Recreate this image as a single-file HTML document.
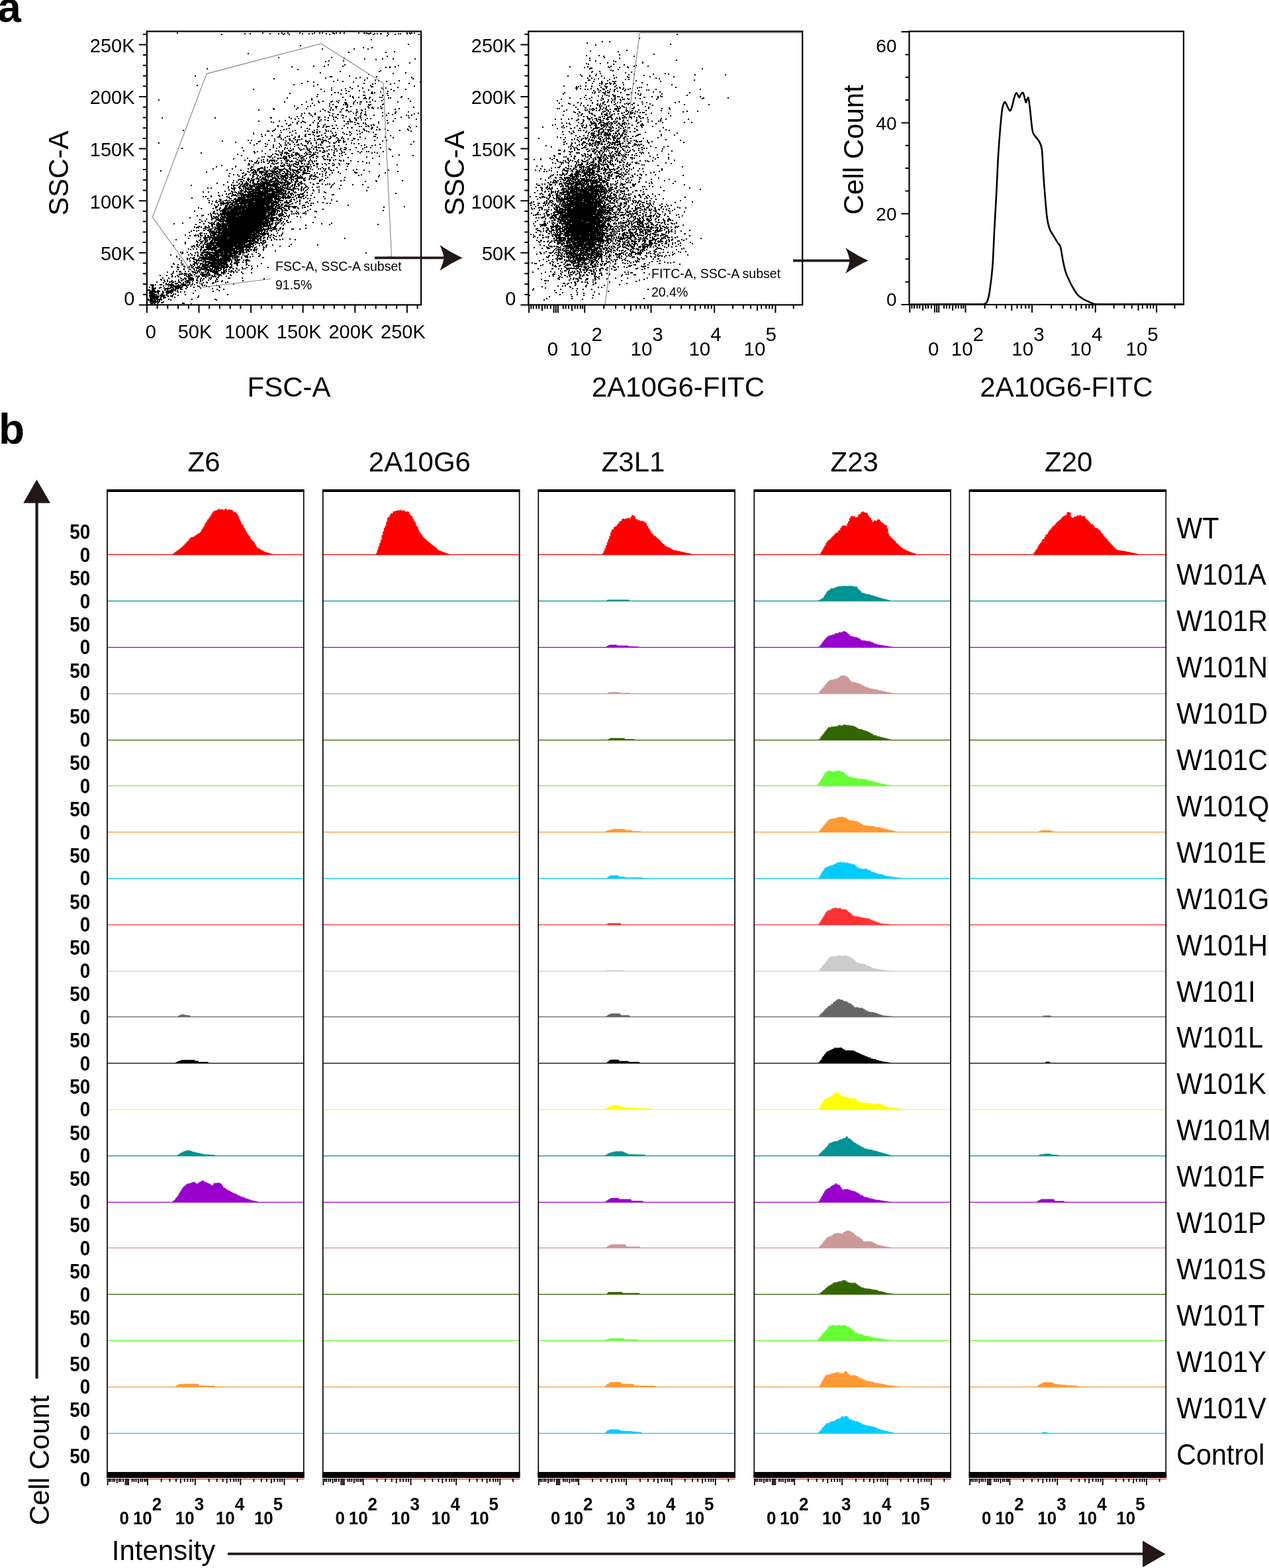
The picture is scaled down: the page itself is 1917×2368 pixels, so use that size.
<!DOCTYPE html><html><head><meta charset="utf-8"><title>Flow cytometry figure</title><style>html,body{margin:0;padding:0;background:#fff;}svg{display:block;}text{font-family:"Liberation Sans",Arial,sans-serif;}</style></head><body><svg width="1917" height="2368" viewBox="0 0 1917 2368" font-family="Liberation Sans, Arial, sans-serif" fill="#000"><text x="-3.8" y="33" font-size="64" font-weight="bold">a</text><text x="-2" y="670" font-size="64" font-weight="bold">b</text><path d="M267 50h2M396 50h2M425 50h2M434 50h2M452 50h2M474 50h2M482 50h2M486 50h2M502 50h3M507 50h2M513 50h2M519 50h2M541 50h2M549 50h3M553 50h2M559 50h2M585 50h2M614 50h2M618 50h2M621 50h2M625 50h2M369 51h2M377 51h2M407 51h2M420 51h2M429 51h2M456 51h2M466 51h2M471 51h2M492 51h2M504 51h2M555 51h4M565 51h2M569 51h2M574 51h3M601 51h2M604 51h2M614 51h2M619 51h2M334 52h2M427 52h2M436 52h2M497 52h2M563 52h2M586 52h2M596 52h2M632 52h2M584 54h2M560 60h2M616 67h2M453 69h2M548 72h2M561 72h2M486 74h2M534 74h2M555 74h2M595 78h2M526 79h2M582 79h2M374 81h2M584 85h2M420 87h2M500 87h2M519 88h2M550 89h2M577 89h2M593 89h2M626 89h2M567 90h2M496 92h2M518 92h2M491 93h2M618 95h2M495 98h2M520 98h2M601 99h2M473 100h2M489 100h2M517 100h2M440 101h2M588 101h2M596 101h2M582 102h2M588 102h2M312 104h2M449 105h2M574 107h2M513 108h2M572 108h2M483 110h2M612 110h2M593 111h2M556 112h2M294 115h2M527 115h2M498 116h4M568 116h2M543 117h2M621 117h2M491 118h2M537 118h2M554 118h2M413 119h2M623 119h2M509 121h2M550 121h2M566 121h2M571 122h2M602 122h2M464 123h2M503 123h2M517 123h2M583 123h2M473 124h2M533 124h2M634 124h2M455 126h2M549 126h2M566 126h2M595 126h2M617 126h2M562 127h2M589 127h2M443 128h2M479 128h2M297 129h2M559 129h2M473 130h2M540 130h2M625 130h2M560 131h4M528 132h2M600 132h2M500 133h2M547 133h2M576 133h2M582 133h2M521 134h2M531 134h2M382 135h2M484 135h2M578 135h2M590 135h2M612 135h2M500 136h2M515 136h2M556 136h2M522 137h2M542 137h2M594 137h2M489 138h2M526 138h2M585 138h2M549 139h2M561 139h2M574 139h2M505 140h2M510 140h2M565 140h2M437 141h2M522 141h2M560 141h4M584 141h2M514 142h2M479 143h2M500 143h2M548 144h4M577 144h2M585 144h2M528 145h2M478 146h2M532 146h2M606 146h2M517 147h2M532 147h2M541 147h2M551 147h2M558 147h2M573 147h2M576 147h2M605 147h2M433 148h2M533 148h2M550 148h2M586 148h2M589 148h2M470 149h2M549 149h2M552 149h2M557 149h2M616 149h2M579 150h2M239 151h2M470 151h2M521 151h2M562 151h2M511 152h2M536 152h2M576 152h2M480 153h2M487 153h2M501 153h2M508 153h2M566 153h2M619 153h2M429 154h2M462 154h2M499 154h2M534 154h2M543 154h4M553 154h2M558 154h2M600 154h2M481 155h2M510 155h2M520 155h4M539 155h2M471 156h2M533 156h2M497 157h2M521 157h4M533 157h2M543 157h2M579 157h2M455 158h2M502 158h2M518 158h2M521 158h3M556 158h2M559 158h2M577 158h2M474 159h2M524 159h2M557 159h2M444 160h2M468 160h2M497 160h2M464 161h2M506 161h4M524 161h2M529 161h2M555 161h2M574 161h2M523 162h2M562 162h2M624 162h2M449 163h2M499 163h2M507 163h2M556 163h2M561 163h2M570 163h2M576 163h2M412 164h2M462 164h2M517 164h2M563 164h2M575 164h2M602 164h2M413 165h2M447 165h2M487 165h2M551 165h2M596 165h2M390 166h2M498 166h2M502 166h2M515 166h2M523 166h2M538 166h2M545 166h2M490 167h2M522 167h4M546 167h2M483 168h2M529 168h2M495 169h2M513 169h3M526 169h2M538 169h3M551 169h2M597 169h2M616 169h2M497 170h2M545 170h2M577 170h2M459 171h2M466 171h2M475 171h2M533 171h2M537 171h2M586 171h2M596 171h2M631 171h2M455 172h2M467 172h2M502 172h2M544 172h2M551 172h2M625 172h2M475 173h2M509 173h3M550 173h2M592 173h2M469 174h2M497 174h2M516 174h2M537 174h2M552 174h2M564 174h2M583 174h2M613 174h2M621 174h2M454 175h2M501 175h2M518 175h2M544 175h2M577 175h2M616 175h2M448 176h2M471 176h2M522 176h2M543 176h2M436 177h2M480 177h4M490 177h2M503 177h2M506 177h3M605 177h2M244 178h2M324 178h2M408 178h3M457 178h2M481 178h2M495 178h2M517 178h2M535 178h2M540 178h2M544 178h2M617 178h2M439 179h2M450 179h2M509 179h2M535 179h2M554 179h2M559 179h2M596 179h2M445 180h2M480 180h2M503 180h2M527 180h2M537 180h2M628 180h2M484 181h2M490 181h2M545 181h2M551 181h2M430 182h2M474 182h2M494 182h3M528 182h2M537 182h2M584 182h2M390 183h2M421 183h2M450 183h2M456 183h2M482 183h2M505 183h2M519 183h2M593 183h2M409 184h2M458 184h2M524 184h4M529 184h4M571 184h2M412 185h2M441 185h2M448 185h2M454 185h2M460 185h2M472 185h2M535 185h2M479 186h3M539 186h2M548 186h2M551 186h2M571 186h2M585 186h2M432 187h2M448 187h2M522 187h2M525 187h2M541 187h2M438 188h2M490 188h2M536 188h2M552 188h2M563 188h2M437 189h2M467 189h3M479 189h2M507 189h2M560 189h2M564 189h2M419 190h2M435 190h2M488 190h2M501 190h2M519 190h2M555 190h2M419 191h2M425 191h2M481 191h2M492 191h6M542 191h2M545 191h2M552 191h2M556 191h2M617 191h2M628 191h2M454 192h2M479 192h2M487 192h2M492 192h2M561 192h2M569 192h2M524 193h2M530 193h3M562 193h2M619 193h2M436 194h2M463 194h2M502 194h4M509 194h2M516 194h2M561 194h2M415 195h2M432 195h2M466 195h2M548 195h3M560 195h2M572 195h2M581 195h2M615 195h2M428 196h2M478 196h2M491 196h2M568 196h2M572 196h3M276 197h2M413 197h2M423 197h2M445 197h2M474 197h2M538 197h2M550 197h2M585 197h2M603 197h2M616 197h2M403 198h4M411 198h2M441 198h2M460 198h2M464 198h2M492 198h2M495 198h2M499 198h2M542 198h2M553 198h2M620 198h2M471 199h2M478 199h2M482 199h2M527 199h2M556 199h2M424 200h2M437 200h2M472 200h4M506 200h2M517 200h2M528 200h2M546 200h2M563 200h2M382 201h2M446 201h2M478 201h2M490 201h2M501 201h2M382 202h2M519 202h2M530 202h2M543 202h2M394 203h2M461 203h2M465 203h5M472 203h2M507 203h2M523 203h2M539 203h2M566 203h3M400 204h2M422 204h2M440 204h2M460 204h2M485 204h2M503 204h2M528 204h2M410 205h2M451 205h2M474 205h2M481 205h2M491 205h2M502 205h2M506 205h2M589 205h2M395 206h2M421 206h2M433 206h2M436 206h2M460 206h3M478 206h4M498 206h2M504 206h2M564 206h4M419 207h2M422 207h2M445 207h2M450 207h3M493 207h2M499 207h2M516 207h2M543 207h2M581 207h2M430 208h2M487 208h2M508 208h2M569 208h2M593 208h2M424 209h2M443 209h2M468 209h2M474 209h2M498 209h2M515 209h2M518 209h2M533 209h4M551 209h2M414 210h2M424 210h2M436 210h3M455 210h2M480 210h4M496 210h2M510 210h2M525 210h2M534 210h2M427 211h2M445 211h2M449 211h2M452 211h2M479 211h2M483 211h2M486 211h2M540 211h2M374 212h2M379 212h2M405 212h2M437 212h2M448 212h2M461 212h2M474 212h3M488 212h4M509 212h2M512 212h3M518 212h2M531 212h2M565 212h2M583 212h2M335 213h2M392 213h2M414 213h2M431 213h2M440 213h2M466 213h3M492 213h2M511 213h2M577 213h2M390 214h2M448 214h2M461 214h4M485 214h4M495 214h2M507 214h2M518 214h4M624 214h2M355 215h2M442 215h2M447 215h2M465 215h2M477 215h2M511 215h2M518 215h2M239 216h2M377 216h2M430 216h2M434 216h3M469 216h2M485 216h3M497 216h2M503 216h4M530 216h2M387 217h2M400 217h2M421 217h2M454 217h2M464 217h2M469 217h2M477 217h2M534 217h2M541 217h2M403 218h2M437 218h2M444 218h2M450 218h2M483 218h2M522 218h2M573 218h2M620 218h2M383 219h2M412 219h2M423 219h2M430 219h4M448 219h4M456 219h2M480 219h2M484 219h2M550 219h2M566 219h2M459 220h4M471 220h2M504 220h2M511 220h2M545 220h2M561 220h2M400 221h3M412 221h2M424 221h2M444 221h2M477 221h2M496 221h3M421 222h2M462 222h2M475 222h2M493 222h2M504 222h2M553 222h2M365 223h2M412 223h2M430 223h2M450 223h2M470 223h2M477 223h2M480 223h4M485 223h2M520 223h2M537 223h2M550 223h2M559 223h2M574 223h2M274 224h2M417 224h2M433 224h2M438 224h2M463 224h2M487 224h2M514 224h2M522 224h2M429 225h2M442 225h2M452 225h2M458 225h2M463 225h3M467 225h2M473 225h2M505 225h4M547 225h2M587 225h2M407 226h2M442 226h2M455 226h2M477 226h2M496 226h2M500 226h2M513 226h2M519 226h4M528 226h2M589 226h2M435 227h2M439 227h2M453 227h2M464 227h4M478 227h2M488 227h2M367 228h2M395 228h2M416 228h2M420 228h2M426 228h2M436 228h4M482 228h3M489 228h2M493 228h2M504 228h2M508 228h2M515 228h2M383 229h2M388 229h2M467 229h2M490 229h2M540 229h2M545 229h2M553 229h2M556 229h2M578 229h2M422 230h2M425 230h2M431 230h3M442 230h3M461 230h2M466 230h2M469 230h2M476 230h2M486 230h4M516 230h2M519 230h2M565 230h2M303 231h2M384 231h2M425 231h2M429 231h3M433 231h2M446 231h4M473 231h2M479 231h2M503 231h3M543 231h2M561 231h2M569 231h2M400 232h2M415 232h2M425 232h2M432 232h2M435 232h2M450 232h2M459 232h2M462 232h3M495 232h2M512 232h2M515 232h2M531 232h2M358 233h2M411 233h2M417 233h2M423 233h3M432 233h2M440 233h2M446 233h2M449 233h3M463 233h2M466 233h4M473 233h4M496 233h2M521 233h2M419 234h2M445 234h4M451 234h2M471 234h2M503 234h2M602 234h2M364 235h2M409 235h2M424 235h2M435 235h3M439 235h2M442 235h2M454 235h3M461 235h2M470 235h4M489 235h2M494 235h2M505 235h2M516 235h2M623 235h2M404 236h2M428 236h3M440 236h2M452 236h2M459 236h2M469 236h2M477 236h3M487 236h2M512 236h2M572 236h2M592 236h2M395 237h2M398 237h2M406 237h4M414 237h2M431 237h3M436 237h2M457 237h2M467 237h2M479 237h2M486 237h2M494 237h2M553 237h2M427 238h2M430 238h2M437 238h2M450 238h2M454 238h4M467 238h2M472 238h2M500 238h2M525 238h2M373 239h2M390 239h2M411 239h2M419 239h2M422 239h4M427 239h3M432 239h2M443 239h2M446 239h2M462 239h2M477 239h2M488 239h2M562 239h2M352 240h2M419 240h2M430 240h4M454 240h3M458 240h2M397 241h2M403 241h2M429 241h2M448 241h2M468 241h2M489 241h4M494 241h2M497 241h2M506 241h2M369 242h2M388 242h2M394 242h2M408 242h8M433 242h4M451 242h2M457 242h2M460 242h2M498 242h2M503 242h2M512 242h2M518 242h2M376 243h2M379 243h2M403 243h2M406 243h2M409 243h4M417 243h2M424 243h2M431 243h2M440 243h2M451 243h6M460 243h2M467 243h2M470 243h2M474 243h2M477 243h2M497 243h2M514 243h2M518 243h2M529 243h2M380 244h2M387 244h2M397 244h2M414 244h2M433 244h2M437 244h6M446 244h2M455 244h2M465 244h2M474 244h2M540 244h2M547 244h2M390 245h2M394 245h2M398 245h2M406 245h2M447 245h2M450 245h2M454 245h2M471 245h2M384 246h4M411 246h2M419 246h2M425 246h2M431 246h2M449 246h3M466 246h2M553 246h2M557 246h2M375 247h2M389 247h2M404 247h2M410 247h3M416 247h3M424 247h2M433 247h2M444 247h3M455 247h3M472 247h2M477 247h4M490 247h2M496 247h2M502 247h2M511 247h2M523 247h2M526 247h2M413 248h2M428 248h2M436 248h2M442 248h2M446 248h3M450 248h2M459 248h2M463 248h4M479 248h2M486 248h2M525 248h2M572 248h2M374 249h4M382 249h2M429 249h2M439 249h2M442 249h2M448 249h2M468 249h2M478 249h2M492 249h2M504 249h2M512 249h2M599 249h2M334 250h2M408 250h2M423 250h2M426 250h2M433 250h2M436 250h2M473 250h3M502 250h2M355 251h2M424 251h6M435 251h2M438 251h2M443 251h3M452 251h2M455 251h4M460 251h5M524 251h2M326 252h2M355 252h2M379 252h4M399 252h2M408 252h2M414 252h3M419 252h2M446 252h2M453 252h4M464 252h4M469 252h2M478 252h2M395 253h2M399 253h2M403 253h2M417 253h2M437 253h2M448 253h2M463 253h2M486 253h2M496 253h2M508 253h2M378 254h2M392 254h6M412 254h2M416 254h4M429 254h2M452 254h3M458 254h3M465 254h2M321 255h2M350 255h2M374 255h2M389 255h4M399 255h2M413 255h5M419 255h2M428 255h3M436 255h4M464 255h2M468 255h2M480 255h2M483 255h2M488 255h2M491 255h2M496 255h2M379 256h2M382 256h2M388 256h2M398 256h2M406 256h2M413 256h4M421 256h7M431 256h2M441 256h2M449 256h5M459 256h2M464 256h2M471 256h2M522 256h2M538 256h2M342 257h2M363 257h2M380 257h2M384 257h2M390 257h2M398 257h3M410 257h2M413 257h2M422 257h2M433 257h2M438 257h2M441 257h6M453 257h4M460 257h2M464 257h2M490 257h2M498 257h2M503 257h2M533 257h2M549 257h2M586 257h2M242 258h2M378 258h2M385 258h2M388 258h2M401 258h5M407 258h2M418 258h2M423 258h4M432 258h4M445 258h6M458 258h4M489 258h2M500 258h2M373 259h2M382 259h2M385 259h2M391 259h7M409 259h11M422 259h2M428 259h2M433 259h4M442 259h2M449 259h2M464 259h2M467 259h2M486 259h2M557 259h2M600 259h2M311 260h2M375 260h2M384 260h4M394 260h6M401 260h4M415 260h3M420 260h4M429 260h2M433 260h2M437 260h2M442 260h2M447 260h2M450 260h4M457 260h3M492 260h2M510 260h2M535 260h2M367 261h2M380 261h4M391 261h6M400 261h2M411 261h4M416 261h2M421 261h2M438 261h2M444 261h2M458 261h5M474 261h2M478 261h2M501 261h2M536 261h4M581 261h2M346 262h2M365 262h2M386 262h2M401 262h2M405 262h7M413 262h2M418 262h2M426 262h3M430 262h6M438 262h2M449 262h2M457 262h11M491 262h2M513 262h2M370 263h3M382 263h4M394 263h2M398 263h4M403 263h2M406 263h3M416 263h2M419 263h2M422 263h3M431 263h2M437 263h3M441 263h3M446 263h2M457 263h2M482 263h2M486 263h2M352 264h2M358 264h2M377 264h2M387 264h2M402 264h3M410 264h3M414 264h2M422 264h2M433 264h3M437 264h2M456 264h2M469 264h3M475 264h2M497 264h2M545 264h2M369 265h2M381 265h2M389 265h2M396 265h2M399 265h2M403 265h2M406 265h2M411 265h2M417 265h2M424 265h4M429 265h6M439 265h4M446 265h4M453 265h2M491 265h2M541 265h2M572 265h2M345 266h2M360 266h2M366 266h2M382 266h2M402 266h9M417 266h5M424 266h2M427 266h3M441 266h2M445 266h2M448 266h3M467 266h4M472 266h4M486 266h2M381 267h2M388 267h2M392 267h3M400 267h2M403 267h2M407 267h2M414 267h2M423 267h2M426 267h6M434 267h2M438 267h4M443 267h2M452 267h2M455 267h2M468 267h2M476 267h3M571 267h2M365 268h2M381 268h2M392 268h2M396 268h2M404 268h2M410 268h3M419 268h3M424 268h2M430 268h3M437 268h2M442 268h2M448 268h7M456 268h2M479 268h2M494 268h2M520 268h2M368 269h2M374 269h2M387 269h2M397 269h5M404 269h2M411 269h7M419 269h3M427 269h2M433 269h2M438 269h3M448 269h10M460 269h2M467 269h2M491 269h2M374 270h2M379 270h2M386 270h6M395 270h2M398 270h4M421 270h3M425 270h4M431 270h2M445 270h5M458 270h2M470 270h2M475 270h2M361 271h6M373 271h5M382 271h3M394 271h2M397 271h6M408 271h5M416 271h4M436 271h2M439 271h5M448 271h2M466 271h2M473 271h2M486 271h2M359 272h2M380 272h4M390 272h2M393 272h2M398 272h4M403 272h3M408 272h3M415 272h2M418 272h2M424 272h3M428 272h5M442 272h2M458 272h4M482 272h4M519 272h2M352 273h2M367 273h2M374 273h2M378 273h2M382 273h2M401 273h2M406 273h5M417 273h4M432 273h2M439 273h2M447 273h3M459 273h2M482 273h2M489 273h2M514 273h2M567 273h2M607 273h2M363 274h2M371 274h2M381 274h2M388 274h4M394 274h3M402 274h2M406 274h2M411 274h6M418 274h4M430 274h6M445 274h6M454 274h2M482 274h2M551 274h2M568 274h2M343 275h2M357 275h2M365 275h2M377 275h2M382 275h2M388 275h2M396 275h16M413 275h2M420 275h8M440 275h2M351 276h2M365 276h2M372 276h2M377 276h2M381 276h2M388 276h2M393 276h2M397 276h4M403 276h5M413 276h3M417 276h2M420 276h2M428 276h4M433 276h6M445 276h3M452 276h4M468 276h2M327 277h2M361 277h2M365 277h2M370 277h5M381 277h4M389 277h3M393 277h11M406 277h2M412 277h8M423 277h4M429 277h2M438 277h2M445 277h2M450 277h2M456 277h2M478 277h4M504 277h2M360 278h2M365 278h2M368 278h2M372 278h4M383 278h8M392 278h2M395 278h4M403 278h6M411 278h4M417 278h5M425 278h2M428 278h2M433 278h5M449 278h3M454 278h2M459 278h2M472 278h2M486 278h2M494 278h2M497 278h2M337 279h2M349 279h2M363 279h2M369 279h2M377 279h2M386 279h2M389 279h3M394 279h7M402 279h4M407 279h12M421 279h2M429 279h5M441 279h2M444 279h3M450 279h3M473 279h2M491 279h2M502 279h2M532 279h2M547 279h2M288 280h2M349 280h2M352 280h4M357 280h2M367 280h3M371 280h4M376 280h2M380 280h6M389 280h12M406 280h14M427 280h4M434 280h2M441 280h2M451 280h2M461 280h2M514 280h2M362 281h2M365 281h3M373 281h2M378 281h5M384 281h2M387 281h13M402 281h4M407 281h8M417 281h3M423 281h4M430 281h2M439 281h3M444 281h2M450 281h2M500 281h2M344 282h2M352 282h2M361 282h2M365 282h2M368 282h4M377 282h4M383 282h3M389 282h2M392 282h5M398 282h3M403 282h2M412 282h5M419 282h2M426 282h2M433 282h3M447 282h2M455 282h2M462 282h3M481 282h2M360 283h3M375 283h2M378 283h4M385 283h9M396 283h2M399 283h4M407 283h3M417 283h7M427 283h2M434 283h2M437 283h2M444 283h2M460 283h2M471 283h2M478 283h2M499 283h2M555 283h2M313 284h2M318 284h2M344 284h2M349 284h2M353 284h3M362 284h2M367 284h2M370 284h6M379 284h2M386 284h3M390 284h2M393 284h2M397 284h8M408 284h4M415 284h2M422 284h5M429 284h7M437 284h2M442 284h4M455 284h2M465 284h2M350 285h5M361 285h2M367 285h2M372 285h2M377 285h4M385 285h28M415 285h4M420 285h2M423 285h3M429 285h2M432 285h4M446 285h2M449 285h2M454 285h2M458 285h2M512 285h2M364 286h2M370 286h2M373 286h15M391 286h2M398 286h5M406 286h10M418 286h4M426 286h3M434 286h5M440 286h2M443 286h2M463 286h2M345 287h2M353 287h2M364 287h2M375 287h2M381 287h12M397 287h8M408 287h2M411 287h3M416 287h4M421 287h7M439 287h5M450 287h2M454 287h2M457 287h2M472 287h2M481 287h2M362 288h2M366 288h2M370 288h2M380 288h3M385 288h6M392 288h2M396 288h2M402 288h12M417 288h8M428 288h5M442 288h2M454 288h2M461 288h2M473 288h2M553 288h2M339 289h2M349 289h2M363 289h3M371 289h2M376 289h8M385 289h3M389 289h7M399 289h3M403 289h6M410 289h6M417 289h2M420 289h2M423 289h3M427 289h2M430 289h3M436 289h2M442 289h2M306 290h2M314 290h2M351 290h2M354 290h2M360 290h2M364 290h2M368 290h4M373 290h6M381 290h2M384 290h4M389 290h2M392 290h2M395 290h4M402 290h3M410 290h11M422 290h2M430 290h2M435 290h2M445 290h2M459 290h2M481 290h2M489 290h2M329 291h2M350 291h2M356 291h2M363 291h2M374 291h2M378 291h2M383 291h3M387 291h2M390 291h15M410 291h2M413 291h10M424 291h4M436 291h2M444 291h4M463 291h2M491 291h2M347 292h2M360 292h4M366 292h2M376 292h7M384 292h11M396 292h13M410 292h3M418 292h2M421 292h2M424 292h9M434 292h2M439 292h4M457 292h2M471 292h2M597 292h2M341 293h2M345 293h2M350 293h2M358 293h2M362 293h6M370 293h2M374 293h6M381 293h3M385 293h2M388 293h3M392 293h24M417 293h3M421 293h3M426 293h6M438 293h2M453 293h5M344 294h2M351 294h3M355 294h2M363 294h2M367 294h14M388 294h4M393 294h3M398 294h4M404 294h5M412 294h7M420 294h2M424 294h2M427 294h3M432 294h2M439 294h2M442 294h2M449 294h4M456 294h2M501 294h4M329 295h2M335 295h2M351 295h5M360 295h2M363 295h36M400 295h2M403 295h16M420 295h2M428 295h2M435 295h2M439 295h2M446 295h2M458 295h2M463 295h2M469 295h2M318 296h2M331 296h2M349 296h2M356 296h3M367 296h2M373 296h2M376 296h2M380 296h23M404 296h16M426 296h3M430 296h2M434 296h2M445 296h2M451 296h2M306 297h2M310 297h2M318 297h2M342 297h2M364 297h2M368 297h2M371 297h2M375 297h16M393 297h4M399 297h12M414 297h5M420 297h4M426 297h2M434 297h5M450 297h2M456 297h3M488 297h2M344 298h3M359 298h12M372 298h7M380 298h2M384 298h13M399 298h20M424 298h2M428 298h4M433 298h2M438 298h2M441 298h3M450 298h6M461 298h2M474 298h2M289 299h2M365 299h6M377 299h2M381 299h14M396 299h14M414 299h5M420 299h2M426 299h2M432 299h6M447 299h2M454 299h2M313 300h2M346 300h4M354 300h3M359 300h8M368 300h3M374 300h2M377 300h29M407 300h5M415 300h2M418 300h7M427 300h2M430 300h2M447 300h2M458 300h2M464 300h2M468 300h2M490 300h2M331 301h2M353 301h2M358 301h2M361 301h18M380 301h25M406 301h6M414 301h9M439 301h2M443 301h2M333 302h2M341 302h2M355 302h3M359 302h2M363 302h14M378 302h6M385 302h2M388 302h6M396 302h6M403 302h4M409 302h2M415 302h2M419 302h4M444 302h2M452 302h2M500 302h2M315 303h2M326 303h2M332 303h2M339 303h5M345 303h2M349 303h4M358 303h5M365 303h6M372 303h20M393 303h6M400 303h9M411 303h2M422 303h6M432 303h2M437 303h3M452 303h2M467 303h2M320 304h2M330 304h2M336 304h2M352 304h2M355 304h7M364 304h2M368 304h5M375 304h8M385 304h19M407 304h4M412 304h6M420 304h2M438 304h3M448 304h2M508 304h2M325 305h2M333 305h2M343 305h2M347 305h2M354 305h5M361 305h4M366 305h2M370 305h6M377 305h5M385 305h2M388 305h23M412 305h4M417 305h5M430 305h4M437 305h2M452 305h2M463 305h2M479 305h2M315 306h2M327 306h2M336 306h2M342 306h7M350 306h4M355 306h4M362 306h2M365 306h13M379 306h15M395 306h24M423 306h2M429 306h8M446 306h2M461 306h2M487 306h2M332 307h4M338 307h7M349 307h2M356 307h2M361 307h2M364 307h4M369 307h13M384 307h23M409 307h5M418 307h2M441 307h2M465 307h2M469 307h2M472 307h2M493 307h2M498 307h2M319 308h2M336 308h3M344 308h2M349 308h3M354 308h7M363 308h9M375 308h19M395 308h13M409 308h5M416 308h2M420 308h2M426 308h2M434 308h2M440 308h2M452 308h2M329 309h2M333 309h2M336 309h2M343 309h2M347 309h6M357 309h4M364 309h2M368 309h4M374 309h29M404 309h2M409 309h9M421 309h2M424 309h2M431 309h2M437 309h2M323 310h2M329 310h2M333 310h2M340 310h4M346 310h2M351 310h5M358 310h3M363 310h3M368 310h32M402 310h4M409 310h6M417 310h4M425 310h2M458 310h3M468 310h3M525 310h2M350 311h6M357 311h15M373 311h27M401 311h13M420 311h2M424 311h2M429 311h8M456 311h2M325 312h4M340 312h4M345 312h6M353 312h20M375 312h25M401 312h2M404 312h5M410 312h4M415 312h4M420 312h4M429 312h2M432 312h2M437 312h2M440 312h9M464 312h2M610 312h2M326 313h2M339 313h4M347 313h4M354 313h8M363 313h10M374 313h9M384 313h13M398 313h9M409 313h4M415 313h2M421 313h2M426 313h2M435 313h3M442 313h2M459 313h3M579 313h2M299 314h2M325 314h2M332 314h2M344 314h3M348 314h2M351 314h3M355 314h4M361 314h19M382 314h30M415 314h2M418 314h4M424 314h2M427 314h2M443 314h4M449 314h2M456 314h2M303 315h2M321 315h2M331 315h2M338 315h11M353 315h2M356 315h11M368 315h2M372 315h22M395 315h12M410 315h6M418 315h6M429 315h2M435 315h2M450 315h2M331 316h2M337 316h2M340 316h2M345 316h2M348 316h5M354 316h16M371 316h31M403 316h14M424 316h2M430 316h3M436 316h2M468 316h2M487 316h2M327 317h2M330 317h2M335 317h2M339 317h5M348 317h16M365 317h14M380 317h2M383 317h26M410 317h3M416 317h3M426 317h2M430 317h2M327 318h2M334 318h6M344 318h2M347 318h13M361 318h2M365 318h12M378 318h31M410 318h7M419 318h3M425 318h2M429 318h6M464 318h2M578 318h2M293 319h2M323 319h2M332 319h2M336 319h6M343 319h10M355 319h5M361 319h33M395 319h12M409 319h8M418 319h2M421 319h2M426 319h2M439 319h2M447 319h2M475 319h2M322 320h3M335 320h4M341 320h3M346 320h3M351 320h25M377 320h24M402 320h5M409 320h8M425 320h2M440 320h2M461 320h2M477 320h2M338 321h5M344 321h11M356 321h43M400 321h3M404 321h12M418 321h2M425 321h2M429 321h2M449 321h2M317 322h2M321 322h3M327 322h2M332 322h2M335 322h5M341 322h3M346 322h4M353 322h49M405 322h2M409 322h2M412 322h2M431 322h2M446 322h2M457 322h4M324 323h2M328 323h2M333 323h3M337 323h6M344 323h2M347 323h13M361 323h35M397 323h6M404 323h6M414 323h2M417 323h2M422 323h5M440 323h2M443 323h2M447 323h2M450 323h2M461 323h2M314 324h2M318 324h2M332 324h3M336 324h9M346 324h5M352 324h17M370 324h27M398 324h4M404 324h12M417 324h2M421 324h2M425 324h4M306 325h2M329 325h3M333 325h3M342 325h7M350 325h12M363 325h9M373 325h16M390 325h11M406 325h2M409 325h7M420 325h4M426 325h2M432 325h2M436 325h2M297 326h2M304 326h2M318 326h2M329 326h2M338 326h2M341 326h16M358 326h4M363 326h36M401 326h7M410 326h2M423 326h4M436 326h2M322 327h2M326 327h2M334 327h8M343 327h2M346 327h11M359 327h43M403 327h4M409 327h3M421 327h2M428 327h4M434 327h2M448 327h2M319 328h2M324 328h6M332 328h2M340 328h2M344 328h33M378 328h21M400 328h6M408 328h3M417 328h2M453 328h2M475 328h2M286 329h2M323 329h3M332 329h2M335 329h9M345 329h42M391 329h13M405 329h2M408 329h10M424 329h2M435 329h2M319 330h4M325 330h2M328 330h3M334 330h5M341 330h58M405 330h8M417 330h4M425 330h2M311 331h2M326 331h2M329 331h2M333 331h6M341 331h48M390 331h15M408 331h6M423 331h2M429 331h2M301 332h2M319 332h2M326 332h4M331 332h2M336 332h4M341 332h58M402 332h4M408 332h2M411 332h3M418 332h2M421 332h3M329 333h3M333 333h2M337 333h5M343 333h55M400 333h7M408 333h3M412 333h3M416 333h2M419 333h2M423 333h3M433 333h2M304 334h2M309 334h2M324 334h3M331 334h2M334 334h4M341 334h2M345 334h51M399 334h8M411 334h2M432 334h2M332 335h7M340 335h5M346 335h45M392 335h9M402 335h2M406 335h3M410 335h2M422 335h2M427 335h2M438 335h2M301 336h2M314 336h2M319 336h2M323 336h2M329 336h2M336 336h2M343 336h53M398 336h5M404 336h2M416 336h2M419 336h3M434 336h3M472 336h2M275 337h2M316 337h2M321 337h2M327 337h2M342 337h2M347 337h33M381 337h7M389 337h15M406 337h2M411 337h2M419 337h3M425 337h2M500 337h2M262 338h2M307 338h2M318 338h2M321 338h3M327 338h6M334 338h17M353 338h29M383 338h10M394 338h4M400 338h5M406 338h2M409 338h2M415 338h2M418 338h2M424 338h2M429 338h2M485 338h2M295 339h2M320 339h2M323 339h2M327 339h7M335 339h2M339 339h8M348 339h12M361 339h34M396 339h5M403 339h2M406 339h3M410 339h2M416 339h3M497 339h2M570 339h2M319 340h2M326 340h8M335 340h63M402 340h2M406 340h2M427 340h2M461 340h2M314 341h2M319 341h3M327 341h11M339 341h56M398 341h12M416 341h2M300 342h2M309 342h2M320 342h2M330 342h13M344 342h52M397 342h6M404 342h3M408 342h2M414 342h4M293 343h2M298 343h2M303 343h2M311 343h2M315 343h2M324 343h2M327 343h5M335 343h4M341 343h2M345 343h4M351 343h36M388 343h6M395 343h3M405 343h2M296 344h2M299 344h2M309 344h2M313 344h2M321 344h2M324 344h2M328 344h5M334 344h8M344 344h42M387 344h9M404 344h3M408 344h2M411 344h6M423 344h2M307 345h2M324 345h5M331 345h17M349 345h31M381 345h10M393 345h3M397 345h2M404 345h7M422 345h2M427 345h2M461 345h2M310 346h2M315 346h6M324 346h2M328 346h21M350 346h14M365 346h20M388 346h7M398 346h6M413 346h6M422 346h2M426 346h2M440 346h4M452 346h2M323 347h3M327 347h7M336 347h12M349 347h31M381 347h7M390 347h13M404 347h2M411 347h2M292 348h2M299 348h2M307 348h3M313 348h3M317 348h2M329 348h6M336 348h56M393 348h3M399 348h2M407 348h4M420 348h2M288 349h2M296 349h2M315 349h2M318 349h5M326 349h2M329 349h4M335 349h52M390 349h7M399 349h2M403 349h2M409 349h2M417 349h2M317 350h4M323 350h2M329 350h3M336 350h2M339 350h46M386 350h5M394 350h2M399 350h2M402 350h2M285 351h2M316 351h2M321 351h2M324 351h18M343 351h42M387 351h5M394 351h2M397 351h4M302 352h4M319 352h2M322 352h5M331 352h8M341 352h7M349 352h32M382 352h11M404 352h2M418 352h2M426 352h2M301 353h2M308 353h2M311 353h2M317 353h2M321 353h4M329 353h16M347 353h33M383 353h4M390 353h15M302 354h2M322 354h2M325 354h3M329 354h3M334 354h23M358 354h30M393 354h3M398 354h4M404 354h2M409 354h2M425 354h2M279 355h2M295 355h2M298 355h2M317 355h8M327 355h5M333 355h19M353 355h29M384 355h2M387 355h4M396 355h4M412 355h2M286 356h2M293 356h4M302 356h4M309 356h2M313 356h3M318 356h7M327 356h2M330 356h3M334 356h9M344 356h30M376 356h3M381 356h4M389 356h4M396 356h2M405 356h2M408 356h2M413 356h2M421 356h2M424 356h2M299 357h2M309 357h2M322 357h3M328 357h10M339 357h37M377 357h3M381 357h10M392 357h4M405 357h2M416 357h2M314 358h6M323 358h9M333 358h12M346 358h24M371 358h16M388 358h3M398 358h2M404 358h2M302 359h2M307 359h8M318 359h5M325 359h13M339 359h6M346 359h31M378 359h2M382 359h7M392 359h3M399 359h2M403 359h2M407 359h2M412 359h2M284 360h2M316 360h2M321 360h6M328 360h15M344 360h25M371 360h12M384 360h4M391 360h2M397 360h2M403 360h2M520 360h2M308 361h4M320 361h8M329 361h8M340 361h3M345 361h30M377 361h2M383 361h3M387 361h5M393 361h2M403 361h2M414 361h2M426 361h2M437 361h2M265 362h2M302 362h2M309 362h2M312 362h2M315 362h3M320 362h4M328 362h4M333 362h42M377 362h2M380 362h4M388 362h3M409 362h2M417 362h2M422 362h2M445 362h2M300 363h2M319 363h3M323 363h8M332 363h5M338 363h21M360 363h8M369 363h17M393 363h2M398 363h2M409 363h2M296 364h2M306 364h2M309 364h5M323 364h3M327 364h2M330 364h2M333 364h42M376 364h10M388 364h3M396 364h2M400 364h2M297 365h2M302 365h4M311 365h2M317 365h5M323 365h2M327 365h45M374 365h2M377 365h3M381 365h3M386 365h2M397 365h2M279 366h2M298 366h2M310 366h2M318 366h5M324 366h2M327 366h9M337 366h11M349 366h25M376 366h2M385 366h4M393 366h2M400 366h2M304 367h2M308 367h2M313 367h2M316 367h2M320 367h2M323 367h7M332 367h2M336 367h9M346 367h11M358 367h3M362 367h11M376 367h5M382 367h3M387 367h4M394 367h3M398 367h2M279 368h2M302 368h2M308 368h2M312 368h2M315 368h9M329 368h12M345 368h6M352 368h17M375 368h2M380 368h4M391 368h2M396 368h2M297 369h2M309 369h2M312 369h2M317 369h7M326 369h14M341 369h16M360 369h2M363 369h7M373 369h3M377 369h4M385 369h2M439 369h2M296 370h3M300 370h2M306 370h2M311 370h12M325 370h2M328 370h11M340 370h10M351 370h7M359 370h8M369 370h5M375 370h4M381 370h2M396 370h2M402 370h2M411 370h2M479 370h2M261 371h2M292 371h2M312 371h4M317 371h2M321 371h4M327 371h40M368 371h2M371 371h7M382 371h2M391 371h2M289 372h3M297 372h2M303 372h2M306 372h2M314 372h3M318 372h2M323 372h4M328 372h11M340 372h17M359 372h7M367 372h7M377 372h3M401 372h2M422 372h2M436 372h2M289 373h2M293 373h2M299 373h2M310 373h4M316 373h3M322 373h2M325 373h2M329 373h7M337 373h7M345 373h7M355 373h12M368 373h4M374 373h5M380 373h3M386 373h2M397 373h2M401 373h2M303 374h5M311 374h5M320 374h2M323 374h6M332 374h20M357 374h2M362 374h7M371 374h8M384 374h2M398 374h2M313 375h12M326 375h2M333 375h25M359 375h5M384 375h2M284 376h2M291 376h2M296 376h2M303 376h2M312 376h11M325 376h2M330 376h13M344 376h11M358 376h2M363 376h5M371 376h2M376 376h2M383 376h2M387 376h2M397 376h2M287 377h2M302 377h3M308 377h5M314 377h5M320 377h6M329 377h13M343 377h4M348 377h6M356 377h13M370 377h2M373 377h3M378 377h3M384 377h2M306 378h2M309 378h2M314 378h2M319 378h3M323 378h6M331 378h15M347 378h5M353 378h2M356 378h2M361 378h2M365 378h3M374 378h2M378 378h2M382 378h3M386 378h2M397 378h2M302 379h2M308 379h2M324 379h13M338 379h16M355 379h3M362 379h3M367 379h2M371 379h3M375 379h2M383 379h2M415 379h2M307 380h2M312 380h2M326 380h11M338 380h10M352 380h15M375 380h2M272 381h2M275 381h2M282 381h2M297 381h2M305 381h18M324 381h2M327 381h6M334 381h8M344 381h6M354 381h3M363 381h2M367 381h2M371 381h3M386 381h2M275 382h2M294 382h2M298 382h2M303 382h2M307 382h2M311 382h5M321 382h3M326 382h3M331 382h29M361 382h4M366 382h4M552 382h2M274 383h2M287 383h2M305 383h2M313 383h2M316 383h2M321 383h2M324 383h2M327 383h4M334 383h3M339 383h5M346 383h13M390 383h2M304 384h2M310 384h2M313 384h8M322 384h9M333 384h4M338 384h6M346 384h5M353 384h4M360 384h4M374 384h2M380 384h2M257 385h2M284 385h2M289 385h2M298 385h2M302 385h2M308 385h2M311 385h3M316 385h4M322 385h2M326 385h4M331 385h9M342 385h9M355 385h2M360 385h2M366 385h2M392 385h2M293 386h2M304 386h3M310 386h2M316 386h10M328 386h10M340 386h16M357 386h2M369 386h2M372 386h2M266 387h2M298 387h2M306 387h2M310 387h4M316 387h9M326 387h6M333 387h19M369 387h2M373 387h2M381 387h2M390 387h3M266 388h2M301 388h2M307 388h2M314 388h2M320 388h4M326 388h5M335 388h2M342 388h7M350 388h3M354 388h8M364 388h2M370 388h3M377 388h2M287 389h2M292 389h2M303 389h10M314 389h6M321 389h9M336 389h10M350 389h2M353 389h3M357 389h2M373 389h2M396 389h3M282 390h2M290 390h4M301 390h2M304 390h2M307 390h2M312 390h15M328 390h3M332 390h10M343 390h5M364 390h2M270 391h2M285 391h2M299 391h2M304 391h4M309 391h5M317 391h3M321 391h2M328 391h3M332 391h17M351 391h2M354 391h2M357 391h2M282 392h2M292 392h5M299 392h2M307 392h4M312 392h9M322 392h12M335 392h3M340 392h6M347 392h3M355 392h2M358 392h2M361 392h2M372 392h2M296 393h4M302 393h4M316 393h8M325 393h17M343 393h5M354 393h2M360 393h2M367 393h2M370 393h2M374 393h2M273 394h2M286 394h2M297 394h2M300 394h2M303 394h3M307 394h4M316 394h2M320 394h15M337 394h7M345 394h2M349 394h2M355 394h5M372 394h2M375 394h3M292 395h2M296 395h2M309 395h9M320 395h5M327 395h9M337 395h3M345 395h2M349 395h2M356 395h2M371 395h2M293 396h2M306 396h2M311 396h15M327 396h7M335 396h2M338 396h6M349 396h2M359 396h3M366 396h2M273 397h2M293 397h5M299 397h2M309 397h2M314 397h2M317 397h10M331 397h7M340 397h2M353 397h6M371 397h2M261 398h2M296 398h2M302 398h4M310 398h2M314 398h5M320 398h5M327 398h16M348 398h2M353 398h7M394 398h2M262 399h2M275 399h2M291 399h4M297 399h2M306 399h3M313 399h3M318 399h17M338 399h6M347 399h3M372 399h2M268 400h2M274 400h2M287 400h2M293 400h2M297 400h2M302 400h2M305 400h2M308 400h8M319 400h7M327 400h9M337 400h8M349 400h2M357 400h2M371 400h2M289 401h2M293 401h2M305 401h4M312 401h3M317 401h2M320 401h4M328 401h2M331 401h6M358 401h2M375 401h2M277 402h2M288 402h2M300 402h2M306 402h6M313 402h2M316 402h4M322 402h6M329 402h2M333 402h6M341 402h5M349 402h2M379 402h2M388 402h2M258 403h3M267 403h2M278 403h2M285 403h2M291 403h2M298 403h2M304 403h2M308 403h4M313 403h5M320 403h9M330 403h2M334 403h3M338 403h3M347 403h2M267 404h4M283 404h2M289 404h2M295 404h4M301 404h2M307 404h7M315 404h2M320 404h6M327 404h5M333 404h11M346 404h2M349 404h2M365 404h2M372 404h2M404 404h2M296 405h5M303 405h3M308 405h5M316 405h2M320 405h2M325 405h8M337 405h3M347 405h2M356 405h2M380 405h2M277 406h2M285 406h2M291 406h3M304 406h4M309 406h5M317 406h2M320 406h2M324 406h2M327 406h2M333 406h2M337 406h2M351 406h2M357 406h2M366 406h2M369 406h2M268 407h2M277 407h2M285 407h4M300 407h4M305 407h4M310 407h6M317 407h5M323 407h8M333 407h2M337 407h2M341 407h2M345 407h2M379 407h2M293 408h2M296 408h2M302 408h2M310 408h10M326 408h2M332 408h2M337 408h2M340 408h2M360 408h2M299 409h2M309 409h2M314 409h2M321 409h4M326 409h2M329 409h3M339 409h2M348 409h3M355 409h2M261 410h2M266 410h2M270 410h4M279 410h2M284 410h2M289 410h3M297 410h2M300 410h2M310 410h2M314 410h2M317 410h5M323 410h3M328 410h2M337 410h3M341 410h2M345 410h2M351 410h2M252 411h2M261 411h2M271 411h3M291 411h5M300 411h2M303 411h2M309 411h2M313 411h2M320 411h9M334 411h2M337 411h2M348 411h2M352 411h2M357 411h2M364 411h2M297 412h2M304 412h4M312 412h4M323 412h4M328 412h2M336 412h5M352 412h2M379 412h2M260 413h2M274 413h2M278 413h4M286 413h2M295 413h2M305 413h2M312 413h2M315 413h2M324 413h4M334 413h2M337 413h2M344 413h2M366 413h2M258 414h2M270 414h6M277 414h2M283 414h2M302 414h2M306 414h2M309 414h5M315 414h2M323 414h3M328 414h2M337 414h2M270 415h2M280 415h2M284 415h2M287 415h3M293 415h2M304 415h8M314 415h4M323 415h2M327 415h7M347 415h2M241 416h2M251 416h2M259 416h2M267 416h2M278 416h2M284 416h4M289 416h2M304 416h4M311 416h2M316 416h2M319 416h2M333 416h2M348 416h2M268 417h2M281 417h2M284 417h4M296 417h2M299 417h3M305 417h5M313 417h2M320 417h2M323 417h3M330 417h2M341 417h2M259 418h2M264 418h2M269 418h2M283 418h2M298 418h2M310 418h2M321 418h2M324 418h3M286 419h2M289 419h2M298 419h2M310 419h2M318 419h2M328 419h3M245 420h2M254 420h2M272 420h2M278 420h3M284 420h2M287 420h2M303 420h2M315 420h2M318 420h2M344 420h4M365 420h2M511 420h2M273 421h2M280 421h2M284 421h4M289 421h4M297 421h2M307 421h2M326 421h2M398 421h2M242 422h2M276 422h2M279 422h2M285 422h8M302 422h2M317 422h2M327 422h2M243 423h2M247 423h2M252 423h2M269 423h2M275 423h2M286 423h4M291 423h2M296 423h2M302 423h2M305 423h2M314 423h2M259 424h2M273 424h2M281 424h5M297 424h2M325 424h2M335 424h2M366 424h2M248 425h2M252 425h2M258 425h2M264 425h2M269 425h2M279 425h2M283 425h3M290 425h2M302 425h2M325 425h2M328 425h2M334 425h2M236 426h2M255 426h3M261 426h2M269 426h3M279 426h2M282 426h6M311 426h2M325 426h2M343 426h2M246 427h2M259 427h2M272 427h2M276 427h2M281 427h3M285 427h2M296 427h3M306 427h2M312 427h2M321 427h3M340 427h2M250 428h2M264 428h5M276 428h2M285 428h2M290 428h2M301 428h2M320 428h2M254 429h2M258 429h2M265 429h2M274 429h2M279 429h2M286 429h2M304 429h2M352 429h2M227 430h2M230 430h2M234 430h2M241 430h4M250 430h4M255 430h7M269 430h2M273 430h6M280 430h2M283 430h2M289 430h2M293 430h2M228 431h5M257 431h2M260 431h3M268 431h3M272 431h2M277 431h5M283 431h2M305 431h2M308 431h2M326 431h2M246 432h2M254 432h2M258 432h2M263 432h6M270 432h3M275 432h2M281 432h2M287 432h2M298 432h2M311 432h2M330 432h2M229 433h3M257 433h3M261 433h10M274 433h2M281 433h2M300 433h2M315 433h2M225 434h2M229 434h3M242 434h2M258 434h4M266 434h10M282 434h2M292 434h2M331 434h2M231 435h2M234 435h2M240 435h2M247 435h2M253 435h2M256 435h2M260 435h2M264 435h3M302 435h2M229 436h3M233 436h2M249 436h8M261 436h2M266 436h5M272 436h2M280 436h2M320 436h2M231 437h3M258 437h2M261 437h2M264 437h2M272 437h4M327 437h2M337 437h2M223 438h4M229 438h2M248 438h3M252 438h2M260 438h4M226 439h2M230 439h5M237 439h3M252 439h3M256 439h6M264 439h2M267 439h2M294 439h2M330 439h2M227 440h6M238 440h4M245 440h2M251 440h2M254 440h8M267 440h2M321 440h2M225 441h7M233 441h6M250 441h12M268 441h2M272 441h2M278 441h2M227 442h5M233 442h2M238 442h2M245 442h3M254 442h6M225 443h6M232 443h2M245 443h2M251 443h4M258 443h2M291 443h2M227 444h2M231 444h3M238 444h2M243 444h4M251 444h2M261 444h2M264 444h2M228 445h9M243 445h4M251 445h2M279 445h2M343 445h2M225 446h5M232 446h3M241 446h2M246 446h4M251 446h2M260 446h2M268 446h2M225 447h2M230 447h2M236 447h4M242 447h5M253 447h2M257 447h3M299 447h2M226 448h15M243 448h2M247 448h2M253 448h2M259 448h2M226 449h2M229 449h11M242 449h2M246 449h5M263 449h2M298 449h2M226 450h13M242 450h2M246 450h4M228 451h6M223 452h2M227 452h4M232 452h2M235 452h10M254 452h2M289 452h2M324 452h2M223 453h7M234 453h2M237 453h5M243 453h2M257 453h2M326 453h2M226 454h10M237 454h2M226 455h2M229 455h2M232 455h3M240 455h2M226 456h15M246 456h2M227 457h2M230 457h4M238 457h2M243 457h3M227 458h4M232 458h3M275 458h4M228 459h3M232 459h3M237 459h2M288 459h2" stroke="#000" stroke-width="2" fill="none"/><path d="M230.4 328L312.1 111.3L485 66L579.1 125.5L591.5 387L407 421.5L306.6 433.9Z" fill="none" stroke="#8c8c8c" stroke-width="1.2"/><rect x="409" y="391.4" width="200" height="48.6" fill="#fff"/><text x="416" y="408.8" font-size="19.5">FSC-A, SSC-A subset</text><text x="416" y="436.8" font-size="19.5">91.5%</text><rect x="221.9" y="47.4" width="414.2" height="413" fill="none" stroke="#000" stroke-width="2.2"/><path d="M209.9 460.4h12M215.9 444.7h6M215.9 429h6M215.9 413.2h6M215.9 397.5h6M209.9 381.8h12M215.9 366.1h6M215.9 350.4h6M215.9 334.6h6M215.9 318.9h6M209.9 303.2h12M215.9 287.5h6M215.9 271.8h6M215.9 256h6M215.9 240.3h6M209.9 224.6h12M215.9 208.9h6M215.9 193.2h6M215.9 177.4h6M215.9 161.7h6M209.9 146h12M215.9 130.3h6M215.9 114.6h6M215.9 98.8h6M215.9 83.1h6M209.9 67.4h12M215.9 51.7h6" stroke="#000" stroke-width="2" fill="none"/><path d="M221.9 460.4v12M237.6 460.4v6M253.3 460.4v6M269.1 460.4v6M284.8 460.4v6M300.5 460.4v12M316.2 460.4v6M331.9 460.4v6M347.7 460.4v6M363.4 460.4v6M379.1 460.4v12M394.8 460.4v6M410.5 460.4v6M426.3 460.4v6M442 460.4v6M457.7 460.4v12M473.4 460.4v6M489.1 460.4v6M504.9 460.4v6M520.6 460.4v6M536.3 460.4v12M552 460.4v6M567.7 460.4v6M583.5 460.4v6M599.2 460.4v6M614.9 460.4v12M630.6 460.4v6" stroke="#000" stroke-width="2" fill="none"/><text x="203.5" y="461.4" font-size="29" text-anchor="end">0</text><text x="203.5" y="393.1" font-size="29" text-anchor="end">50K</text><text x="203.5" y="314.5" font-size="29" text-anchor="end">100K</text><text x="203.5" y="235.9" font-size="29" text-anchor="end">150K</text><text x="203.5" y="157.3" font-size="29" text-anchor="end">200K</text><text x="203.5" y="78.7" font-size="29" text-anchor="end">250K</text><text x="227.9" y="511" font-size="29" text-anchor="middle">0</text><text x="294.5" y="511" font-size="29" text-anchor="middle">50K</text><text x="373.1" y="511" font-size="29" text-anchor="middle">100K</text><text x="451.7" y="511" font-size="29" text-anchor="middle">150K</text><text x="530.3" y="511" font-size="29" text-anchor="middle">200K</text><text x="608.9" y="511" font-size="29" text-anchor="middle">250K</text><text x="436.5" y="599" font-size="42" text-anchor="middle">FSC-A</text><text transform="translate(102.8 261.6) rotate(-90)" font-size="42" text-anchor="middle">SSC-A</text><path d="M1022 52h2M965 58h2M909 63h2M920 63h2M886 65h2M1012 67h2M899 68h2M946 76h2M891 77h2M933 78h2M987 82h2M935 83h2M885 84h2M904 84h2M911 85h2M957 85h2M912 87h2M890 88h2M935 88h2M890 91h2M1021 91h2M899 92h2M926 92h2M929 93h2M970 94h2M917 95h2M970 95h2M885 96h2M906 96h2M888 97h2M926 97h2M942 98h2M960 99h2M922 100h2M957 100h2M978 100h2M860 101h2M887 101h2M918 101h2M947 101h2M882 102h2M920 102h2M935 102h2M948 102h2M891 103h4M890 104h2M1060 104h2M933 105h2M922 106h2M925 107h2M894 108h2M905 108h2M893 109h2M953 109h2M944 110h2M906 111h2M1004 111h2M900 112h2M957 112h2M986 112h2M1009 112h2M876 113h2M949 113h2M1049 113h2M1095 113h2M890 114h2M899 114h2M926 114h2M972 114h2M857 115h2M878 115h2M890 115h2M908 115h2M947 116h2M981 116h2M1017 116h2M930 117h2M949 117h2M887 118h2M893 118h2M912 118h2M927 118h2M990 118h2M903 119h2M995 119h2M897 120h2M920 120h2M944 120h2M949 120h2M888 121h4M1048 121h2M917 122h2M960 122h2M896 123h2M908 123h2M925 123h2M929 123h2M997 123h2M927 124h2M884 125h2M908 125h3M920 125h2M940 125h2M969 125h2M894 126h2M905 126h2M916 126h2M922 126h2M928 126h2M956 126h2M908 127h2M914 127h2M921 127h2M926 127h2M941 128h2M977 128h2M1014 128h2M905 129h2M930 129h2M851 130h2M876 130h2M884 130h2M893 130h2M913 130h2M870 131h2M873 131h2M893 131h2M914 131h4M928 131h2M907 132h2M935 132h2M965 132h2M968 132h2M1020 132h2M869 133h4M915 133h2M931 133h2M936 133h2M941 133h2M962 133h2M876 134h2M892 134h2M902 134h2M910 134h2M951 134h2M870 135h2M883 135h2M887 135h2M910 135h4M921 135h2M928 135h2M940 135h2M944 135h2M948 135h2M990 135h2M1057 135h2M903 136h2M927 136h2M976 136h2M979 136h2M896 137h2M906 137h2M917 137h2M943 137h2M964 137h2M914 138h2M920 138h2M927 138h2M932 138h2M898 139h2M904 139h2M986 139h2M996 139h2M852 140h2M894 140h2M910 140h2M913 140h2M917 140h4M937 140h2M953 140h2M959 140h2M1041 140h2M897 141h2M912 141h2M850 142h2M913 142h2M963 142h2M967 142h2M999 142h2M913 143h2M925 143h2M946 143h5M884 144h2M916 144h2M928 144h2M966 144h2M1037 144h2M903 145h2M909 145h2M919 145h2M926 145h2M997 145h2M928 146h2M932 146h4M984 146h2M993 146h2M999 146h2M1057 146h2M882 147h2M893 147h2M939 147h2M972 147h3M860 148h2M908 148h2M928 148h2M959 148h2M993 148h2M1062 148h2M1099 148h2M876 149h2M890 149h2M910 149h2M923 149h2M947 149h2M966 149h2M1060 149h2M847 150h2M885 150h2M910 150h2M928 150h2M936 150h2M940 150h4M949 150h2M991 150h2M907 151h2M918 151h2M925 151h2M928 151h2M841 152h2M892 152h2M902 152h2M918 152h2M937 152h2M923 153h2M912 154h2M917 154h2M927 154h2M969 154h2M1025 154h2M872 155h2M894 155h2M910 155h2M923 155h2M932 155h2M936 155h2M976 155h2M1019 155h2M844 156h2M858 156h2M877 156h2M894 156h2M946 156h2M949 156h3M956 156h3M860 157h2M902 157h2M906 157h2M910 157h2M929 157h2M943 157h2M970 157h2M981 157h2M901 158h2M913 158h2M927 158h2M948 158h2M954 158h2M1033 158h2M1070 158h2M866 159h2M876 159h2M887 159h2M902 159h2M905 159h2M963 159h2M985 159h2M848 160h2M881 160h2M891 160h2M905 160h2M908 160h2M918 160h3M930 160h2M939 160h2M905 161h2M915 161h2M932 161h2M935 161h2M940 161h2M974 161h2M869 162h2M906 162h2M942 162h2M957 162h2M979 162h2M883 163h3M900 163h2M911 163h2M915 163h2M932 163h2M936 163h2M945 163h2M1010 163h2M841 164h2M844 164h2M895 164h2M900 164h2M906 164h2M914 164h2M928 164h4M934 164h2M954 164h4M979 164h2M999 164h2M872 165h2M890 165h2M893 165h2M897 165h2M909 165h2M921 165h2M928 165h2M933 165h2M1011 165h2M855 166h2M883 166h2M886 166h2M896 166h2M905 166h2M915 166h3M930 166h2M945 166h2M964 166h2M884 167h2M894 167h2M900 167h2M904 167h2M918 167h2M933 167h2M945 167h4M954 167h2M975 167h2M998 167h2M851 168h2M889 168h2M913 168h2M918 168h2M926 168h2M932 168h4M945 168h2M959 168h2M1037 168h2M1053 168h2M866 169h2M874 169h2M889 169h2M910 169h3M921 169h2M948 169h2M952 169h2M962 169h2M1031 169h2M868 170h2M875 170h2M942 170h2M949 170h2M952 170h2M955 170h2M966 170h2M970 170h4M890 171h2M893 171h2M908 171h2M916 171h2M920 171h2M938 171h3M954 171h2M958 171h2M983 171h2M1009 171h2M872 172h2M878 172h3M893 172h2M915 172h2M920 172h2M927 172h2M933 172h2M947 172h2M952 172h2M958 172h2M894 173h2M908 173h2M912 173h3M924 173h2M945 173h2M975 173h2M850 174h2M877 174h2M897 174h2M914 174h5M923 174h2M940 174h2M950 174h2M873 175h2M898 175h2M921 175h2M941 175h2M964 175h2M1012 175h2M881 176h2M886 176h2M909 176h2M912 176h2M922 176h2M943 176h2M950 176h2M957 176h2M966 176h2M904 177h4M917 177h6M935 177h2M950 177h5M965 177h2M887 178h2M893 178h2M923 178h2M931 178h2M939 178h5M945 178h2M961 178h2M970 178h3M977 178h2M863 179h2M887 179h2M890 179h2M898 179h4M911 179h3M916 179h2M932 179h2M935 179h2M953 179h2M967 179h2M998 179h2M838 180h2M847 180h2M858 180h2M873 180h2M889 180h2M903 180h2M906 180h2M915 180h2M918 180h2M923 180h3M929 180h2M935 180h3M1005 180h2M1039 180h2M872 181h2M880 181h2M889 181h3M894 181h2M900 181h2M905 181h2M917 181h2M941 181h2M961 181h2M978 181h2M997 181h2M870 182h2M881 182h2M900 182h2M906 182h3M910 182h2M941 182h2M947 182h2M902 183h2M907 183h2M928 183h2M931 183h2M940 183h2M960 183h2M967 183h2M984 183h2M994 183h2M997 183h2M880 184h2M891 184h3M896 184h2M906 184h2M919 184h2M926 184h2M978 184h2M873 185h2M905 185h4M910 185h2M917 185h3M922 185h2M930 185h2M943 185h2M964 185h2M1000 185h2M1033 185h2M1044 185h2M848 186h2M855 186h2M859 186h2M879 186h2M892 186h4M897 186h4M905 186h2M912 186h2M916 186h2M924 186h2M928 186h2M933 186h3M940 186h4M962 186h2M877 187h2M896 187h2M899 187h2M903 187h2M913 187h3M917 187h2M920 187h2M923 187h3M934 187h3M939 187h2M945 187h2M949 187h2M969 187h2M990 187h2M838 188h2M860 188h2M893 188h2M899 188h2M907 188h2M911 188h2M915 188h2M939 188h2M942 188h2M834 189h2M880 189h2M885 189h2M890 189h2M898 189h4M909 189h4M915 189h4M922 189h2M931 189h2M936 189h2M954 189h2M967 189h6M850 190h2M871 190h2M878 190h2M891 190h2M899 190h2M907 190h2M913 190h2M917 190h2M938 190h2M855 191h2M885 191h2M908 191h2M911 191h3M924 191h2M939 191h2M961 191h2M968 191h2M985 191h2M819 192h2M848 192h2M879 192h2M899 192h4M911 192h2M915 192h2M919 192h4M934 192h2M944 192h2M969 192h2M851 193h2M867 193h2M882 193h4M892 193h2M901 193h5M920 193h4M925 193h2M934 193h2M941 193h2M948 193h4M1001 193h2M841 194h2M861 194h3M875 194h2M896 194h7M907 194h4M930 194h2M937 194h2M941 194h2M958 194h2M907 195h2M914 195h2M922 195h2M895 196h2M905 196h2M910 196h3M917 196h5M934 196h2M943 196h2M961 196h2M1005 196h2M873 197h2M876 197h2M881 197h2M893 197h2M903 197h2M925 197h2M933 197h2M941 197h2M946 197h2M962 197h2M1010 197h2M865 198h2M885 198h2M900 198h2M904 198h2M911 198h2M918 198h2M921 198h4M931 198h4M941 198h4M996 198h2M849 199h2M859 199h2M897 199h2M903 199h2M909 199h2M918 199h2M942 199h2M951 199h2M957 199h3M866 200h2M884 200h2M889 200h2M904 200h2M907 200h5M913 200h2M929 200h2M945 200h2M974 200h2M862 201h2M893 201h4M903 201h3M908 201h2M915 201h3M920 201h2M930 201h2M934 201h2M940 201h3M1022 201h2M862 202h3M888 202h2M892 202h2M895 202h4M907 202h2M913 202h2M917 202h2M921 202h2M926 202h2M929 202h2M934 202h2M850 203h2M904 203h2M907 203h2M912 203h4M917 203h5M935 203h2M939 203h2M943 203h4M964 203h4M998 203h2M893 204h4M901 204h4M913 204h5M919 204h4M932 204h2M938 204h2M962 204h3M1018 204h2M869 205h2M881 205h2M887 205h2M894 205h2M897 205h3M902 205h2M912 205h3M918 205h2M924 205h2M928 205h2M931 205h2M937 205h4M961 205h2M998 205h2M875 206h2M896 206h2M907 206h2M927 206h2M931 206h2M937 206h2M944 206h2M948 206h2M955 206h2M959 206h2M841 207h2M891 207h2M896 207h2M899 207h2M904 207h2M915 207h2M919 207h2M925 207h2M943 207h2M846 208h2M853 208h2M872 208h2M883 208h2M886 208h2M894 208h2M909 208h2M925 208h6M936 208h2M942 208h2M993 208h2M813 209h2M880 209h2M885 209h2M897 209h2M903 209h2M906 209h2M913 209h2M916 209h5M928 209h2M932 209h4M941 209h2M952 209h2M971 209h2M867 210h2M878 210h2M884 210h2M889 210h2M905 210h2M918 210h2M921 210h2M926 210h2M934 210h2M942 210h2M947 210h2M851 211h2M863 211h2M871 211h2M889 211h2M893 211h2M906 211h2M910 211h3M915 211h2M931 211h2M1005 211h2M873 212h2M877 212h2M892 212h6M911 212h2M926 212h3M957 212h2M960 212h2M977 212h2M1027 212h2M888 213h2M895 213h2M900 213h2M907 213h2M915 213h2M931 213h3M935 213h2M942 213h2M947 213h2M952 213h2M968 213h2M853 214h2M874 214h2M881 214h2M899 214h2M902 214h5M910 214h4M918 214h2M930 214h2M933 214h2M960 214h4M965 214h4M977 214h2M984 214h2M851 215h2M883 215h2M898 215h3M918 215h4M924 215h3M928 215h6M935 215h2M949 215h2M979 215h2M1032 215h2M863 216h2M868 216h2M879 216h4M890 216h2M895 216h2M898 216h2M901 216h6M908 216h2M921 216h2M926 216h3M940 216h2M950 216h3M979 216h2M855 217h2M863 217h2M885 217h3M891 217h2M894 217h3M904 217h2M917 217h2M924 217h2M928 217h2M935 217h3M939 217h2M948 217h2M958 217h2M851 218h2M874 218h2M878 218h2M889 218h2M898 218h2M907 218h4M913 218h2M920 218h2M923 218h3M932 218h4M959 218h4M964 218h2M967 218h3M862 219h2M874 219h2M879 219h2M892 219h3M901 219h4M920 219h2M927 219h3M931 219h2M936 219h2M957 219h4M824 220h2M871 220h2M884 220h2M890 220h2M898 220h2M919 220h2M932 220h2M946 220h2M962 220h2M965 220h2M971 220h2M861 221h2M864 221h2M894 221h2M912 221h2M916 221h3M936 221h2M940 221h4M955 221h2M982 221h2M1008 221h2M832 222h2M858 222h2M882 222h2M900 222h2M910 222h2M923 222h2M926 222h2M937 222h2M945 222h2M948 222h2M1002 222h2M866 223h2M869 223h2M881 223h2M884 223h2M902 223h2M912 223h3M916 223h8M927 223h2M930 223h2M938 223h2M950 223h2M968 223h3M990 223h2M862 224h2M871 224h2M878 224h3M901 224h2M908 224h2M915 224h2M919 224h2M924 224h3M928 224h3M933 224h2M964 224h2M972 224h2M976 224h2M861 225h2M867 225h2M887 225h2M893 225h2M896 225h2M911 225h6M940 225h2M1000 225h2M872 226h4M885 226h2M897 226h4M917 226h2M928 226h2M932 226h2M940 226h2M955 226h2M969 226h2M843 227h4M852 227h2M867 227h2M890 227h2M906 227h4M912 227h2M941 227h2M947 227h2M951 227h2M964 227h2M889 228h2M894 228h5M901 228h2M907 228h3M912 228h2M915 228h2M919 228h2M932 228h2M936 228h2M943 228h2M957 228h2M999 228h2M1014 228h2M851 229h2M859 229h2M863 229h2M887 229h2M895 229h2M904 229h2M924 229h2M929 229h3M950 229h2M861 230h2M899 230h2M903 230h4M910 230h3M931 230h2M934 230h3M945 230h2M948 230h2M966 230h2M969 230h2M870 231h6M897 231h3M920 231h2M923 231h2M971 231h2M979 231h2M843 232h4M882 232h2M897 232h3M905 232h2M909 232h2M928 232h3M933 232h5M960 232h2M968 232h2M845 233h2M860 233h3M883 233h2M887 233h2M892 233h2M912 233h2M921 233h2M944 233h3M1009 233h2M878 234h2M901 234h2M907 234h3M912 234h4M925 234h3M930 234h2M933 234h2M938 234h2M941 234h2M948 234h2M954 234h2M992 234h2M836 235h2M880 235h2M883 235h2M889 235h5M912 235h2M918 235h2M921 235h3M930 235h2M933 235h4M943 235h2M958 235h2M961 235h2M837 236h2M862 236h2M867 236h3M879 236h2M907 236h2M910 236h2M915 236h2M919 236h2M922 236h2M925 236h2M940 236h4M965 236h2M981 236h2M851 237h2M854 237h2M867 237h2M884 237h2M887 237h2M891 237h2M901 237h4M907 237h2M911 237h2M923 237h3M927 237h2M944 237h2M892 238h2M898 238h2M902 238h7M916 238h2M922 238h2M927 238h2M945 238h2M952 238h4M986 238h2M993 238h2M1009 238h2M830 239h2M836 239h2M857 239h2M866 239h2M905 239h3M910 239h2M913 239h2M917 239h2M922 239h2M931 239h2M940 239h2M957 239h2M816 240h2M867 240h2M882 240h2M889 240h2M895 240h2M898 240h3M904 240h2M924 240h2M930 240h2M954 240h2M989 240h2M1009 240h2M806 241h2M816 241h2M833 241h2M840 241h2M857 241h2M873 241h2M899 241h2M905 241h4M913 241h4M938 241h2M943 241h2M841 242h2M858 242h2M861 242h2M878 242h2M887 242h2M896 242h2M907 242h2M911 242h4M922 242h2M929 242h2M932 242h2M938 242h2M1018 242h2M850 243h2M853 243h2M864 243h2M872 243h2M879 243h2M885 243h2M895 243h2M903 243h6M917 243h2M921 243h2M924 243h2M940 243h2M966 243h2M974 243h2M977 243h2M985 243h2M842 244h2M859 244h2M868 244h2M880 244h5M896 244h2M907 244h2M911 244h2M921 244h2M932 244h2M935 244h2M979 244h2M845 245h3M854 245h2M870 245h2M873 245h2M887 245h2M892 245h6M903 245h3M914 245h2M918 245h5M935 245h4M942 245h2M954 245h2M961 245h2M834 246h2M848 246h4M857 246h3M870 246h2M878 246h2M886 246h2M895 246h2M910 246h2M935 246h2M947 246h2M959 246h4M1005 246h2M838 247h2M858 247h2M870 247h2M890 247h2M899 247h2M904 247h3M921 247h2M924 247h2M961 247h2M964 247h2M1013 247h2M847 248h2M873 248h2M877 248h4M887 248h2M893 248h2M898 248h2M907 248h2M912 248h6M921 248h2M929 248h2M946 248h2M951 248h2M869 249h2M874 249h5M885 249h2M892 249h5M900 249h2M903 249h2M908 249h4M923 249h5M940 249h3M949 249h3M969 249h2M972 249h2M858 250h2M872 250h2M890 250h2M893 250h2M897 250h3M904 250h2M911 250h2M917 250h2M936 250h2M950 250h2M993 250h2M810 251h2M818 251h2M845 251h2M858 251h2M862 251h2M868 251h2M875 251h2M878 251h2M881 251h2M889 251h2M896 251h2M902 251h2M916 251h4M926 251h2M945 251h2M870 252h2M878 252h4M886 252h3M895 252h2M899 252h7M933 252h2M941 252h2M947 252h2M1030 252h2M838 253h2M842 253h4M854 253h2M869 253h2M875 253h3M881 253h2M884 253h2M888 253h3M894 253h4M905 253h2M912 253h2M917 253h3M934 253h2M956 253h2M832 254h2M858 254h2M866 254h3M877 254h2M889 254h2M894 254h6M904 254h2M909 254h2M932 254h2M956 254h2M816 255h2M851 255h2M856 255h4M861 255h2M866 255h2M877 255h2M880 255h2M886 255h9M902 255h2M908 255h2M912 255h4M919 255h2M926 255h2M931 255h2M938 255h2M942 255h2M950 255h2M965 255h2M970 255h2M999 255h2M822 256h2M850 256h3M865 256h2M869 256h3M876 256h2M883 256h2M889 256h2M893 256h3M903 256h4M908 256h2M912 256h6M922 256h4M928 256h2M937 256h2M946 256h2M953 256h2M808 257h2M829 257h2M852 257h2M863 257h2M874 257h2M880 257h2M887 257h2M890 257h3M895 257h2M903 257h2M911 257h3M920 257h2M927 257h2M999 257h2M814 258h2M832 258h2M849 258h2M853 258h6M862 258h2M871 258h2M878 258h2M881 258h3M885 258h3M889 258h2M894 258h2M897 258h2M902 258h2M914 258h2M921 258h2M934 258h2M944 258h2M949 258h2M963 258h2M821 259h2M825 259h2M864 259h2M870 259h2M873 259h4M880 259h2M890 259h2M894 259h4M900 259h7M923 259h2M931 259h3M971 259h2M995 259h2M841 260h2M856 260h2M869 260h2M872 260h5M879 260h2M882 260h2M886 260h7M896 260h2M902 260h2M913 260h2M919 260h2M922 260h2M932 260h2M946 260h3M987 260h2M849 261h2M856 261h2M871 261h2M878 261h2M882 261h6M891 261h8M911 261h2M917 261h2M921 261h2M927 261h5M938 261h2M941 261h2M982 261h2M863 262h2M869 262h5M881 262h3M890 262h7M907 262h2M911 262h2M915 262h3M931 262h4M849 263h4M854 263h3M863 263h2M867 263h5M873 263h3M882 263h6M889 263h2M896 263h2M899 263h4M912 263h2M919 263h2M924 263h2M935 263h4M943 263h4M949 263h2M958 263h2M966 263h2M835 264h2M841 264h2M845 264h2M848 264h2M861 264h5M872 264h2M876 264h2M887 264h4M892 264h6M901 264h4M923 264h2M939 264h2M943 264h2M968 264h2M975 264h2M989 264h2M833 265h2M847 265h2M852 265h2M859 265h7M868 265h4M881 265h4M887 265h6M896 265h3M904 265h2M918 265h4M923 265h2M933 265h2M938 265h2M954 265h2M962 265h2M968 265h2M1031 265h2M831 266h2M862 266h3M868 266h2M872 266h3M876 266h2M879 266h3M884 266h2M889 266h3M903 266h6M913 266h3M922 266h3M930 266h6M941 266h2M830 267h2M861 267h2M865 267h4M870 267h2M873 267h2M890 267h2M894 267h2M900 267h2M919 267h2M931 267h2M936 267h2M941 267h2M955 267h2M838 268h2M845 268h4M852 268h2M855 268h6M864 268h2M884 268h4M890 268h2M893 268h2M896 268h4M904 268h2M908 268h2M917 268h2M930 268h2M935 268h2M952 268h2M965 268h2M828 269h2M839 269h2M852 269h4M858 269h3M863 269h5M869 269h4M876 269h2M893 269h3M912 269h3M917 269h5M930 269h2M938 269h2M947 269h3M967 269h2M994 269h2M816 270h2M848 270h2M853 270h2M856 270h4M861 270h2M865 270h2M871 270h3M878 270h6M885 270h2M889 270h2M897 270h2M903 270h7M925 270h2M845 271h2M848 271h4M858 271h2M861 271h2M864 271h7M874 271h2M877 271h2M885 271h6M892 271h2M900 271h2M914 271h2M940 271h2M945 271h2M965 271h2M983 271h2M1010 271h2M823 272h2M836 272h2M853 272h2M858 272h5M868 272h2M872 272h3M877 272h10M889 272h4M895 272h3M899 272h4M905 272h5M916 272h5M949 272h2M953 272h2M836 273h4M842 273h2M851 273h2M856 273h4M863 273h2M868 273h2M874 273h2M879 273h3M883 273h3M887 273h16M904 273h3M910 273h4M932 273h2M1003 273h2M835 274h2M840 274h2M846 274h2M855 274h3M859 274h2M863 274h4M869 274h2M872 274h2M876 274h4M882 274h5M888 274h2M895 274h4M904 274h2M909 274h3M915 274h2M929 274h2M944 274h2M965 274h2M1019 274h2M831 275h2M839 275h2M860 275h2M865 275h3M870 275h2M874 275h4M886 275h3M891 275h2M894 275h12M912 275h4M948 275h2M951 275h2M964 275h2M975 275h2M983 275h2M827 276h2M834 276h8M850 276h2M853 276h3M859 276h2M865 276h5M871 276h2M875 276h2M879 276h5M885 276h2M892 276h6M906 276h3M910 276h3M917 276h2M932 276h2M946 276h2M951 276h2M845 277h4M852 277h2M855 277h12M869 277h2M873 277h6M882 277h2M888 277h2M892 277h2M896 277h7M907 277h2M915 277h3M930 277h2M938 277h2M980 277h2M984 277h2M1016 277h2M810 278h2M818 278h2M822 278h2M829 278h3M844 278h3M858 278h4M864 278h3M871 278h2M877 278h2M880 278h2M884 278h6M893 278h3M917 278h2M922 278h2M925 278h2M930 278h2M937 278h2M940 278h2M943 278h2M955 278h2M959 278h2M832 279h2M838 279h2M844 279h2M848 279h2M853 279h2M857 279h2M862 279h3M868 279h13M883 279h2M888 279h2M892 279h2M901 279h2M905 279h4M915 279h2M922 279h2M928 279h2M936 279h2M939 279h4M957 279h2M1033 279h2M812 280h4M830 280h2M854 280h2M857 280h2M862 280h2M868 280h2M871 280h2M878 280h5M887 280h3M894 280h3M898 280h7M906 280h2M909 280h2M912 280h2M917 280h2M922 280h2M936 280h2M939 280h2M955 280h4M826 281h2M848 281h4M854 281h5M865 281h7M881 281h2M886 281h10M902 281h5M909 281h2M930 281h2M956 281h3M980 281h2M846 282h2M854 282h6M861 282h6M868 282h4M874 282h2M877 282h6M885 282h2M888 282h18M907 282h2M910 282h3M917 282h3M931 282h2M941 282h2M970 282h2M973 282h2M985 282h2M809 283h2M816 283h2M825 283h3M829 283h2M833 283h2M863 283h2M868 283h5M882 283h2M890 283h2M898 283h2M901 283h2M904 283h8M921 283h5M942 283h2M952 283h2M997 283h2M818 284h2M824 284h2M849 284h3M858 284h8M867 284h5M873 284h3M877 284h4M883 284h16M900 284h2M909 284h2M912 284h3M928 284h4M937 284h2M940 284h2M945 284h4M1041 284h2M818 285h2M828 285h4M833 285h2M841 285h2M849 285h2M852 285h4M857 285h5M866 285h8M877 285h4M882 285h2M885 285h4M890 285h9M900 285h2M903 285h2M906 285h4M914 285h2M919 285h2M922 285h2M929 285h2M945 285h3M817 286h2M826 286h2M831 286h2M850 286h3M858 286h4M863 286h3M867 286h4M872 286h4M877 286h5M883 286h6M890 286h4M895 286h2M898 286h6M906 286h3M910 286h2M913 286h2M920 286h2M923 286h4M971 286h2M975 286h3M1057 286h2M847 287h4M855 287h2M861 287h4M866 287h3M870 287h2M873 287h13M888 287h3M892 287h4M897 287h9M908 287h2M911 287h2M915 287h2M919 287h3M934 287h2M948 287h2M811 288h2M818 288h2M832 288h2M843 288h2M851 288h2M854 288h2M857 288h2M861 288h2M864 288h2M870 288h2M873 288h14M889 288h8M899 288h4M907 288h2M912 288h2M915 288h2M918 288h2M922 288h2M931 288h2M937 288h2M942 288h2M948 288h2M959 288h4M967 288h2M1002 288h2M823 289h2M828 289h2M838 289h2M841 289h2M856 289h3M861 289h13M875 289h15M892 289h8M901 289h14M916 289h2M920 289h2M927 289h2M932 289h2M939 289h5M822 290h2M832 290h5M842 290h2M849 290h15M865 290h9M875 290h11M888 290h2M892 290h6M899 290h2M908 290h4M913 290h2M932 290h2M937 290h2M955 290h2M971 290h2M807 291h2M838 291h2M845 291h4M851 291h3M862 291h5M869 291h5M875 291h4M880 291h11M892 291h6M900 291h4M905 291h4M912 291h2M915 291h2M918 291h2M923 291h2M930 291h3M817 292h2M832 292h2M841 292h2M847 292h2M850 292h2M856 292h6M864 292h4M870 292h5M877 292h2M880 292h13M895 292h8M906 292h2M912 292h4M923 292h2M939 292h2M942 292h2M815 293h2M829 293h2M840 293h3M845 293h2M849 293h3M855 293h7M863 293h34M900 293h2M903 293h2M906 293h2M910 293h2M913 293h2M921 293h2M926 293h3M942 293h2M949 293h2M952 293h2M972 293h2M985 293h2M819 294h2M830 294h2M839 294h2M848 294h2M852 294h6M859 294h2M865 294h4M870 294h4M875 294h3M880 294h3M884 294h13M898 294h7M906 294h4M921 294h2M926 294h5M936 294h2M943 294h2M946 294h2M965 294h2M970 294h2M995 294h2M828 295h4M834 295h2M840 295h5M852 295h2M857 295h4M864 295h2M867 295h3M872 295h18M891 295h10M903 295h2M906 295h2M913 295h2M917 295h2M927 295h2M949 295h2M964 295h2M978 295h2M841 296h2M845 296h2M858 296h10M869 296h13M884 296h7M893 296h9M903 296h3M907 296h2M912 296h3M920 296h4M930 296h2M934 296h2M941 296h2M958 296h2M966 296h2M989 296h2M800 297h2M809 297h2M818 297h4M830 297h2M840 297h4M845 297h2M852 297h7M861 297h6M869 297h10M880 297h19M903 297h4M909 297h3M917 297h3M929 297h2M944 297h2M958 297h2M967 297h2M975 297h2M980 297h2M814 298h2M819 298h2M822 298h2M829 298h2M835 298h2M840 298h2M857 298h2M860 298h24M885 298h11M897 298h5M904 298h3M912 298h3M917 298h2M920 298h2M927 298h2M940 298h2M959 298h2M967 298h2M1034 298h2M816 299h2M825 299h2M842 299h4M847 299h3M852 299h2M855 299h8M867 299h5M876 299h4M881 299h12M894 299h4M903 299h2M908 299h4M915 299h2M922 299h5M930 299h2M935 299h3M939 299h2M949 299h4M976 299h3M828 300h2M836 300h3M840 300h2M843 300h3M848 300h2M851 300h2M854 300h8M863 300h5M870 300h7M878 300h7M886 300h8M897 300h3M902 300h4M908 300h2M912 300h2M916 300h2M920 300h2M924 300h3M931 300h2M938 300h2M943 300h2M946 300h2M956 300h2M973 300h2M983 300h2M1001 300h2M811 301h2M827 301h2M840 301h2M843 301h2M846 301h11M858 301h2M861 301h3M867 301h9M877 301h4M882 301h21M905 301h4M915 301h2M923 301h2M928 301h2M934 301h2M939 301h4M946 301h2M990 301h2M843 302h5M856 302h2M866 302h7M874 302h7M883 302h10M894 302h7M904 302h3M910 302h2M914 302h5M928 302h2M943 302h2M951 302h2M825 303h2M830 303h5M840 303h2M845 303h2M848 303h5M857 303h11M869 303h11M881 303h12M894 303h2M900 303h3M904 303h5M911 303h2M918 303h2M921 303h2M926 303h2M931 303h2M948 303h2M955 303h2M958 303h2M965 303h2M981 303h2M1027 303h2M841 304h3M845 304h4M850 304h4M857 304h8M866 304h2M869 304h4M875 304h5M881 304h16M899 304h12M919 304h2M927 304h2M955 304h2M960 304h2M964 304h2M967 304h2M976 304h2M802 305h2M805 305h2M822 305h2M825 305h2M829 305h3M834 305h2M842 305h2M846 305h2M851 305h3M855 305h2M861 305h8M870 305h10M884 305h17M903 305h3M908 305h2M912 305h3M921 305h2M930 305h2M945 305h2M948 305h2M956 305h2M987 305h2M1045 305h2M832 306h2M845 306h2M849 306h5M855 306h3M860 306h7M868 306h11M880 306h5M886 306h18M905 306h5M913 306h2M924 306h2M932 306h2M942 306h2M956 306h2M959 306h2M962 306h3M969 306h5M981 306h2M1019 306h2M800 307h4M812 307h4M820 307h4M825 307h2M828 307h2M851 307h4M859 307h6M866 307h3M870 307h10M882 307h3M886 307h12M899 307h6M906 307h2M909 307h2M912 307h3M919 307h2M922 307h2M925 307h4M936 307h4M944 307h3M962 307h2M976 307h2M828 308h2M834 308h3M838 308h2M845 308h2M848 308h2M856 308h4M862 308h6M869 308h23M895 308h5M901 308h5M917 308h2M936 308h4M942 308h2M954 308h2M966 308h2M978 308h2M981 308h3M986 308h2M999 308h2M806 309h2M823 309h2M837 309h2M844 309h2M849 309h3M853 309h3M859 309h4M865 309h18M886 309h10M897 309h5M905 309h3M911 309h3M916 309h2M936 309h2M945 309h2M970 309h2M1006 309h2M801 310h2M812 310h2M823 310h2M826 310h2M832 310h2M837 310h2M840 310h2M847 310h2M852 310h8M861 310h13M875 310h4M881 310h6M888 310h2M891 310h5M897 310h5M903 310h3M911 310h2M914 310h2M919 310h2M928 310h2M937 310h2M961 310h2M965 310h2M980 310h2M983 310h2M996 310h2M1013 310h2M820 311h2M833 311h2M842 311h3M847 311h2M850 311h6M857 311h10M868 311h13M882 311h21M905 311h5M912 311h4M921 311h2M933 311h4M943 311h2M949 311h2M971 311h2M980 311h2M1008 311h2M808 312h2M839 312h2M849 312h2M853 312h3M857 312h9M868 312h5M874 312h18M893 312h23M917 312h3M926 312h5M943 312h2M959 312h2M967 312h2M970 312h4M978 312h2M985 312h2M999 312h2M1004 312h2M815 313h3M828 313h2M839 313h7M851 313h8M860 313h3M865 313h30M896 313h6M903 313h2M906 313h2M912 313h4M917 313h2M925 313h2M931 313h2M936 313h2M941 313h2M949 313h2M959 313h2M1023 313h2M802 314h2M813 314h2M818 314h2M836 314h2M839 314h4M845 314h2M856 314h2M859 314h4M869 314h9M879 314h5M885 314h8M894 314h6M908 314h4M913 314h2M918 314h8M948 314h2M962 314h5M976 314h4M988 314h3M998 314h2M1026 314h2M1035 314h2M806 315h2M817 315h2M841 315h2M847 315h4M853 315h2M856 315h7M864 315h38M905 315h2M908 315h2M916 315h2M920 315h5M932 315h4M937 315h2M954 315h2M959 315h4M967 315h2M973 315h2M1010 315h2M803 316h2M818 316h2M828 316h2M837 316h2M840 316h2M844 316h6M852 316h10M863 316h3M867 316h19M888 316h12M904 316h2M907 316h5M913 316h2M923 316h3M932 316h3M944 316h2M947 316h2M980 316h2M983 316h2M989 316h2M994 316h2M1001 316h2M1006 316h2M1018 316h2M814 317h2M822 317h2M825 317h2M832 317h2M838 317h5M848 317h5M854 317h16M872 317h18M891 317h18M910 317h3M914 317h2M919 317h3M923 317h4M932 317h6M944 317h2M959 317h4M969 317h2M972 317h5M995 317h2M1006 317h2M814 318h2M826 318h2M840 318h2M844 318h3M849 318h2M852 318h3M856 318h47M904 318h3M908 318h4M914 318h6M921 318h2M956 318h4M966 318h2M980 318h4M987 318h2M990 318h2M1009 318h2M1015 318h2M827 319h2M842 319h2M845 319h5M852 319h3M856 319h2M860 319h29M891 319h9M903 319h12M919 319h2M924 319h2M935 319h2M945 319h4M950 319h4M956 319h3M989 319h2M1011 319h2M825 320h3M837 320h5M844 320h3M849 320h6M856 320h4M861 320h3M866 320h29M898 320h3M902 320h4M908 320h3M913 320h2M917 320h3M930 320h3M946 320h2M961 320h3M972 320h2M990 320h2M1000 320h2M1033 320h2M812 321h2M824 321h2M835 321h4M841 321h3M845 321h4M850 321h4M857 321h13M871 321h21M893 321h7M901 321h2M904 321h4M909 321h8M919 321h4M926 321h4M934 321h2M937 321h5M947 321h4M960 321h2M966 321h2M975 321h2M982 321h2M802 322h2M811 322h2M844 322h3M849 322h2M853 322h47M901 322h12M917 322h2M921 322h3M944 322h2M951 322h2M955 322h2M958 322h4M982 322h2M992 322h2M1011 322h2M821 323h2M825 323h2M832 323h2M836 323h2M842 323h2M845 323h4M853 323h3M858 323h47M906 323h2M911 323h2M914 323h2M920 323h2M928 323h2M931 323h2M944 323h2M954 323h2M962 323h2M970 323h3M989 323h2M994 323h2M1004 323h2M809 324h5M815 324h2M826 324h5M839 324h5M848 324h10M859 324h23M883 324h19M903 324h7M912 324h2M916 324h2M922 324h2M925 324h2M930 324h2M933 324h2M939 324h2M942 324h2M949 324h2M952 324h2M956 324h2M961 324h3M975 324h2M996 324h2M1024 324h2M805 325h2M808 325h2M828 325h2M835 325h6M846 325h20M867 325h2M870 325h6M878 325h18M898 325h6M906 325h5M929 325h2M937 325h6M946 325h4M966 325h2M974 325h2M981 325h3M987 325h2M1003 325h2M1021 325h2M822 326h2M826 326h3M833 326h3M837 326h4M845 326h2M853 326h8M862 326h18M881 326h15M898 326h12M919 326h2M936 326h2M953 326h3M964 326h2M971 326h2M983 326h2M986 326h2M991 326h2M995 326h2M1030 326h2M832 327h3M837 327h4M845 327h2M848 327h5M854 327h51M906 327h2M911 327h2M916 327h2M919 327h3M926 327h5M948 327h2M958 327h3M971 327h2M975 327h2M978 327h5M986 327h2M991 327h2M995 327h2M1008 327h2M819 328h4M834 328h2M838 328h2M844 328h4M852 328h44M897 328h5M907 328h9M922 328h2M925 328h2M930 328h3M941 328h2M952 328h3M956 328h2M969 328h3M982 328h2M993 328h2M1025 328h2M809 329h2M813 329h2M817 329h4M830 329h7M838 329h3M848 329h10M859 329h3M863 329h10M874 329h40M918 329h8M928 329h4M941 329h3M956 329h2M959 329h2M965 329h2M823 330h2M831 330h2M841 330h5M847 330h2M855 330h3M861 330h26M888 330h19M909 330h3M913 330h6M933 330h2M938 330h2M950 330h2M959 330h2M962 330h2M966 330h2M970 330h2M977 330h2M982 330h2M990 330h2M1009 330h3M823 331h2M836 331h2M842 331h3M847 331h6M854 331h6M862 331h11M874 331h32M910 331h2M917 331h6M947 331h2M958 331h2M962 331h3M971 331h2M976 331h2M979 331h2M1001 331h2M1010 331h2M838 332h2M843 332h6M851 332h4M856 332h8M865 332h42M911 332h2M914 332h2M917 332h4M923 332h2M928 332h2M932 332h2M957 332h2M965 332h2M977 332h2M983 332h2M989 332h2M994 332h2M1001 332h2M1008 332h6M811 333h2M833 333h2M836 333h2M846 333h2M849 333h6M858 333h10M869 333h5M875 333h4M880 333h17M898 333h3M902 333h9M915 333h4M920 333h2M924 333h3M930 333h3M941 333h2M949 333h2M956 333h2M964 333h4M971 333h3M977 333h6M994 333h2M1002 333h3M1012 333h2M1015 333h2M822 334h2M833 334h2M842 334h2M845 334h9M857 334h2M860 334h2M863 334h3M868 334h11M880 334h11M892 334h8M902 334h4M909 334h2M912 334h5M918 334h2M946 334h4M952 334h2M955 334h2M962 334h2M965 334h2M970 334h2M979 334h2M1008 334h2M808 335h2M821 335h2M829 335h2M842 335h2M846 335h2M850 335h2M854 335h18M873 335h4M878 335h2M882 335h6M889 335h13M906 335h4M912 335h4M921 335h2M937 335h2M949 335h2M960 335h4M965 335h7M980 335h2M990 335h2M1003 335h2M822 336h2M835 336h2M845 336h3M851 336h4M857 336h28M886 336h2M889 336h17M907 336h2M911 336h5M928 336h2M934 336h2M940 336h7M953 336h2M958 336h2M963 336h5M982 336h2M993 336h4M1000 336h2M1021 336h2M826 337h2M833 337h2M837 337h2M844 337h5M853 337h5M859 337h3M864 337h13M879 337h5M887 337h9M898 337h9M909 337h3M913 337h2M918 337h2M937 337h2M942 337h2M950 337h2M953 337h2M956 337h2M962 337h2M966 337h6M977 337h3M983 337h3M998 337h2M1003 337h2M1013 337h2M1021 337h2M805 338h2M821 338h4M841 338h2M849 338h10M865 338h40M909 338h4M917 338h4M926 338h3M930 338h2M934 338h2M937 338h2M940 338h2M949 338h2M962 338h2M966 338h2M970 338h2M974 338h2M1015 338h2M1018 338h2M815 339h2M818 339h4M823 339h2M834 339h3M841 339h2M848 339h3M853 339h2M858 339h18M877 339h2M881 339h17M899 339h3M903 339h4M908 339h2M912 339h2M917 339h5M944 339h2M949 339h2M954 339h2M962 339h5M969 339h2M976 339h2M983 339h4M992 339h2M1004 339h2M1008 339h2M817 340h2M821 340h2M824 340h2M835 340h2M839 340h3M849 340h2M855 340h4M860 340h32M893 340h6M900 340h8M909 340h3M913 340h2M918 340h4M944 340h2M947 340h2M953 340h2M971 340h2M979 340h2M986 340h2M991 340h2M996 340h2M1031 340h2M807 341h2M819 341h2M822 341h3M835 341h2M839 341h2M842 341h3M849 341h2M853 341h5M859 341h2M862 341h14M877 341h19M897 341h2M900 341h2M906 341h4M911 341h2M922 341h2M931 341h2M937 341h5M946 341h3M958 341h2M965 341h4M970 341h2M979 341h2M989 341h2M816 342h2M831 342h13M845 342h2M852 342h6M860 342h39M901 342h6M908 342h4M913 342h4M918 342h2M921 342h2M924 342h2M929 342h4M935 342h2M940 342h2M955 342h3M960 342h2M963 342h2M966 342h5M976 342h4M983 342h2M996 342h2M1000 342h3M1006 342h2M1020 342h2M1024 342h2M832 343h2M835 343h2M839 343h4M845 343h2M850 343h2M855 343h7M863 343h27M892 343h3M896 343h7M904 343h5M911 343h2M916 343h2M922 343h2M927 343h2M933 343h2M942 343h4M948 343h2M953 343h2M956 343h4M962 343h2M970 343h3M979 343h2M983 343h3M991 343h2M1003 343h2M1013 343h2M1022 343h2M825 344h2M833 344h2M841 344h2M845 344h2M849 344h2M852 344h2M858 344h2M862 344h6M869 344h3M873 344h28M902 344h2M905 344h8M915 344h2M921 344h2M932 344h2M937 344h4M964 344h2M971 344h4M976 344h4M981 344h7M989 344h2M992 344h3M997 344h2M1003 344h4M1008 344h2M1019 344h2M811 345h2M820 345h2M827 345h2M832 345h2M839 345h2M843 345h7M852 345h17M870 345h5M876 345h8M885 345h3M890 345h2M893 345h10M909 345h2M913 345h5M925 345h2M928 345h2M939 345h2M959 345h2M967 345h2M982 345h3M999 345h2M1007 345h2M809 346h2M820 346h2M843 346h2M852 346h4M860 346h21M882 346h13M896 346h12M909 346h2M916 346h2M919 346h5M930 346h2M934 346h3M939 346h2M944 346h2M951 346h2M954 346h2M957 346h3M961 346h2M964 346h2M967 346h3M982 346h3M992 346h2M997 346h2M826 347h3M833 347h4M839 347h8M849 347h8M858 347h19M878 347h5M884 347h3M888 347h8M898 347h12M914 347h2M920 347h2M924 347h4M939 347h3M943 347h2M949 347h4M955 347h2M961 347h2M965 347h2M972 347h9M991 347h2M996 347h2M1003 347h2M1009 347h2M1014 347h2M811 348h4M825 348h2M833 348h5M839 348h4M851 348h2M855 348h3M859 348h15M875 348h15M891 348h5M897 348h5M907 348h7M917 348h2M924 348h2M927 348h2M939 348h4M949 348h2M966 348h2M969 348h3M974 348h2M978 348h2M981 348h2M986 348h2M990 348h4M999 348h2M1041 348h2M815 349h2M820 349h2M824 349h2M829 349h2M832 349h2M840 349h3M845 349h3M849 349h3M855 349h5M861 349h2M865 349h40M906 349h2M909 349h2M915 349h4M928 349h2M931 349h6M939 349h2M949 349h3M960 349h2M970 349h2M980 349h2M989 349h2M993 349h6M1009 349h2M1013 349h2M1019 349h2M1028 349h2M816 350h2M830 350h3M845 350h5M851 350h3M857 350h42M900 350h8M909 350h2M924 350h6M951 350h2M960 350h2M966 350h4M975 350h2M978 350h6M992 350h3M1006 350h2M1010 350h2M1014 350h2M809 351h2M825 351h2M836 351h2M840 351h2M843 351h2M846 351h2M853 351h31M886 351h4M892 351h2M896 351h4M904 351h2M907 351h5M921 351h3M943 351h2M946 351h2M952 351h3M958 351h3M966 351h2M969 351h3M974 351h4M989 351h3M1009 351h2M832 352h2M841 352h2M846 352h2M852 352h2M856 352h5M862 352h15M878 352h5M884 352h3M891 352h6M898 352h11M910 352h7M921 352h3M927 352h2M930 352h3M941 352h2M946 352h3M950 352h3M955 352h2M966 352h2M987 352h2M1005 352h2M1009 352h2M1019 352h2M828 353h3M838 353h2M841 353h2M845 353h6M853 353h8M862 353h38M902 353h5M908 353h3M915 353h4M923 353h2M926 353h2M935 353h2M940 353h4M953 353h2M960 353h4M971 353h2M974 353h4M982 353h2M985 353h4M999 353h2M1033 353h3M801 354h2M835 354h2M841 354h2M844 354h3M852 354h2M855 354h14M870 354h15M887 354h13M901 354h2M904 354h2M907 354h7M928 354h2M935 354h2M942 354h4M952 354h2M955 354h2M959 354h2M962 354h2M974 354h2M978 354h3M987 354h5M993 354h2M1000 354h4M805 355h2M814 355h3M819 355h2M833 355h2M837 355h8M846 355h2M851 355h21M873 355h15M889 355h12M903 355h4M909 355h5M920 355h4M925 355h6M939 355h4M944 355h3M951 355h2M956 355h2M962 355h2M965 355h4M981 355h2M999 355h4M1004 355h2M819 356h2M840 356h2M845 356h2M854 356h7M863 356h6M870 356h6M877 356h16M894 356h6M901 356h6M908 356h3M912 356h2M916 356h4M924 356h2M940 356h2M944 356h3M948 356h2M952 356h7M962 356h3M969 356h4M977 356h2M981 356h2M990 356h2M993 356h2M997 356h2M1005 356h4M1041 356h2M807 357h2M827 357h3M834 357h2M838 357h2M843 357h4M853 357h6M862 357h3M867 357h5M873 357h3M878 357h3M882 357h19M902 357h2M905 357h3M909 357h2M914 357h2M919 357h2M922 357h3M934 357h2M941 357h2M947 357h2M953 357h2M957 357h2M976 357h2M988 357h2M1005 357h2M805 358h2M824 358h2M839 358h3M843 358h4M857 358h2M862 358h5M868 358h18M888 358h2M891 358h6M899 358h2M902 358h2M908 358h4M914 358h2M917 358h2M926 358h2M930 358h2M933 358h2M937 358h2M941 358h2M951 358h4M957 358h2M974 358h3M985 358h2M1002 358h3M1008 358h2M1014 358h2M1022 358h2M811 359h2M819 359h3M827 359h2M842 359h12M858 359h2M861 359h9M871 359h4M877 359h7M885 359h5M891 359h12M904 359h4M909 359h2M914 359h4M923 359h2M927 359h2M938 359h2M945 359h6M959 359h2M964 359h2M967 359h2M971 359h2M981 359h3M999 359h2M1002 359h2M1008 359h4M1019 359h2M836 360h2M840 360h5M847 360h2M851 360h4M856 360h2M859 360h6M866 360h26M893 360h5M899 360h12M919 360h2M931 360h2M934 360h4M940 360h5M949 360h4M972 360h5M985 360h4M992 360h4M1001 360h2M1004 360h2M1058 360h2M836 361h2M840 361h2M844 361h5M850 361h5M858 361h12M872 361h3M876 361h7M884 361h17M902 361h4M907 361h4M916 361h8M925 361h3M938 361h2M942 361h2M951 361h3M958 361h4M966 361h2M969 361h2M972 361h2M977 361h2M987 361h2M998 361h3M1015 361h2M1036 361h2M846 362h3M850 362h2M853 362h2M857 362h5M866 362h15M882 362h17M900 362h2M906 362h2M909 362h3M929 362h2M936 362h2M939 362h2M947 362h2M963 362h5M985 362h8M997 362h2M1009 362h2M1014 362h2M1029 362h2M810 363h2M816 363h3M838 363h4M843 363h10M857 363h2M860 363h5M866 363h16M883 363h6M890 363h2M894 363h6M901 363h6M908 363h3M912 363h2M915 363h5M921 363h3M932 363h2M935 363h2M945 363h3M953 363h4M965 363h2M971 363h5M980 363h6M989 363h2M997 363h2M1006 363h2M1010 363h2M1014 363h2M1032 363h2M816 364h2M827 364h2M832 364h3M836 364h2M841 364h2M847 364h3M852 364h2M855 364h2M858 364h3M862 364h2M865 364h3M871 364h6M878 364h2M881 364h7M889 364h2M892 364h5M898 364h2M901 364h7M909 364h4M914 364h2M923 364h3M929 364h2M934 364h2M949 364h2M958 364h2M965 364h2M970 364h2M989 364h2M994 364h2M999 364h2M1023 364h4M813 365h2M821 365h2M826 365h2M842 365h2M845 365h2M848 365h2M856 365h2M859 365h2M862 365h7M871 365h15M887 365h2M890 365h7M899 365h3M905 365h2M908 365h2M917 365h2M933 365h5M940 365h2M943 365h2M953 365h5M960 365h2M964 365h2M973 365h3M980 365h4M989 365h2M993 365h9M1005 365h2M1010 365h2M814 366h2M831 366h2M837 366h2M842 366h3M850 366h2M855 366h8M867 366h5M876 366h7M887 366h8M897 366h4M903 366h2M906 366h3M910 366h3M916 366h4M921 366h2M925 366h2M943 366h2M946 366h5M958 366h2M980 366h2M983 366h2M994 366h2M1005 366h2M1042 366h2M829 367h2M841 367h2M844 367h4M851 367h2M855 367h6M864 367h18M884 367h10M895 367h4M910 367h2M918 367h2M931 367h2M941 367h3M949 367h2M958 367h2M973 367h2M982 367h4M988 367h2M1006 367h2M1015 367h2M1019 367h2M1027 367h2M843 368h2M848 368h6M860 368h2M865 368h5M872 368h11M884 368h4M890 368h11M905 368h3M909 368h2M915 368h2M919 368h2M926 368h3M935 368h2M942 368h2M954 368h2M959 368h4M971 368h2M980 368h7M990 368h3M999 368h2M1004 368h4M1045 368h2M842 369h2M849 369h2M856 369h2M860 369h4M865 369h2M868 369h3M872 369h4M877 369h5M883 369h17M903 369h2M929 369h2M934 369h3M940 369h2M943 369h2M947 369h2M950 369h2M956 369h4M969 369h2M974 369h4M1009 369h2M1015 369h2M1024 369h2M815 370h2M828 370h2M847 370h3M856 370h6M863 370h2M866 370h12M880 370h12M893 370h5M900 370h3M904 370h3M913 370h2M917 370h2M934 370h2M946 370h2M950 370h4M962 370h2M972 370h2M977 370h8M994 370h3M821 371h2M852 371h4M857 371h8M866 371h3M870 371h11M882 371h2M888 371h11M903 371h2M906 371h5M913 371h2M916 371h2M932 371h2M940 371h2M945 371h4M957 371h2M970 371h4M979 371h2M989 371h2M994 371h3M1000 371h2M1009 371h2M1027 371h2M830 372h4M836 372h3M840 372h2M850 372h4M855 372h4M861 372h2M867 372h6M874 372h7M883 372h3M890 372h8M905 372h5M920 372h2M923 372h2M926 372h3M936 372h2M949 372h2M952 372h4M957 372h2M966 372h3M970 372h2M975 372h4M982 372h2M990 372h2M1009 372h2M1020 372h2M825 373h2M832 373h3M841 373h3M846 373h2M854 373h2M857 373h18M877 373h11M889 373h11M901 373h2M904 373h3M909 373h2M935 373h2M940 373h2M943 373h2M953 373h4M964 373h2M971 373h5M981 373h3M986 373h2M1003 373h2M1014 373h2M806 374h2M827 374h2M844 374h2M854 374h2M858 374h4M864 374h6M871 374h4M879 374h3M883 374h4M888 374h2M891 374h4M898 374h2M903 374h4M913 374h4M918 374h2M923 374h2M928 374h2M933 374h2M941 374h2M944 374h2M955 374h2M966 374h2M970 374h2M977 374h2M992 374h2M1006 374h2M818 375h2M826 375h5M839 375h2M851 375h2M854 375h6M861 375h6M869 375h7M877 375h7M885 375h6M892 375h2M899 375h5M910 375h2M920 375h2M925 375h2M932 375h2M946 375h2M954 375h2M957 375h2M971 375h4M994 375h4M1032 375h2M842 376h2M846 376h2M849 376h2M854 376h2M861 376h2M864 376h4M869 376h2M873 376h2M876 376h2M880 376h4M891 376h3M896 376h8M905 376h4M910 376h4M915 376h4M920 376h2M948 376h2M956 376h2M960 376h5M991 376h2M998 376h2M1029 376h2M837 377h2M843 377h4M854 377h2M861 377h3M872 377h3M876 377h3M880 377h16M897 377h2M900 377h2M906 377h2M911 377h2M922 377h3M931 377h2M948 377h2M952 377h3M964 377h2M969 377h4M976 377h2M989 377h2M1001 377h2M1021 377h2M840 378h2M846 378h2M849 378h4M855 378h5M865 378h9M875 378h7M884 378h3M889 378h2M892 378h3M896 378h6M907 378h2M915 378h2M926 378h3M932 378h2M940 378h2M951 378h2M963 378h2M967 378h2M973 378h2M835 379h2M843 379h2M851 379h4M861 379h2M864 379h7M872 379h3M877 379h2M884 379h6M893 379h5M900 379h2M903 379h3M908 379h2M914 379h2M917 379h4M922 379h2M928 379h2M935 379h2M938 379h2M944 379h2M955 379h2M970 379h2M987 379h2M824 380h2M854 380h2M859 380h4M867 380h4M872 380h2M876 380h2M880 380h8M890 380h2M896 380h3M901 380h4M906 380h2M921 380h2M942 380h2M952 380h2M955 380h2M966 380h3M970 380h2M981 380h2M989 380h3M1024 380h2M1035 380h2M815 381h2M834 381h2M839 381h2M843 381h3M855 381h4M860 381h4M865 381h4M876 381h6M883 381h3M893 381h7M903 381h2M907 381h2M910 381h2M918 381h2M923 381h2M926 381h2M953 381h7M963 381h2M967 381h2M1001 381h2M1008 381h2M1015 381h2M1027 381h2M821 382h2M829 382h5M842 382h2M846 382h2M849 382h2M854 382h2M858 382h3M864 382h2M867 382h2M871 382h2M876 382h6M883 382h6M892 382h5M898 382h8M914 382h4M938 382h4M946 382h2M959 382h2M965 382h2M968 382h2M976 382h2M979 382h2M988 382h2M996 382h2M816 383h3M837 383h2M843 383h2M855 383h5M861 383h4M866 383h2M869 383h2M875 383h2M878 383h7M889 383h2M893 383h4M900 383h5M907 383h2M929 383h3M935 383h4M950 383h2M953 383h2M960 383h8M976 383h2M982 383h2M987 383h2M1018 383h2M810 384h2M847 384h2M852 384h2M856 384h2M860 384h11M872 384h3M876 384h2M881 384h3M886 384h10M897 384h2M900 384h11M914 384h2M920 384h2M929 384h4M934 384h4M941 384h2M944 384h2M952 384h2M959 384h2M963 384h2M993 384h2M1016 384h2M840 385h2M843 385h2M848 385h2M855 385h2M860 385h8M869 385h4M874 385h2M877 385h3M883 385h3M887 385h2M890 385h4M899 385h6M907 385h3M920 385h2M930 385h4M944 385h2M949 385h2M953 385h2M966 385h2M989 385h2M1015 385h2M1038 385h2M829 386h2M834 386h2M842 386h2M845 386h2M858 386h2M862 386h5M872 386h6M879 386h4M884 386h2M888 386h2M892 386h5M903 386h2M906 386h4M912 386h2M921 386h2M926 386h2M935 386h2M949 386h2M953 386h2M974 386h3M992 386h2M996 386h2M999 386h2M1005 386h2M1010 386h2M828 387h2M842 387h2M846 387h3M850 387h3M857 387h2M864 387h9M875 387h2M886 387h4M892 387h2M897 387h2M900 387h10M915 387h2M918 387h4M934 387h2M938 387h2M946 387h2M951 387h2M982 387h2M994 387h2M999 387h2M825 388h2M841 388h2M852 388h2M855 388h3M859 388h4M874 388h4M880 388h2M888 388h2M891 388h2M897 388h3M901 388h2M905 388h5M931 388h2M934 388h2M955 388h4M976 388h2M983 388h2M988 388h3M1003 388h2M827 389h2M841 389h2M848 389h2M857 389h2M861 389h8M870 389h3M877 389h7M885 389h2M888 389h3M892 389h3M896 389h6M919 389h2M932 389h2M935 389h2M954 389h2M962 389h2M968 389h2M844 390h3M858 390h2M865 390h3M869 390h9M879 390h4M885 390h3M890 390h6M898 390h4M904 390h2M907 390h3M915 390h2M935 390h2M938 390h2M944 390h2M962 390h2M839 391h2M842 391h2M845 391h5M858 391h2M861 391h2M865 391h3M869 391h2M872 391h17M891 391h2M916 391h2M920 391h2M964 391h2M970 391h4M986 391h2M993 391h3M820 392h2M834 392h2M841 392h2M845 392h2M852 392h2M859 392h2M865 392h2M870 392h2M874 392h4M880 392h10M896 392h4M903 392h2M908 392h2M927 392h2M931 392h2M942 392h2M965 392h2M828 393h2M852 393h2M855 393h2M867 393h4M872 393h3M876 393h6M883 393h2M890 393h2M893 393h3M898 393h3M923 393h2M929 393h2M939 393h2M944 393h2M962 393h2M814 394h2M841 394h2M856 394h10M867 394h3M874 394h2M882 394h2M892 394h4M899 394h4M908 394h2M915 394h2M947 394h2M959 394h2M962 394h2M996 394h2M825 395h2M833 395h2M854 395h2M861 395h9M872 395h2M875 395h3M881 395h3M889 395h2M892 395h3M896 395h2M901 395h2M908 395h4M915 395h2M919 395h2M925 395h2M929 395h2M950 395h2M960 395h2M964 395h2M984 395h2M992 395h2M835 396h2M847 396h3M862 396h2M874 396h2M879 396h3M889 396h2M894 396h2M903 396h2M917 396h3M956 396h2M961 396h2M1003 396h2M1017 396h2M803 397h2M830 397h2M853 397h2M863 397h4M868 397h7M878 397h5M884 397h2M892 397h5M900 397h2M921 397h2M940 397h2M952 397h2M980 397h2M1008 397h2M1012 397h2M807 398h4M830 398h2M842 398h2M866 398h3M873 398h2M883 398h3M887 398h2M892 398h3M909 398h2M913 398h4M929 398h2M943 398h2M947 398h2M973 398h2M995 398h3M834 399h2M851 399h2M856 399h2M859 399h2M865 399h2M875 399h2M879 399h2M882 399h5M891 399h2M898 399h2M902 399h2M906 399h2M912 399h3M928 399h2M972 399h2M1026 399h2M819 400h2M857 400h6M865 400h2M871 400h4M877 400h4M884 400h2M891 400h3M897 400h2M908 400h2M957 400h4M978 400h2M816 401h2M834 401h2M838 401h2M845 401h3M854 401h5M865 401h2M870 401h2M873 401h2M894 401h2M898 401h3M907 401h2M912 401h2M950 401h2M953 401h2M983 401h2M999 401h2M837 402h2M844 402h2M866 402h4M872 402h6M882 402h2M887 402h3M895 402h2M899 402h2M902 402h2M920 402h2M925 402h2M949 402h4M968 402h2M972 402h4M982 402h2M988 402h2M1052 402h2M839 403h2M852 403h2M870 403h2M877 403h3M881 403h5M894 403h7M926 403h2M933 403h2M942 403h2M970 403h3M1004 403h2M854 404h2M873 404h2M882 404h5M889 404h4M894 404h2M917 404h2M928 404h2M946 404h2M978 404h2M994 404h2M857 405h2M860 405h4M865 405h4M871 405h4M883 405h3M888 405h2M908 405h3M916 405h2M962 405h2M973 405h2M987 405h2M992 405h2M812 406h2M833 406h3M843 406h2M847 406h2M855 406h2M858 406h2M864 406h2M869 406h3M876 406h2M883 406h3M887 406h2M899 406h2M906 406h2M910 406h2M923 406h2M960 406h2M973 406h2M990 406h2M998 406h2M856 407h2M875 407h2M880 407h2M885 407h2M896 407h2M905 407h2M914 407h2M930 407h2M969 407h2M1008 407h2M859 408h2M876 408h2M880 408h4M887 408h2M890 408h4M896 408h2M906 408h2M916 408h2M927 408h3M846 409h2M852 409h4M871 409h2M876 409h2M885 409h2M893 409h2M900 409h2M905 409h3M1019 409h2M831 410h2M858 410h2M864 410h2M867 410h2M872 410h2M885 410h2M892 410h3M896 410h2M986 410h3M995 410h2M804 411h2M823 411h2M837 411h2M848 411h2M858 411h2M863 411h2M874 411h2M877 411h2M882 411h2M896 411h2M943 411h2M948 411h2M861 412h2M866 412h3M882 412h3M889 412h2M898 412h2M907 412h2M952 412h4M972 412h2M1009 412h2M1028 412h2M817 413h2M846 413h2M858 413h2M865 413h2M871 413h2M874 413h2M893 413h2M898 413h2M905 413h2M916 413h2M835 414h4M875 414h2M893 414h4M908 414h2M920 414h2M945 414h2M948 414h2M980 414h4M1010 414h2M834 415h2M847 415h2M860 415h5M869 415h2M875 415h2M881 415h2M885 415h3M898 415h2M919 415h2M939 415h2M957 415h4M843 416h2M852 416h3M859 416h2M875 416h3M881 416h2M887 416h2M908 416h2M829 417h2M835 417h2M875 417h3M879 417h2M897 417h2M938 417h2M845 418h2M856 418h2M860 418h2M899 418h3M904 418h2M844 419h2M848 419h2M874 419h2M898 419h2M902 419h2M843 420h2M866 420h2M874 420h4M929 420h2M947 420h2M977 420h2M842 421h3M861 421h2M869 421h4M877 421h2M885 421h4M898 421h2M904 421h2M916 421h2M817 422h2M844 422h2M865 422h2M872 422h2M886 422h2M899 422h2M972 422h2M859 423h2M884 423h2M895 423h2M898 423h2M965 423h2M822 424h4M827 424h2M873 424h2M938 424h2M871 425h2M960 425h2M867 426h3M878 426h3M883 426h2M886 426h2M895 426h2M920 426h2M862 427h2M899 427h2M823 428h2M850 428h4M858 428h2M868 428h2M887 428h2M899 428h2M946 428h2M856 429h2M869 429h2M896 429h2M895 430h2M935 430h2M853 431h2M868 431h2M885 431h2M912 431h2M842 432h2M849 432h2M853 432h2M884 432h2M818 433h2M860 433h2M884 433h2M861 434h2M903 434h2M908 434h2M823 435h2M805 436h2M864 436h2M871 436h2M846 437h2M880 437h2M893 437h2M978 437h2M804 438h2M837 439h2M870 439h2M1050 439h2M918 440h2M897 441h2M839 442h2M849 442h2M871 442h2M881 443h2M904 444h2M845 445h2M862 445h2M871 445h2M799 446h2M881 446h2M895 446h2M829 448h2M863 448h2M894 450h2M825 451h2M863 451h2M972 451h2M879 452h2M821 453h2" stroke="#000" stroke-width="2" fill="none"/><path d="M913.9 460L966.4 49.4H1211" fill="none" stroke="#8c8c8c" stroke-width="1.2"/><rect x="982" y="400" width="200" height="52" fill="#fff"/><text x="984" y="420.2" font-size="19.5">FITC-A, SSC-A subset</text><text x="984" y="447.5" font-size="19.5">20.4%</text><rect x="798.3" y="47.4" width="413.9" height="413" fill="none" stroke="#000" stroke-width="2.2"/><path d="M786.3 460.4h12M792.3 444.7h6M792.3 429h6M792.3 413.2h6M792.3 397.5h6M786.3 381.8h12M792.3 366.1h6M792.3 350.4h6M792.3 334.6h6M792.3 318.9h6M786.3 303.2h12M792.3 287.5h6M792.3 271.8h6M792.3 256h6M792.3 240.3h6M786.3 224.6h12M792.3 208.9h6M792.3 193.2h6M792.3 177.4h6M792.3 161.7h6M786.3 146h12M792.3 130.3h6M792.3 114.6h6M792.3 98.8h6M792.3 83.1h6M786.3 67.4h12M792.3 51.7h6" stroke="#000" stroke-width="2" fill="none"/><text x="779.5" y="461.4" font-size="29" text-anchor="end">0</text><text x="779.5" y="393.1" font-size="29" text-anchor="end">50K</text><text x="779.5" y="314.5" font-size="29" text-anchor="end">100K</text><text x="779.5" y="235.9" font-size="29" text-anchor="end">150K</text><text x="779.5" y="157.3" font-size="29" text-anchor="end">200K</text><text x="779.5" y="78.7" font-size="29" text-anchor="end">250K</text><path d="M799.1 460.4v12M836.6 460.4v12M839.8 460.4v12M842.9 460.4v12M883.2 460.4v12M983.5 460.4v12M1079.2 460.4v12M1171.4 460.4v12M818.9 460.4v9M863.9 460.4v9M952.9 460.4v9M1050.1 460.4v9M1143.9 460.4v9M802.3 460.4v6M805.8 460.4v6M810.3 460.4v6M814.1 460.4v6M823.2 460.4v6M826.8 460.4v6M831.8 460.4v6M850.8 460.4v6M854.6 460.4v6M859 460.4v6M868.6 460.4v6M872.4 460.4v6M876.8 460.4v6M880 460.4v6M912.3 460.4v6M930 460.4v6M943.4 460.4v6M961.1 460.4v6M967.4 460.4v6M973.8 460.4v6M978.8 460.4v6M1012.7 460.4v6M1029.2 460.4v6M1041.8 460.4v6M1058 460.4v6M1064.9 460.4v6M1069.7 460.4v6M1074.8 460.4v6M1107.1 460.4v6M1122.9 460.4v6M1134.1 460.4v6M1150.2 460.4v6M1157.2 460.4v6M1162.2 460.4v6M1166.7 460.4v6M1198.7 460.4v6" stroke="#000" stroke-width="2" fill="none"/><text transform="translate(835 536.5) scale(1 1.0)" font-size="29.5" font-weight="normal" text-anchor="middle">0</text><text transform="translate(860.6 536.5) scale(1 1.0)" font-size="29.5" font-weight="normal">10<tspan dy="-22">2</tspan></text><text transform="translate(952.5 536.5) scale(1 1.0)" font-size="29.5" font-weight="normal">10<tspan dy="-22">3</tspan></text><text transform="translate(1040.4 536.5) scale(1 1.0)" font-size="29.5" font-weight="normal">10<tspan dy="-22">4</tspan></text><text transform="translate(1123.6 536.5) scale(1 1.0)" font-size="29.5" font-weight="normal">10<tspan dy="-22">5</tspan></text><text x="1024.4" y="599" font-size="42" text-anchor="middle">2A10G6-FITC</text><text transform="translate(700.5 261.5) rotate(-90)" font-size="42" text-anchor="middle">SSC-A</text><path d="M1373.5 459.7C1392.2 459.7 1466.9 459.7 1486 459.5C1488 459.3 1487.1 459.1 1488 458.5C1488.9 457.9 1490 458.7 1491.2 455.6C1492.4 452.5 1493.7 448.7 1495 440C1496.3 431.3 1498.1 418.2 1499.3 403.2C1500.5 388.2 1501 368.8 1502 350C1503 331.2 1504.3 309.5 1505.3 290.3C1506.3 271.1 1507 251.8 1508 235C1509 218.2 1510.4 201.2 1511.4 189.5C1512.4 177.8 1513 170.8 1514 165C1515 159.2 1516.4 155.7 1517.4 154.4C1518.4 153.1 1518.7 154.8 1520 157C1521.3 159.2 1524 166.8 1525.5 167.3C1527 167.8 1527.9 163.2 1529 160C1530.1 156.8 1530.9 151.3 1532 148C1533.1 144.7 1534.2 140.4 1535.5 140.3C1536.8 140.2 1538.5 146.8 1539.6 147.2C1540.7 147.6 1541 144.2 1542 143C1543 141.8 1544.3 138.4 1545.6 140.3C1546.9 142.2 1548.7 152.8 1549.7 154.4C1550.7 156 1550.8 151 1551.5 150C1552.2 149 1553 145.9 1553.7 148.4C1554.5 150.9 1555 156.8 1556 165C1557 173.2 1558.4 190.8 1559.7 197.6C1561 204.4 1562.3 203.3 1564 206C1565.7 208.7 1568.1 210.4 1569.8 213.7C1571.5 217 1572.9 218.1 1573.9 225.8C1574.9 233.5 1575.2 247.6 1576 260C1576.8 272.4 1578 288.2 1579 300C1580 311.8 1580.8 322.8 1582 330.6C1583.2 338.4 1584.3 342.4 1586 346.8C1587.7 351.2 1590 353.6 1592 357C1594 360.4 1596.3 364.2 1598 366.9C1599.7 369.6 1600.7 368.3 1602 373C1603.3 377.7 1604.7 388.6 1606 395C1607.3 401.4 1608.5 406.6 1610 411.3C1611.5 416 1613.3 419.3 1615 423C1616.7 426.7 1618 429.7 1620.2 433.5C1622.4 437.3 1625.7 442.6 1628.3 445.6C1630.9 448.6 1633.3 449.8 1636 451.5C1638.7 453.2 1641.7 454.4 1644.4 455.6C1647.2 456.8 1649.9 458.2 1652.5 458.9C1655.1 459.5 1652.5 459.4 1660 459.5C1682.4 459.6 1765.8 459.5 1787 459.5" fill="none" stroke="#000" stroke-width="2.6" stroke-linejoin="round"/><rect x="1373.5" y="47.4" width="414.5" height="412.6" fill="none" stroke="#000" stroke-width="2.2"/><path d="M1361.5 460h12M1367.5 425.7h6M1367.5 391.3h6M1367.5 357h6M1361.5 322.7h12M1367.5 288.4h6M1367.5 254h6M1367.5 219.7h6M1361.5 185.4h12M1367.5 151h6M1367.5 116.7h6M1367.5 82.4h6M1361.5 48h12" stroke="#000" stroke-width="2" fill="none"/><text x="1354.5" y="461.7" font-size="28" text-anchor="end">0</text><text x="1354.5" y="332.7" font-size="28" text-anchor="end">20</text><text x="1354.5" y="195.6" font-size="28" text-anchor="end">40</text><text x="1354.5" y="79.4" font-size="28" text-anchor="end">60</text><path d="M1374.3 460v12M1411.9 460v12M1415.1 460v12M1418.2 460v12M1458.5 460v12M1559 460v12M1654.8 460v12M1747.1 460v12M1394.1 460v9M1439.2 460v9M1528.3 460v9M1625.7 460v9M1719.6 460v9M1377.5 460v6M1381 460v6M1385.5 460v6M1389.3 460v6M1398.4 460v6M1402 460v6M1407 460v6M1426.1 460v6M1429.9 460v6M1434.3 460v6M1443.9 460v6M1447.7 460v6M1452.1 460v6M1455.3 460v6M1487.7 460v6M1505.4 460v6M1518.8 460v6M1536.5 460v6M1542.8 460v6M1549.3 460v6M1554.3 460v6M1588.2 460v6M1604.7 460v6M1617.4 460v6M1633.6 460v6M1640.5 460v6M1645.3 460v6M1650.4 460v6M1682.7 460v6M1698.6 460v6M1709.8 460v6M1725.9 460v6M1732.9 460v6M1737.9 460v6M1742.4 460v6M1774.5 460v6" stroke="#000" stroke-width="2" fill="none"/><text transform="translate(1410.3 536.5) scale(1 1.0)" font-size="29.5" font-weight="normal" text-anchor="middle">0</text><text transform="translate(1436.8 536.5) scale(1 1.0)" font-size="29.5" font-weight="normal">10<tspan dy="-22">2</tspan></text><text transform="translate(1528.3 536.5) scale(1 1.0)" font-size="29.5" font-weight="normal">10<tspan dy="-22">3</tspan></text><text transform="translate(1616.2 536.5) scale(1 1.0)" font-size="29.5" font-weight="normal">10<tspan dy="-22">4</tspan></text><text transform="translate(1700.5 536.5) scale(1 1.0)" font-size="29.5" font-weight="normal">10<tspan dy="-22">5</tspan></text><text x="1611" y="599" font-size="42" text-anchor="middle">2A10G6-FITC</text><text transform="translate(1303.5 226.2) rotate(-90)" font-size="42" text-anchor="middle">Cell Count</text><path d="M566.1 389.4H671.6" stroke="#231815" stroke-width="3.8" fill="none"/><path d="M698.8 389.4 Q682.8 382.4 664.3 370 Q669.6 381.4 670.6 389.4 Q669.6 397.4 664.3 408.8 Q682.8 396.4 698.8 389.4Z" fill="#231815"/><path d="M1198 393.6H1284.6" stroke="#231815" stroke-width="3.8" fill="none"/><path d="M1311.8 393.6 Q1295.8 386.6 1277.3 374.2 Q1282.6 385.6 1283.6 393.6 Q1282.6 401.6 1277.3 413 Q1295.8 400.6 1311.8 393.6Z" fill="#231815"/><text x="308" y="712.4" font-size="42" text-anchor="middle">Z6</text><text x="633.9" y="712.4" font-size="42" text-anchor="middle">2A10G6</text><text x="956.5" y="712.4" font-size="42" text-anchor="middle">Z3L1</text><text x="1290.7" y="712.4" font-size="42" text-anchor="middle">Z23</text><text x="1614.3" y="712.4" font-size="42" text-anchor="middle">Z20</text><path d="M162 837.6h296.8" stroke="#ff0000" stroke-width="1.15"/><path d="M260.5 837.6L260.5 837L262.2 837L262.2 835.7L263.9 835.7L263.9 834.5L265.6 834.5L265.6 833.1L267.3 833.1L267.3 831.9L269 831.9L269 830.7L270.7 830.7L270.7 829.6L272.4 829.6L272.4 828.1L274.1 828.1L274.1 826.5L275.8 826.5L275.8 825.3L277.5 825.3L277.5 823.2L279.2 823.2L279.2 821.5L280.9 821.5L280.9 819.6L282.6 819.6L282.6 817.8L284.3 817.8L284.3 816.7L286 816.7L286 813.7L287.7 813.7L287.7 812.3L289.4 812.3L289.4 811.3L291.1 811.3L291.1 811.4L292.8 811.4L292.8 810.5L294.5 810.5L294.5 809.1L296.2 809.1L296.2 808L297.9 808L297.9 806.7L299.6 806.7L299.6 805.9L301.3 805.9L301.3 804.7L303 804.7L303 802.8L304.7 802.8L304.7 799.6L306.4 799.6L306.4 796.9L308.1 796.9L308.1 794.7L309.8 794.7L309.8 790.4L311.5 790.4L311.5 788.3L313.2 788.3L313.2 785L314.9 785L314.9 783.4L316.6 783.4L316.6 780.8L318.3 780.8L318.3 778L320 778L320 775.4L321.7 775.4L321.7 772.8L323.4 772.8L323.4 772L325.1 772L325.1 771.5L326.8 771.5L326.8 770.8L328.5 770.8L328.5 770.1L330.2 770.1L330.2 768.8L331.9 768.8L331.9 770.3L333.6 770.3L333.6 769.5L335.3 769.5L335.3 769.4L337 769.4L337 770.8L338.7 770.8L338.7 769.7L340.4 769.7L340.4 768.7L342.1 768.7L342.1 771.2L343.8 771.2L343.8 769.9L345.5 769.9L345.5 769.8L347.2 769.8L347.2 770.3L348.9 770.3L348.9 770.2L350.6 770.2L350.6 771.7L352.3 771.7L352.3 773.9L354 773.9L354 773.4L355.7 773.4L355.7 774.7L357.4 774.7L357.4 777.1L359.1 777.1L359.1 780.2L360.8 780.2L360.8 784.3L362.5 784.3L362.5 787.7L364.2 787.7L364.2 791.6L365.9 791.6L365.9 793.4L367.6 793.4L367.6 797.1L369.3 797.1L369.3 800L371 800L371 803.4L372.7 803.4L372.7 806.2L374.4 806.2L374.4 808.6L376.1 808.6L376.1 810.1L377.8 810.1L377.8 814L379.5 814L379.5 816.1L381.2 816.1L381.2 817.7L382.9 817.7L382.9 819.6L384.6 819.6L384.6 822.3L386.3 822.3L386.3 825.5L388 825.5L388 828L389.7 828L389.7 828.2L391.4 828.2L391.4 829.6L393.1 829.6L393.1 830.7L394.8 830.7L394.8 831.3L396.5 831.3L396.5 832.3L398.2 832.3L398.2 833.6L399.9 833.6L399.9 834L401.6 834L401.6 834.5L403.3 834.5L403.3 834.8L405 834.8L405 835.5L406.7 835.5L406.7 836L408.4 836L408.4 836.5L410.1 836.5L410.1 836.9L411.8 836.9L411.8 837.3L413.5 837.3L413.5 837.6L415.2 837.6L414 837.6Z" fill="#ff0000" stroke="#ff0000" stroke-width="0.8"/><path d="M487.8 837.6h296.8" stroke="#ff0000" stroke-width="1.15"/><path d="M568.4 837.6L568.4 835.2L570.1 835.2L570.1 830.4L571.8 830.4L571.8 825.6L573.5 825.6L573.5 820.5L575.2 820.5L575.2 815.6L576.9 815.6L576.9 808.5L578.6 808.5L578.6 802.7L580.3 802.7L580.3 797.6L582 797.6L582 794L583.7 794L583.7 788.1L585.4 788.1L585.4 782L587.1 782L587.1 780.9L588.8 780.9L588.8 778L590.5 778L590.5 775.4L592.2 775.4L592.2 775.8L593.9 775.8L593.9 772.7L595.6 772.7L595.6 772.5L597.3 772.5L597.3 772L599 772L599 771.4L600.7 771.4L600.7 771L602.4 771L602.4 771.3L604.1 771.3L604.1 770.4L605.8 770.4L605.8 771.7L607.5 771.7L607.5 771.6L609.2 771.6L609.2 771.1L610.9 771.1L610.9 772.4L612.6 772.4L612.6 773.6L614.3 773.6L614.3 772.8L616 772.8L616 773L617.7 773L617.7 776.3L619.4 776.3L619.4 778.8L621.1 778.8L621.1 780L622.8 780L622.8 783.3L624.5 783.3L624.5 786.7L626.2 786.7L626.2 789L627.9 789L627.9 793.9L629.6 793.9L629.6 796L631.3 796L631.3 800.9L633 800.9L633 804L634.7 804L634.7 806.5L636.4 806.5L636.4 808.6L638.1 808.6L638.1 811L639.8 811L639.8 813.1L641.5 813.1L641.5 814.6L643.2 814.6L643.2 816L644.9 816L644.9 817.2L646.6 817.2L646.6 818.9L648.3 818.9L648.3 820.1L650 820.1L650 821.4L651.7 821.4L651.7 823L653.4 823L653.4 824.2L655.1 824.2L655.1 825.7L656.8 825.7L656.8 826.7L658.5 826.7L658.5 828.6L660.2 828.6L660.2 830.2L661.9 830.2L661.9 831.6L663.6 831.6L663.6 832.2L665.3 832.2L665.3 832.6L667 832.6L667 833.5L668.7 833.5L668.7 833.9L670.4 833.9L670.4 834.3L672.1 834.3L672.1 835.2L673.8 835.2L673.8 835.9L675.5 835.9L675.5 836.5L677.2 836.5L677.2 837L678.9 837L678.9 837.6L680.6 837.6L679.8 837.6Z" fill="#ff0000" stroke="#ff0000" stroke-width="0.8"/><path d="M813.3 837.6h296.8" stroke="#ff0000" stroke-width="1.15"/><path d="M910.4 837.6L910.4 835.7L912.1 835.7L912.1 832.4L913.8 832.4L913.8 828.3L915.5 828.3L915.5 823.7L917.2 823.7L917.2 819.1L918.9 819.1L918.9 814.7L920.6 814.7L920.6 810.2L922.3 810.2L922.3 804.5L924 804.5L924 800.8L925.7 800.8L925.7 799.6L927.4 799.6L927.4 796.2L929.1 796.2L929.1 795.7L930.8 795.7L930.8 794.5L932.5 794.5L932.5 792.1L934.2 792.1L934.2 790.1L935.9 790.1L935.9 787.8L937.6 787.8L937.6 787.4L939.3 787.4L939.3 784.3L941 784.3L941 783.3L942.7 783.3L942.7 784.6L944.4 784.6L944.4 783.8L946.1 783.8L946.1 783.1L947.8 783.1L947.8 783.1L949.5 783.1L949.5 782.6L951.2 782.6L951.2 784.4L952.9 784.4L952.9 780.7L954.6 780.7L954.6 778.1L956.3 778.1L956.3 779L958 779L958 780.2L959.7 780.2L959.7 784.8L961.4 784.8L961.4 784.4L963.1 784.4L963.1 786.6L964.8 786.6L964.8 785.7L966.5 785.7L966.5 787.6L968.2 787.6L968.2 787L969.9 787L969.9 786.9L971.6 786.9L971.6 788.2L973.3 788.2L973.3 788.5L975 788.5L975 790.8L976.7 790.8L976.7 794.2L978.4 794.2L978.4 797.3L980.1 797.3L980.1 799.4L981.8 799.4L981.8 802.6L983.5 802.6L983.5 806.3L985.2 806.3L985.2 806.4L986.9 806.4L986.9 809.4L988.6 809.4L988.6 809.6L990.3 809.6L990.3 811.6L992 811.6L992 813L993.7 813L993.7 814.4L995.4 814.4L995.4 816.2L997.1 816.2L997.1 817.6L998.8 817.6L998.8 820.1L1000.5 820.1L1000.5 821.6L1002.2 821.6L1002.2 822.5L1003.9 822.5L1003.9 824.6L1005.6 824.6L1005.6 825.8L1007.3 825.8L1007.3 826.8L1009 826.8L1009 826.8L1010.7 826.8L1010.7 827.8L1012.4 827.8L1012.4 828.5L1014.1 828.5L1014.1 829.9L1015.8 829.9L1015.8 830.5L1017.5 830.5L1017.5 831.4L1019.2 831.4L1019.2 831.4L1020.9 831.4L1020.9 831.6L1022.6 831.6L1022.6 832.4L1024.3 832.4L1024.3 832.3L1026 832.3L1026 832.8L1027.7 832.8L1027.7 833.4L1029.4 833.4L1029.4 834.1L1031.1 834.1L1031.1 833.9L1032.8 833.9L1032.8 834.5L1034.5 834.5L1034.5 834.9L1036.2 834.9L1036.2 835.2L1037.9 835.2L1037.9 835.6L1039.6 835.6L1039.6 835.9L1041.3 835.9L1041.3 836.3L1043 836.3L1043 836.7L1044.7 836.7L1044.7 837.3L1046.4 837.3L1046.3 837.6Z" fill="#ff0000" stroke="#ff0000" stroke-width="0.8"/><path d="M1139.3 837.6h296.8" stroke="#ff0000" stroke-width="1.15"/><path d="M1239.1 837.6L1239.1 836.1L1240.8 836.1L1240.8 832.9L1242.5 832.9L1242.5 829.9L1244.2 829.9L1244.2 826.5L1245.9 826.5L1245.9 824.2L1247.6 824.2L1247.6 820.4L1249.3 820.4L1249.3 817.9L1251 817.9L1251 816.2L1252.7 816.2L1252.7 815.1L1254.4 815.1L1254.4 813.7L1256.1 813.7L1256.1 811.2L1257.8 811.2L1257.8 809.9L1259.5 809.9L1259.5 808.2L1261.2 808.2L1261.2 805.9L1262.9 805.9L1262.9 805L1264.6 805L1264.6 804.4L1266.3 804.4L1266.3 801.7L1268 801.7L1268 800.9L1269.7 800.9L1269.7 797.4L1271.4 797.4L1271.4 795.1L1273.1 795.1L1273.1 793.7L1274.8 793.7L1274.8 793.9L1276.5 793.9L1276.5 794L1278.2 794L1278.2 795L1279.9 795L1279.9 790.7L1281.6 790.7L1281.6 787.5L1283.3 787.5L1283.3 782.8L1285 782.8L1285 780.5L1286.7 780.5L1286.7 779.5L1288.4 779.5L1288.4 780.7L1290.1 780.7L1290.1 779.9L1291.8 779.9L1291.8 782.1L1293.5 782.1L1293.5 781.6L1295.2 781.6L1295.2 780.6L1296.9 780.6L1296.9 776.9L1298.6 776.9L1298.6 776.9L1300.3 776.9L1300.3 774.4L1302 774.4L1302 773L1303.7 773L1303.7 773L1305.4 773L1305.4 774.5L1307.1 774.5L1307.1 775L1308.8 775L1308.8 774.9L1310.5 774.9L1310.5 778.3L1312.2 778.3L1312.2 780.4L1313.9 780.4L1313.9 782.5L1315.6 782.5L1315.6 785.8L1317.3 785.8L1317.3 789.1L1319 789.1L1319 788.2L1320.7 788.2L1320.7 786.5L1322.4 786.5L1322.4 787.6L1324.1 787.6L1324.1 786.3L1325.8 786.3L1325.8 784.6L1327.5 784.6L1327.5 785.1L1329.2 785.1L1329.2 787.8L1330.9 787.8L1330.9 789.2L1332.6 789.2L1332.6 790.4L1334.3 790.4L1334.3 792.1L1336 792.1L1336 793.1L1337.7 793.1L1337.7 793.4L1339.4 793.4L1339.4 798.1L1341.1 798.1L1341.1 805.8L1342.8 805.8L1342.8 809.6L1344.5 809.6L1344.5 811.2L1346.2 811.2L1346.2 813.3L1347.9 813.3L1347.9 814.4L1349.6 814.4L1349.6 816.5L1351.3 816.5L1351.3 817.6L1353 817.6L1353 820.4L1354.7 820.4L1354.7 821L1356.4 821L1356.4 823.1L1358.1 823.1L1358.1 825.2L1359.8 825.2L1359.8 826L1361.5 826L1361.5 827.6L1363.2 827.6L1363.2 829.1L1364.9 829.1L1364.9 829.7L1366.6 829.7L1366.6 830.5L1368.3 830.5L1368.3 831.6L1370 831.6L1370 832.3L1371.7 832.3L1371.7 832.9L1373.4 832.9L1373.4 833.6L1375.1 833.6L1375.1 834.2L1376.8 834.2L1376.8 834.7L1378.5 834.7L1378.5 835.5L1380.2 835.5L1380.2 836L1381.9 836L1381.9 836.6L1383.6 836.6L1383.6 837.2L1385.3 837.2L1385.3 837.6L1387 837.6L1385.5 837.6Z" fill="#ff0000" stroke="#ff0000" stroke-width="0.8"/><path d="M1464.5 837.6h296.8" stroke="#ff0000" stroke-width="1.15"/><path d="M1561 837.6L1561 836.3L1562.7 836.3L1562.7 833.5L1564.4 833.5L1564.4 830.9L1566.1 830.9L1566.1 828.9L1567.8 828.9L1567.8 825.4L1569.5 825.4L1569.5 822.6L1571.2 822.6L1571.2 820.5L1572.9 820.5L1572.9 818.2L1574.6 818.2L1574.6 815L1576.3 815L1576.3 814.3L1578 814.3L1578 811L1579.7 811L1579.7 807.8L1581.4 807.8L1581.4 807.2L1583.1 807.2L1583.1 804.1L1584.8 804.1L1584.8 801.2L1586.5 801.2L1586.5 800L1588.2 800L1588.2 797.4L1589.9 797.4L1589.9 795.2L1591.6 795.2L1591.6 794.6L1593.3 794.6L1593.3 792.4L1595 792.4L1595 790.5L1596.7 790.5L1596.7 788.4L1598.4 788.4L1598.4 787.3L1600.1 787.3L1600.1 785.7L1601.8 785.7L1601.8 784.5L1603.5 784.5L1603.5 782.4L1605.2 782.4L1605.2 780.3L1606.9 780.3L1606.9 779.6L1608.6 779.6L1608.6 779L1610.3 779L1610.3 777.7L1612 777.7L1612 773.9L1613.7 773.9L1613.7 773.7L1615.4 773.7L1615.4 774.5L1617.1 774.5L1617.1 780.7L1618.8 780.7L1618.8 782.5L1620.5 782.5L1620.5 782.6L1622.2 782.6L1622.2 780.8L1623.9 780.8L1623.9 780.7L1625.6 780.7L1625.6 780.1L1627.3 780.1L1627.3 778.7L1629 778.7L1629 779.5L1630.7 779.5L1630.7 777.9L1632.4 777.9L1632.4 779L1634.1 779L1634.1 780.4L1635.8 780.4L1635.8 779.7L1637.5 779.7L1637.5 780L1639.2 780L1639.2 783.7L1640.9 783.7L1640.9 785.1L1642.6 785.1L1642.6 786.3L1644.3 786.3L1644.3 788.3L1646 788.3L1646 790.5L1647.7 790.5L1647.7 792.4L1649.4 792.4L1649.4 791.9L1651.1 791.9L1651.1 794L1652.8 794L1652.8 796.6L1654.5 796.6L1654.5 798.1L1656.2 798.1L1656.2 797.7L1657.9 797.7L1657.9 799.5L1659.6 799.5L1659.6 800.4L1661.3 800.4L1661.3 802.5L1663 802.5L1663 805.4L1664.7 805.4L1664.7 806.8L1666.4 806.8L1666.4 810L1668.1 810L1668.1 811.4L1669.8 811.4L1669.8 813.1L1671.5 813.1L1671.5 814.9L1673.2 814.9L1673.2 817.4L1674.9 817.4L1674.9 819.2L1676.6 819.2L1676.6 820.9L1678.3 820.9L1678.3 822.8L1680 822.8L1680 824.6L1681.7 824.6L1681.7 826.6L1683.4 826.6L1683.4 828.6L1685.1 828.6L1685.1 830.1L1686.8 830.1L1686.8 830.9L1688.5 830.9L1688.5 831.4L1690.2 831.4L1690.2 831.6L1691.9 831.6L1691.9 831.7L1693.6 831.7L1693.6 832L1695.3 832L1695.3 832.2L1697 832.2L1697 832.5L1698.7 832.5L1698.7 832.7L1700.4 832.7L1700.4 833.1L1702.1 833.1L1702.1 833.7L1703.8 833.7L1703.8 833.8L1705.5 833.8L1705.5 834L1707.2 834L1707.2 834.5L1708.9 834.5L1708.9 835L1710.6 835L1710.6 835.3L1712.3 835.3L1712.3 835.7L1714 835.7L1714 836L1715.7 836L1715.7 836.4L1717.4 836.4L1717.4 836.8L1719.1 836.8L1719.1 837.2L1720.8 837.2L1720.8 837.6L1722.5 837.6L1721.5 837.6Z" fill="#ff0000" stroke="#ff0000" stroke-width="0.8"/><path d="M162 907.6h296.8" stroke="#009393" stroke-width="1.15"/><path d="M487.8 907.6h296.8" stroke="#009393" stroke-width="1.15"/><path d="M813.3 907.6h296.8" stroke="#009393" stroke-width="1.15"/><path d="M916.5 907.6L917.8 906L950.3 906L951.9 907.6Z" fill="#009393" stroke="#009393" stroke-width="0.8"/><path d="M1139.3 907.6h296.8" stroke="#009393" stroke-width="1.15"/><path d="M1236.3 907.6L1236.3 907.1L1238 907.1L1238 906L1239.7 906L1239.7 904.9L1241.4 904.9L1241.4 904L1243.1 904L1243.1 903.1L1244.8 903.1L1244.8 900.1L1246.5 900.1L1246.5 897.8L1248.2 897.8L1248.2 894.7L1249.9 894.7L1249.9 892.8L1251.6 892.8L1251.6 892L1253.3 892L1253.3 890.6L1255 890.6L1255 888.8L1256.7 888.8L1256.7 888.9L1258.4 888.9L1258.4 888.8L1260.1 888.8L1260.1 888.2L1261.8 888.2L1261.8 887.2L1263.5 887.2L1263.5 886.8L1265.2 886.8L1265.2 886.5L1266.9 886.5L1266.9 885.5L1268.6 885.5L1268.6 885.7L1270.3 885.7L1270.3 885.9L1272 885.9L1272 885.6L1273.7 885.6L1273.7 885.1L1275.4 885.1L1275.4 885.2L1277.1 885.2L1277.1 885.1L1278.8 885.1L1278.8 885.9L1280.5 885.9L1280.5 885.4L1282.2 885.4L1282.2 885L1283.9 885L1283.9 885.3L1285.6 885.3L1285.6 885.1L1287.3 885.1L1287.3 885.6L1289 885.6L1289 885.9L1290.7 885.9L1290.7 886.7L1292.4 886.7L1292.4 885.9L1294.1 885.9L1294.1 887.6L1295.8 887.6L1295.8 890L1297.5 890L1297.5 891.8L1299.2 891.8L1299.2 892.9L1300.9 892.9L1300.9 895.6L1302.6 895.6L1302.6 895.7L1304.3 895.7L1304.3 896.1L1306 896.1L1306 896.8L1307.7 896.8L1307.7 897.6L1309.4 897.6L1309.4 897.6L1311.1 897.6L1311.1 898L1312.8 898L1312.8 898.2L1314.5 898.2L1314.5 898.8L1316.2 898.8L1316.2 899.5L1317.9 899.5L1317.9 899.8L1319.6 899.8L1319.6 900.3L1321.3 900.3L1321.3 900.9L1323 900.9L1323 901.4L1324.7 901.4L1324.7 902L1326.4 902L1326.4 902.3L1328.1 902.3L1328.1 903.1L1329.8 903.1L1329.8 903.4L1331.5 903.4L1331.5 903.8L1333.2 903.8L1333.2 904.5L1334.9 904.5L1334.9 904.8L1336.6 904.8L1336.6 905.2L1338.3 905.2L1338.3 905.6L1340 905.6L1340 906.1L1341.7 906.1L1341.7 906.6L1343.4 906.6L1343.4 907L1345.1 907L1345.1 907.5L1346.8 907.5L1346.3 907.6Z" fill="#009393" stroke="#009393" stroke-width="0.8"/><path d="M1464.5 907.6h296.8" stroke="#009393" stroke-width="1.15"/><path d="M162 977.6h296.8" stroke="#9900cc" stroke-width="1.15"/><path d="M487.8 977.6h296.8" stroke="#9900cc" stroke-width="1.15"/><path d="M813.3 977.6h296.8" stroke="#9900cc" stroke-width="1.15"/><path d="M914.8 977.6L918.3 975.6L920.8 974.1L931.2 974.1L932.9 975.2L948.4 975.2L950.2 976.4L964.9 976.9L965.8 977.6Z" fill="#9900cc" stroke="#9900cc" stroke-width="0.8"/><path d="M1139.3 977.6h296.8" stroke="#9900cc" stroke-width="1.15"/><path d="M1237.2 977.6L1237.2 976.5L1238.9 976.5L1238.9 974.7L1240.6 974.7L1240.6 972.4L1242.3 972.4L1242.3 969.9L1244 969.9L1244 967.8L1245.7 967.8L1245.7 965.8L1247.4 965.8L1247.4 963.7L1249.1 963.7L1249.1 962.5L1250.8 962.5L1250.8 960.7L1252.5 960.7L1252.5 960.5L1254.2 960.5L1254.2 959.6L1255.9 959.6L1255.9 959.6L1257.6 959.6L1257.6 958.7L1259.3 958.7L1259.3 958.7L1261 958.7L1261 957.1L1262.7 957.1L1262.7 956.5L1264.4 956.5L1264.4 957.1L1266.1 957.1L1266.1 955.8L1267.8 955.8L1267.8 954.9L1269.5 954.9L1269.5 955.4L1271.2 955.4L1271.2 955L1272.9 955L1272.9 954.1L1274.6 954.1L1274.6 953.5L1276.3 953.5L1276.3 954.3L1278 954.3L1278 955.3L1279.7 955.3L1279.7 956.9L1281.4 956.9L1281.4 958.5L1283.1 958.5L1283.1 960.2L1284.8 960.2L1284.8 960.8L1286.5 960.8L1286.5 961.2L1288.2 961.2L1288.2 962.2L1289.9 962.2L1289.9 962.1L1291.6 962.1L1291.6 962.5L1293.3 962.5L1293.3 962.7L1295 962.7L1295 963.4L1296.7 963.4L1296.7 964.4L1298.4 964.4L1298.4 965.3L1300.1 965.3L1300.1 967L1301.8 967L1301.8 967.4L1303.5 967.4L1303.5 967.4L1305.2 967.4L1305.2 967.7L1306.9 967.7L1306.9 968.1L1308.6 968.1L1308.6 968.3L1310.3 968.3L1310.3 968.8L1312 968.8L1312 968.7L1313.7 968.7L1313.7 969.1L1315.4 969.1L1315.4 969.9L1317.1 969.9L1317.1 970.6L1318.8 970.6L1318.8 971.2L1320.5 971.2L1320.5 972.4L1322.2 972.4L1322.2 972.6L1323.9 972.6L1323.9 973.1L1325.6 973.1L1325.6 973.9L1327.3 973.9L1327.3 973.9L1329 973.9L1329 974.2L1330.7 974.2L1330.7 974.7L1332.4 974.7L1332.4 974.8L1334.1 974.8L1334.1 975.1L1335.8 975.1L1335.8 975.3L1337.5 975.3L1337.5 975.6L1339.2 975.6L1339.2 975.9L1340.9 975.9L1340.9 976.2L1342.6 976.2L1342.6 976.5L1344.3 976.5L1344.3 976.8L1346 976.8L1346 977.1L1347.7 977.1L1347.7 977.4L1349.4 977.4L1349.4 977.6L1351.1 977.6L1350 977.6Z" fill="#9900cc" stroke="#9900cc" stroke-width="0.8"/><path d="M1464.5 977.6h296.8" stroke="#9900cc" stroke-width="1.15"/><path d="M162 1047.6h296.8" stroke="#cc9999" stroke-width="1.15"/><path d="M487.8 1047.6h296.8" stroke="#cc9999" stroke-width="1.15"/><path d="M813.3 1047.6h296.8" stroke="#cc9999" stroke-width="1.15"/><path d="M916.5 1047.6L919.3 1046.1L922.5 1045.4L934.6 1045.4L935.5 1046.7L951.9 1046.7L952.8 1047.6Z" fill="#cc9999" stroke="#cc9999" stroke-width="0.8"/><path d="M1139.3 1047.6h296.8" stroke="#cc9999" stroke-width="1.15"/><path d="M1236.3 1047.6L1236.3 1046.6L1238 1046.6L1238 1044.5L1239.7 1044.5L1239.7 1042.4L1241.4 1042.4L1241.4 1040.5L1243.1 1040.5L1243.1 1038.7L1244.8 1038.7L1244.8 1036.4L1246.5 1036.4L1246.5 1034.4L1248.2 1034.4L1248.2 1032.1L1249.9 1032.1L1249.9 1030.2L1251.6 1030.2L1251.6 1028.5L1253.3 1028.5L1253.3 1027.5L1255 1027.5L1255 1026.8L1256.7 1026.8L1256.7 1026.7L1258.4 1026.7L1258.4 1026.6L1260.1 1026.6L1260.1 1025.9L1261.8 1025.9L1261.8 1025.7L1263.5 1025.7L1263.5 1025.2L1265.2 1025.2L1265.2 1024.1L1266.9 1024.1L1266.9 1023.4L1268.6 1023.4L1268.6 1021.1L1270.3 1021.1L1270.3 1021.3L1272 1021.3L1272 1020.2L1273.7 1020.2L1273.7 1020.8L1275.4 1020.8L1275.4 1020.6L1277.1 1020.6L1277.1 1022.4L1278.8 1022.4L1278.8 1022.1L1280.5 1022.1L1280.5 1024.2L1282.2 1024.2L1282.2 1026.6L1283.9 1026.6L1283.9 1028.5L1285.6 1028.5L1285.6 1030.1L1287.3 1030.1L1287.3 1030.1L1289 1030.1L1289 1030.6L1290.7 1030.6L1290.7 1030.9L1292.4 1030.9L1292.4 1031.4L1294.1 1031.4L1294.1 1032L1295.8 1032L1295.8 1032.2L1297.5 1032.2L1297.5 1033.1L1299.2 1033.1L1299.2 1033.3L1300.9 1033.3L1300.9 1035L1302.6 1035L1302.6 1035.6L1304.3 1035.6L1304.3 1036L1306 1036L1306 1037.6L1307.7 1037.6L1307.7 1038L1309.4 1038L1309.4 1038.2L1311.1 1038.2L1311.1 1038.9L1312.8 1038.9L1312.8 1039.6L1314.5 1039.6L1314.5 1039.9L1316.2 1039.9L1316.2 1040.3L1317.9 1040.3L1317.9 1040.7L1319.6 1040.7L1319.6 1041.5L1321.3 1041.5L1321.3 1041.3L1323 1041.3L1323 1041.6L1324.7 1041.6L1324.7 1042.3L1326.4 1042.3L1326.4 1042.6L1328.1 1042.6L1328.1 1043.1L1329.8 1043.1L1329.8 1043.1L1331.5 1043.1L1331.5 1043.9L1333.2 1043.9L1333.2 1044L1334.9 1044L1334.9 1044.5L1336.6 1044.5L1336.6 1044.9L1338.3 1044.9L1338.3 1045.1L1340 1045.1L1340 1045.5L1341.7 1045.5L1341.7 1045.8L1343.4 1045.8L1343.4 1046.2L1345.1 1046.2L1345.1 1046.5L1346.8 1046.5L1346.8 1046.9L1348.5 1046.9L1348.5 1047.2L1350.2 1047.2L1350.2 1047.6L1351.9 1047.6L1351.2 1047.6Z" fill="#cc9999" stroke="#cc9999" stroke-width="0.8"/><path d="M1464.5 1047.6h296.8" stroke="#cc9999" stroke-width="1.15"/><path d="M162 1117.6h296.8" stroke="#336600" stroke-width="1.15"/><path d="M487.8 1117.6h296.8" stroke="#336600" stroke-width="1.15"/><path d="M813.3 1117.6h296.8" stroke="#336600" stroke-width="1.15"/><path d="M917.3 1117.6L920.3 1116.1L922.5 1115L943.2 1115L944.3 1116.6L957.9 1116.6L958.8 1117.6Z" fill="#336600" stroke="#336600" stroke-width="0.8"/><path d="M1139.3 1117.6h296.8" stroke="#336600" stroke-width="1.15"/><path d="M1237.2 1117.6L1237.2 1116.5L1238.9 1116.5L1238.9 1114.2L1240.6 1114.2L1240.6 1111.8L1242.3 1111.8L1242.3 1109.9L1244 1109.9L1244 1107.9L1245.7 1107.9L1245.7 1105.3L1247.4 1105.3L1247.4 1103.3L1249.1 1103.3L1249.1 1101L1250.8 1101L1250.8 1098.8L1252.5 1098.8L1252.5 1098.6L1254.2 1098.6L1254.2 1098.9L1255.9 1098.9L1255.9 1097.4L1257.6 1097.4L1257.6 1098L1259.3 1098L1259.3 1097.3L1261 1097.3L1261 1097.5L1262.7 1097.5L1262.7 1096.9L1264.4 1096.9L1264.4 1097.3L1266.1 1097.3L1266.1 1095.6L1267.8 1095.6L1267.8 1095.4L1269.5 1095.4L1269.5 1096.2L1271.2 1096.2L1271.2 1096.1L1272.9 1096.1L1272.9 1095.8L1274.6 1095.8L1274.6 1094.4L1276.3 1094.4L1276.3 1095.2L1278 1095.2L1278 1095.2L1279.7 1095.2L1279.7 1095.5L1281.4 1095.5L1281.4 1095.6L1283.1 1095.6L1283.1 1096.2L1284.8 1096.2L1284.8 1095.9L1286.5 1095.9L1286.5 1096.7L1288.2 1096.7L1288.2 1096.5L1289.9 1096.5L1289.9 1097.2L1291.6 1097.2L1291.6 1098.1L1293.3 1098.1L1293.3 1099.3L1295 1099.3L1295 1100.5L1296.7 1100.5L1296.7 1101L1298.4 1101L1298.4 1101.9L1300.1 1101.9L1300.1 1101.6L1301.8 1101.6L1301.8 1102.3L1303.5 1102.3L1303.5 1103L1305.2 1103L1305.2 1103.5L1306.9 1103.5L1306.9 1104L1308.6 1104L1308.6 1104.6L1310.3 1104.6L1310.3 1105.4L1312 1105.4L1312 1106.2L1313.7 1106.2L1313.7 1107.1L1315.4 1107.1L1315.4 1108.1L1317.1 1108.1L1317.1 1108.7L1318.8 1108.7L1318.8 1110.4L1320.5 1110.4L1320.5 1110.9L1322.2 1110.9L1322.2 1110.7L1323.9 1110.7L1323.9 1112.2L1325.6 1112.2L1325.6 1112.3L1327.3 1112.3L1327.3 1112.6L1329 1112.6L1329 1113.1L1330.7 1113.1L1330.7 1113.5L1332.4 1113.5L1332.4 1114L1334.1 1114L1334.1 1114.4L1335.8 1114.4L1335.8 1114.9L1337.5 1114.9L1337.5 1115.3L1339.2 1115.3L1339.2 1115.8L1340.9 1115.8L1340.9 1116.2L1342.6 1116.2L1342.6 1116.6L1344.3 1116.6L1344.3 1117.1L1346 1117.1L1346 1117.5L1347.7 1117.5L1347.2 1117.6Z" fill="#336600" stroke="#336600" stroke-width="0.8"/><path d="M1464.5 1117.6h296.8" stroke="#336600" stroke-width="1.15"/><path d="M162 1186.6h296.8" stroke="#66ff33" stroke-width="1.15"/><path d="M487.8 1186.6h296.8" stroke="#66ff33" stroke-width="1.15"/><path d="M813.3 1186.6h296.8" stroke="#66ff33" stroke-width="1.15"/><path d="M1139.3 1186.6h296.8" stroke="#66ff33" stroke-width="1.15"/><path d="M1235 1186.6L1235 1185.2L1236.7 1185.2L1236.7 1182.3L1238.4 1182.3L1238.4 1180.1L1240.1 1180.1L1240.1 1177.1L1241.8 1177.1L1241.8 1174.1L1243.5 1174.1L1243.5 1171.7L1245.2 1171.7L1245.2 1168.9L1246.9 1168.9L1246.9 1166.2L1248.6 1166.2L1248.6 1165.9L1250.3 1165.9L1250.3 1164.5L1252 1164.5L1252 1164.1L1253.7 1164.1L1253.7 1164.8L1255.4 1164.8L1255.4 1165.3L1257.1 1165.3L1257.1 1165.9L1258.8 1165.9L1258.8 1166.1L1260.5 1166.1L1260.5 1165.2L1262.2 1165.2L1262.2 1164.6L1263.9 1164.6L1263.9 1164.7L1265.6 1164.7L1265.6 1164.3L1267.3 1164.3L1267.3 1164.5L1269 1164.5L1269 1165.7L1270.7 1165.7L1270.7 1165.6L1272.4 1165.6L1272.4 1165.6L1274.1 1165.6L1274.1 1167.2L1275.8 1167.2L1275.8 1168.9L1277.5 1168.9L1277.5 1170.9L1279.2 1170.9L1279.2 1172.3L1280.9 1172.3L1280.9 1173.1L1282.6 1173.1L1282.6 1173.3L1284.3 1173.3L1284.3 1174.2L1286 1174.2L1286 1174.3L1287.7 1174.3L1287.7 1174.7L1289.4 1174.7L1289.4 1175.6L1291.1 1175.6L1291.1 1175L1292.8 1175L1292.8 1175.5L1294.5 1175.5L1294.5 1176.7L1296.2 1176.7L1296.2 1176.1L1297.9 1176.1L1297.9 1176.5L1299.6 1176.5L1299.6 1176.4L1301.3 1176.4L1301.3 1176.6L1303 1176.6L1303 1177.2L1304.7 1177.2L1304.7 1177L1306.4 1177L1306.4 1176.7L1308.1 1176.7L1308.1 1177.7L1309.8 1177.7L1309.8 1178.3L1311.5 1178.3L1311.5 1178.9L1313.2 1178.9L1313.2 1179.4L1314.9 1179.4L1314.9 1179.6L1316.6 1179.6L1316.6 1179.8L1318.3 1179.8L1318.3 1180.6L1320 1180.6L1320 1181.2L1321.7 1181.2L1321.7 1181.2L1323.4 1181.2L1323.4 1182.1L1325.1 1182.1L1325.1 1182.5L1326.8 1182.5L1326.8 1182.6L1328.5 1182.6L1328.5 1183L1330.2 1183L1330.2 1183.6L1331.9 1183.6L1331.9 1184L1333.6 1184L1333.6 1184.2L1335.3 1184.2L1335.3 1184.6L1337 1184.6L1337 1184.9L1338.7 1184.9L1338.7 1185.3L1340.4 1185.3L1340.4 1185.7L1342.1 1185.7L1342.1 1186L1343.8 1186L1343.8 1186.4L1345.5 1186.4L1345.5 1186.6L1347.2 1186.6L1345.6 1186.6Z" fill="#66ff33" stroke="#66ff33" stroke-width="0.8"/><path d="M1464.5 1186.6h296.8" stroke="#66ff33" stroke-width="1.15"/><path d="M162 1256.6h296.8" stroke="#ff9933" stroke-width="1.15"/><path d="M487.8 1256.6h296.8" stroke="#ff9933" stroke-width="1.15"/><path d="M813.3 1256.6h296.8" stroke="#ff9933" stroke-width="1.15"/><path d="M913 1256.6L919.3 1254.1L927.7 1252.3L943.3 1252.3L945.3 1254L953.6 1254L955.3 1255.6L967.5 1255.6L968.3 1256.6Z" fill="#ff9933" stroke="#ff9933" stroke-width="0.8"/><path d="M1139.3 1256.6h296.8" stroke="#ff9933" stroke-width="1.15"/><path d="M1236.8 1256.6L1236.8 1255.6L1238.5 1255.6L1238.5 1253.5L1240.2 1253.5L1240.2 1251.5L1241.9 1251.5L1241.9 1249.8L1243.6 1249.8L1243.6 1247.5L1245.3 1247.5L1245.3 1245.6L1247 1245.6L1247 1243.3L1248.7 1243.3L1248.7 1241.4L1250.4 1241.4L1250.4 1239.4L1252.1 1239.4L1252.1 1238.1L1253.8 1238.1L1253.8 1237.2L1255.5 1237.2L1255.5 1236.7L1257.2 1236.7L1257.2 1237L1258.9 1237L1258.9 1236.2L1260.6 1236.2L1260.6 1236.4L1262.3 1236.4L1262.3 1235.7L1264 1235.7L1264 1235.1L1265.7 1235.1L1265.7 1234.3L1267.4 1234.3L1267.4 1234.7L1269.1 1234.7L1269.1 1234.2L1270.8 1234.2L1270.8 1233.8L1272.5 1233.8L1272.5 1234.9L1274.2 1234.9L1274.2 1234.7L1275.9 1234.7L1275.9 1235.4L1277.6 1235.4L1277.6 1235.5L1279.3 1235.5L1279.3 1237.3L1281 1237.3L1281 1238.7L1282.7 1238.7L1282.7 1239L1284.4 1239L1284.4 1239.2L1286.1 1239.2L1286.1 1239.7L1287.8 1239.7L1287.8 1239.4L1289.5 1239.4L1289.5 1240.1L1291.2 1240.1L1291.2 1240.4L1292.9 1240.4L1292.9 1240.3L1294.6 1240.3L1294.6 1241.3L1296.3 1241.3L1296.3 1242.1L1298 1242.1L1298 1243L1299.7 1243L1299.7 1243.9L1301.4 1243.9L1301.4 1245.4L1303.1 1245.4L1303.1 1246.4L1304.8 1246.4L1304.8 1247L1306.5 1247L1306.5 1246.9L1308.2 1246.9L1308.2 1246.7L1309.9 1246.7L1309.9 1247.6L1311.6 1247.6L1311.6 1246.9L1313.3 1246.9L1313.3 1247.9L1315 1247.9L1315 1247.9L1316.7 1247.9L1316.7 1248.1L1318.4 1248.1L1318.4 1248L1320.1 1248L1320.1 1248.8L1321.8 1248.8L1321.8 1249.3L1323.5 1249.3L1323.5 1249L1325.2 1249L1325.2 1249.3L1326.9 1249.3L1326.9 1249.7L1328.6 1249.7L1328.6 1249.6L1330.3 1249.6L1330.3 1250.5L1332 1250.5L1332 1250.9L1333.7 1250.9L1333.7 1251.2L1335.4 1251.2L1335.4 1251.7L1337.1 1251.7L1337.1 1251.9L1338.8 1251.9L1338.8 1252.8L1340.5 1252.8L1340.5 1253.1L1342.2 1253.1L1342.2 1254L1343.9 1254L1343.9 1253.7L1345.6 1253.7L1345.6 1254.3L1347.3 1254.3L1347.3 1254.7L1349 1254.7L1349 1255.1L1350.7 1255.1L1350.7 1255.5L1352.4 1255.5L1352.4 1255.9L1354.1 1255.9L1354.1 1256.3L1355.8 1256.3L1355.8 1256.6L1357.5 1256.6L1356 1256.6Z" fill="#ff9933" stroke="#ff9933" stroke-width="0.8"/><path d="M1464.5 1256.6h296.8" stroke="#ff9933" stroke-width="1.15"/><path d="M1568.5 1256.6L1571.5 1254.8L1576.5 1254.1L1586.5 1254.3L1589.5 1255.6L1595.5 1256.6Z" fill="#ff9933" stroke="#ff9933" stroke-width="0.8"/><path d="M162 1326.6h296.8" stroke="#00ccff" stroke-width="1.15"/><path d="M487.8 1326.6h296.8" stroke="#00ccff" stroke-width="1.15"/><path d="M813.3 1326.6h296.8" stroke="#00ccff" stroke-width="1.15"/><path d="M916.5 1326.6L919.3 1324.1L922.5 1322.3L933.3 1322.3L936.3 1324.4L943.3 1324.4L945.3 1325.6L971 1325.6L971.8 1326.6Z" fill="#00ccff" stroke="#00ccff" stroke-width="0.8"/><path d="M1139.3 1326.6h296.8" stroke="#00ccff" stroke-width="1.15"/><path d="M1236.8 1326.6L1236.8 1325.2L1238.5 1325.2L1238.5 1322.6L1240.2 1322.6L1240.2 1319.6L1241.9 1319.6L1241.9 1316.5L1243.6 1316.5L1243.6 1314.4L1245.3 1314.4L1245.3 1311.8L1247 1311.8L1247 1310.2L1248.7 1310.2L1248.7 1309.8L1250.4 1309.8L1250.4 1309.2L1252.1 1309.2L1252.1 1308.1L1253.8 1308.1L1253.8 1307.9L1255.5 1307.9L1255.5 1307.3L1257.2 1307.3L1257.2 1306.9L1258.9 1306.9L1258.9 1305.9L1260.6 1305.9L1260.6 1305.4L1262.3 1305.4L1262.3 1304.5L1264 1304.5L1264 1303L1265.7 1303L1265.7 1302.5L1267.4 1302.5L1267.4 1303.1L1269.1 1303.1L1269.1 1302L1270.8 1302L1270.8 1302.6L1272.5 1302.6L1272.5 1303.4L1274.2 1303.4L1274.2 1302.6L1275.9 1302.6L1275.9 1303L1277.6 1303L1277.6 1304L1279.3 1304L1279.3 1303L1281 1303L1281 1303.9L1282.7 1303.9L1282.7 1304.1L1284.4 1304.1L1284.4 1304.7L1286.1 1304.7L1286.1 1305.2L1287.8 1305.2L1287.8 1306.2L1289.5 1306.2L1289.5 1305.5L1291.2 1305.5L1291.2 1307.4L1292.9 1307.4L1292.9 1309L1294.6 1309L1294.6 1310.2L1296.3 1310.2L1296.3 1311.7L1298 1311.7L1298 1311.8L1299.7 1311.8L1299.7 1312.3L1301.4 1312.3L1301.4 1312.3L1303.1 1312.3L1303.1 1313.1L1304.8 1313.1L1304.8 1312.7L1306.5 1312.7L1306.5 1312.4L1308.2 1312.4L1308.2 1312.3L1309.9 1312.3L1309.9 1313.6L1311.6 1313.6L1311.6 1314.4L1313.3 1314.4L1313.3 1314.7L1315 1314.7L1315 1316.2L1316.7 1316.2L1316.7 1316.7L1318.4 1316.7L1318.4 1317.3L1320.1 1317.3L1320.1 1318.3L1321.8 1318.3L1321.8 1318.5L1323.5 1318.5L1323.5 1319.4L1325.2 1319.4L1325.2 1319.7L1326.9 1319.7L1326.9 1320.2L1328.6 1320.2L1328.6 1320.6L1330.3 1320.6L1330.3 1320.8L1332 1320.8L1332 1321L1333.7 1321L1333.7 1322.1L1335.4 1322.1L1335.4 1322.5L1337.1 1322.5L1337.1 1322.8L1338.8 1322.8L1338.8 1323.4L1340.5 1323.4L1340.5 1323.4L1342.2 1323.4L1342.2 1323.6L1343.9 1323.6L1343.9 1324L1345.6 1324L1345.6 1324.2L1347.3 1324.2L1347.3 1324.5L1349 1324.5L1349 1324.7L1350.7 1324.7L1350.7 1325L1352.4 1325L1352.4 1325.2L1354.1 1325.2L1354.1 1325.5L1355.8 1325.5L1355.8 1325.7L1357.5 1325.7L1357.5 1325.9L1359.2 1325.9L1359.2 1326.2L1360.9 1326.2L1360.9 1326.4L1362.6 1326.4L1362.6 1326.6L1364.3 1326.6L1362.9 1326.6Z" fill="#00ccff" stroke="#00ccff" stroke-width="0.8"/><path d="M1464.5 1326.6h296.8" stroke="#00ccff" stroke-width="1.15"/><path d="M162 1396.6h296.8" stroke="#ff3333" stroke-width="1.15"/><path d="M487.8 1396.6h296.8" stroke="#ff3333" stroke-width="1.15"/><path d="M813.3 1396.6h296.8" stroke="#ff3333" stroke-width="1.15"/><path d="M917.3 1396.6L918.3 1394.4L937.3 1394.4L938.3 1396.6Z" fill="#ff3333" stroke="#ff3333" stroke-width="0.8"/><path d="M1139.3 1396.6h296.8" stroke="#ff3333" stroke-width="1.15"/><path d="M1236.8 1396.6L1236.8 1395.2L1238.5 1395.2L1238.5 1392.3L1240.2 1392.3L1240.2 1390L1241.9 1390L1241.9 1386.6L1243.6 1386.6L1243.6 1384.5L1245.3 1384.5L1245.3 1381.5L1247 1381.5L1247 1378.6L1248.7 1378.6L1248.7 1376.6L1250.4 1376.6L1250.4 1375.3L1252.1 1375.3L1252.1 1374.9L1253.8 1374.9L1253.8 1374.4L1255.5 1374.4L1255.5 1373.3L1257.2 1373.3L1257.2 1372.1L1258.9 1372.1L1258.9 1372L1260.6 1372L1260.6 1371.4L1262.3 1371.4L1262.3 1371.3L1264 1371.3L1264 1372L1265.7 1372L1265.7 1372.9L1267.4 1372.9L1267.4 1371.5L1269.1 1371.5L1269.1 1371.9L1270.8 1371.9L1270.8 1374L1272.5 1374L1272.5 1373.4L1274.2 1373.4L1274.2 1373.4L1275.9 1373.4L1275.9 1373.5L1277.6 1373.5L1277.6 1374L1279.3 1374L1279.3 1375.8L1281 1375.8L1281 1377.6L1282.7 1377.6L1282.7 1378.5L1284.4 1378.5L1284.4 1379.6L1286.1 1379.6L1286.1 1381.8L1287.8 1381.8L1287.8 1383.2L1289.5 1383.2L1289.5 1383.2L1291.2 1383.2L1291.2 1384.2L1292.9 1384.2L1292.9 1384L1294.6 1384L1294.6 1384.4L1296.3 1384.4L1296.3 1384.5L1298 1384.5L1298 1385.2L1299.7 1385.2L1299.7 1385.6L1301.4 1385.6L1301.4 1385.9L1303.1 1385.9L1303.1 1386.1L1304.8 1386.1L1304.8 1386.7L1306.5 1386.7L1306.5 1386.8L1308.2 1386.8L1308.2 1387L1309.9 1387L1309.9 1387.2L1311.6 1387.2L1311.6 1387.5L1313.3 1387.5L1313.3 1388.7L1315 1388.7L1315 1389.3L1316.7 1389.3L1316.7 1390.5L1318.4 1390.5L1318.4 1390.2L1320.1 1390.2L1320.1 1391.4L1321.8 1391.4L1321.8 1392L1323.5 1392L1323.5 1392.5L1325.2 1392.5L1325.2 1393.5L1326.9 1393.5L1326.9 1393.9L1328.6 1393.9L1328.6 1394.7L1330.3 1394.7L1330.3 1395L1332 1395L1332 1395.1L1333.7 1395.1L1333.7 1395.3L1335.4 1395.3L1335.4 1395.4L1337.1 1395.4L1337.1 1395.5L1338.8 1395.5L1338.8 1395.7L1340.5 1395.7L1340.5 1395.8L1342.2 1395.8L1342.2 1396L1343.9 1396L1343.9 1396.1L1345.6 1396.1L1345.6 1396.2L1347.3 1396.2L1347.3 1396.4L1349 1396.4L1349 1396.5L1350.7 1396.5L1350.7 1396.6L1352.4 1396.6L1350.8 1396.6Z" fill="#ff3333" stroke="#ff3333" stroke-width="0.8"/><path d="M1464.5 1396.6h296.8" stroke="#ff3333" stroke-width="1.15"/><path d="M162 1466.6h296.8" stroke="#cccccc" stroke-width="1.15"/><path d="M487.8 1466.6h296.8" stroke="#cccccc" stroke-width="1.15"/><path d="M813.3 1466.6h296.8" stroke="#cccccc" stroke-width="1.15"/><path d="M914.3 1466.6L916.3 1465.8L941.3 1465.8L942.3 1466.6Z" fill="#cccccc" stroke="#cccccc" stroke-width="0.8"/><path d="M1139.3 1466.6h296.8" stroke="#cccccc" stroke-width="1.15"/><path d="M1236.8 1466.6L1236.8 1465.6L1238.5 1465.6L1238.5 1463.5L1240.2 1463.5L1240.2 1461.7L1241.9 1461.7L1241.9 1459.2L1243.6 1459.2L1243.6 1456.9L1245.3 1456.9L1245.3 1455.7L1247 1455.7L1247 1452.7L1248.7 1452.7L1248.7 1450.8L1250.4 1450.8L1250.4 1448.6L1252.1 1448.6L1252.1 1446.5L1253.8 1446.5L1253.8 1444.7L1255.5 1444.7L1255.5 1445.1L1257.2 1445.1L1257.2 1444.4L1258.9 1444.4L1258.9 1444.8L1260.6 1444.8L1260.6 1444.1L1262.3 1444.1L1262.3 1444.5L1264 1444.5L1264 1444L1265.7 1444L1265.7 1443L1267.4 1443L1267.4 1443.4L1269.1 1443.4L1269.1 1443.7L1270.8 1443.7L1270.8 1444.1L1272.5 1444.1L1272.5 1443.9L1274.2 1443.9L1274.2 1443.5L1275.9 1443.5L1275.9 1443.2L1277.6 1443.2L1277.6 1443.5L1279.3 1443.5L1279.3 1444.2L1281 1444.2L1281 1445.1L1282.7 1445.1L1282.7 1445.2L1284.4 1445.2L1284.4 1446.6L1286.1 1446.6L1286.1 1447.4L1287.8 1447.4L1287.8 1448.3L1289.5 1448.3L1289.5 1450.2L1291.2 1450.2L1291.2 1451.8L1292.9 1451.8L1292.9 1453.4L1294.6 1453.4L1294.6 1454.8L1296.3 1454.8L1296.3 1454.8L1298 1454.8L1298 1455L1299.7 1455L1299.7 1455.7L1301.4 1455.7L1301.4 1455.4L1303.1 1455.4L1303.1 1455.6L1304.8 1455.6L1304.8 1456.6L1306.5 1456.6L1306.5 1456.9L1308.2 1456.9L1308.2 1458L1309.9 1458L1309.9 1458.8L1311.6 1458.8L1311.6 1459.2L1313.3 1459.2L1313.3 1459.9L1315 1459.9L1315 1461.1L1316.7 1461.1L1316.7 1461.7L1318.4 1461.7L1318.4 1462.7L1320.1 1462.7L1320.1 1462.9L1321.8 1462.9L1321.8 1463.7L1323.5 1463.7L1323.5 1463.7L1325.2 1463.7L1325.2 1464.1L1326.9 1464.1L1326.9 1464.2L1328.6 1464.2L1328.6 1464.4L1330.3 1464.4L1330.3 1464.6L1332 1464.6L1332 1464.8L1333.7 1464.8L1333.7 1465L1335.4 1465L1335.4 1465.2L1337.1 1465.2L1337.1 1465.4L1338.8 1465.4L1338.8 1465.5L1340.5 1465.5L1340.5 1465.7L1342.2 1465.7L1342.2 1465.9L1343.9 1465.9L1343.9 1466.1L1345.6 1466.1L1345.6 1466.3L1347.3 1466.3L1347.3 1466.5L1349 1466.5L1349 1466.6L1350.7 1466.6L1349.1 1466.6Z" fill="#cccccc" stroke="#cccccc" stroke-width="0.8"/><path d="M1464.5 1466.6h296.8" stroke="#cccccc" stroke-width="1.15"/><path d="M162 1535.6h296.8" stroke="#666666" stroke-width="1.15"/><path d="M268 1535.6L270 1534.1L273 1533.1L276.3 1531.9L279 1533.1L287.3 1534.1L288 1535.6Z" fill="#666666" stroke="#666666" stroke-width="0.8"/><path d="M487.8 1535.6h296.8" stroke="#666666" stroke-width="1.15"/><path d="M813.3 1535.6h296.8" stroke="#666666" stroke-width="1.15"/><path d="M914.8 1535.6L919.3 1532.6L924.3 1530.9L936.3 1530.9L938.3 1533.6L949.3 1533.6L951.5 1534.6L952.3 1535.6Z" fill="#666666" stroke="#666666" stroke-width="0.8"/><path d="M1139.3 1535.6h296.8" stroke="#666666" stroke-width="1.15"/><path d="M1236.8 1535.6L1236.8 1534.7L1238.5 1534.7L1238.5 1532.7L1240.2 1532.7L1240.2 1530.5L1241.9 1530.5L1241.9 1529.7L1243.6 1529.7L1243.6 1527.4L1245.3 1527.4L1245.3 1525.3L1247 1525.3L1247 1523.8L1248.7 1523.8L1248.7 1522.6L1250.4 1522.6L1250.4 1520.3L1252.1 1520.3L1252.1 1519.6L1253.8 1519.6L1253.8 1518.9L1255.5 1518.9L1255.5 1516.5L1257.2 1516.5L1257.2 1516.2L1258.9 1516.2L1258.9 1513.6L1260.6 1513.6L1260.6 1513L1262.3 1513L1262.3 1511.5L1264 1511.5L1264 1509.9L1265.7 1509.9L1265.7 1509.2L1267.4 1509.2L1267.4 1509.2L1269.1 1509.2L1269.1 1510.3L1270.8 1510.3L1270.8 1510L1272.5 1510L1272.5 1511.1L1274.2 1511.1L1274.2 1512.3L1275.9 1512.3L1275.9 1512.1L1277.6 1512.1L1277.6 1512.8L1279.3 1512.8L1279.3 1513.3L1281 1513.3L1281 1515.1L1282.7 1515.1L1282.7 1515.5L1284.4 1515.5L1284.4 1516.3L1286.1 1516.3L1286.1 1517.7L1287.8 1517.7L1287.8 1518.9L1289.5 1518.9L1289.5 1521.3L1291.2 1521.3L1291.2 1521.7L1292.9 1521.7L1292.9 1521.8L1294.6 1521.8L1294.6 1521.2L1296.3 1521.2L1296.3 1522.5L1298 1522.5L1298 1522.4L1299.7 1522.4L1299.7 1522.4L1301.4 1522.4L1301.4 1522.3L1303.1 1522.3L1303.1 1523.7L1304.8 1523.7L1304.8 1524.2L1306.5 1524.2L1306.5 1525.8L1308.2 1525.8L1308.2 1526.5L1309.9 1526.5L1309.9 1527.7L1311.6 1527.7L1311.6 1528L1313.3 1528L1313.3 1528.5L1315 1528.5L1315 1529L1316.7 1529L1316.7 1528.7L1318.4 1528.7L1318.4 1529.2L1320.1 1529.2L1320.1 1529.6L1321.8 1529.6L1321.8 1530L1323.5 1530L1323.5 1530.5L1325.2 1530.5L1325.2 1531.4L1326.9 1531.4L1326.9 1531.9L1328.6 1531.9L1328.6 1532.4L1330.3 1532.4L1330.3 1533L1332 1533L1332 1533.7L1333.7 1533.7L1333.7 1534L1335.4 1534L1335.4 1534.1L1337.1 1534.1L1337.1 1534.3L1338.8 1534.3L1338.8 1534.4L1340.5 1534.4L1340.5 1534.6L1342.2 1534.6L1342.2 1534.7L1343.9 1534.7L1343.9 1534.9L1345.6 1534.9L1345.6 1535L1347.3 1535L1347.3 1535.2L1349 1535.2L1349 1535.3L1350.7 1535.3L1350.7 1535.4L1352.4 1535.4L1352.4 1535.6L1354.1 1535.6L1353.4 1535.6Z" fill="#666666" stroke="#666666" stroke-width="0.8"/><path d="M1464.5 1535.6h296.8" stroke="#666666" stroke-width="1.15"/><path d="M1575 1535.6L1576 1534.1L1587.2 1534.1L1588 1535.6Z" fill="#666666" stroke="#666666" stroke-width="0.8"/><path d="M162 1605.6h296.8" stroke="#000000" stroke-width="1.15"/><path d="M264.3 1605.6L268 1603.6L275.4 1601L293.8 1601L294.5 1602.6L299.3 1602.6L300 1604.1L314.1 1604.1L315 1605.6Z" fill="#000000" stroke="#000000" stroke-width="0.8"/><path d="M487.8 1605.6h296.8" stroke="#000000" stroke-width="1.15"/><path d="M813.3 1605.6h296.8" stroke="#000000" stroke-width="1.15"/><path d="M916.5 1605.6L919.3 1602.6L922.5 1600.8L934.6 1600.8L935.3 1602.8L949.3 1602.8L950.3 1604.1L965.7 1604.1L966.3 1605.6Z" fill="#000000" stroke="#000000" stroke-width="0.8"/><path d="M1139.3 1605.6h296.8" stroke="#000000" stroke-width="1.15"/><path d="M1236.8 1605.6L1236.8 1604.4L1238.5 1604.4L1238.5 1602.1L1240.2 1602.1L1240.2 1600.2L1241.9 1600.2L1241.9 1597L1243.6 1597L1243.6 1594.9L1245.3 1594.9L1245.3 1592.6L1247 1592.6L1247 1590.4L1248.7 1590.4L1248.7 1588.4L1250.4 1588.4L1250.4 1587.8L1252.1 1587.8L1252.1 1587.2L1253.8 1587.2L1253.8 1586.2L1255.5 1586.2L1255.5 1585.3L1257.2 1585.3L1257.2 1584.5L1258.9 1584.5L1258.9 1583.9L1260.6 1583.9L1260.6 1582.5L1262.3 1582.5L1262.3 1583.4L1264 1583.4L1264 1582.5L1265.7 1582.5L1265.7 1583.2L1267.4 1583.2L1267.4 1582.6L1269.1 1582.6L1269.1 1582.2L1270.8 1582.2L1270.8 1582.9L1272.5 1582.9L1272.5 1584.4L1274.2 1584.4L1274.2 1585.2L1275.9 1585.2L1275.9 1586.2L1277.6 1586.2L1277.6 1587L1279.3 1587L1279.3 1586.7L1281 1586.7L1281 1586.5L1282.7 1586.5L1282.7 1586.9L1284.4 1586.9L1284.4 1586.8L1286.1 1586.8L1286.1 1586.7L1287.8 1586.7L1287.8 1586.8L1289.5 1586.8L1289.5 1587.5L1291.2 1587.5L1291.2 1588.3L1292.9 1588.3L1292.9 1589.3L1294.6 1589.3L1294.6 1589.9L1296.3 1589.9L1296.3 1590.7L1298 1590.7L1298 1591.4L1299.7 1591.4L1299.7 1592.1L1301.4 1592.1L1301.4 1593.4L1303.1 1593.4L1303.1 1593.7L1304.8 1593.7L1304.8 1594.3L1306.5 1594.3L1306.5 1595.4L1308.2 1595.4L1308.2 1595.8L1309.9 1595.8L1309.9 1596.5L1311.6 1596.5L1311.6 1597.4L1313.3 1597.4L1313.3 1597.4L1315 1597.4L1315 1599.1L1316.7 1599.1L1316.7 1599L1318.4 1599L1318.4 1599.9L1320.1 1599.9L1320.1 1599.8L1321.8 1599.8L1321.8 1599.9L1323.5 1599.9L1323.5 1601.5L1325.2 1601.5L1325.2 1601.5L1326.9 1601.5L1326.9 1601.9L1328.6 1601.9L1328.6 1602.6L1330.3 1602.6L1330.3 1602.8L1332 1602.8L1332 1603.2L1333.7 1603.2L1333.7 1603.5L1335.4 1603.5L1335.4 1603.8L1337.1 1603.8L1337.1 1604.1L1338.8 1604.1L1338.8 1604.4L1340.5 1604.4L1340.5 1604.7L1342.2 1604.7L1342.2 1605L1343.9 1605L1343.9 1605.3L1345.6 1605.3L1345.6 1605.6L1347.3 1605.6L1346.5 1605.6Z" fill="#000000" stroke="#000000" stroke-width="0.8"/><path d="M1464.5 1605.6h296.8" stroke="#000000" stroke-width="1.15"/><path d="M1579.4 1605.6L1580 1603.8L1585.5 1603.8L1586 1605.6Z" fill="#000000" stroke="#000000" stroke-width="0.8"/><path d="M162 1675.6h296.8" stroke="#ffff00" stroke-width="1.15"/><path d="M487.8 1675.6h296.8" stroke="#ffff00" stroke-width="1.15"/><path d="M813.3 1675.6h296.8" stroke="#ffff00" stroke-width="1.15"/><path d="M913.9 1675.6L919.3 1672.1L924.3 1669.8L929.4 1669.2L935.3 1670.1L941.3 1672.1L948.4 1673.1L963.3 1674.1L983 1674.6L983.8 1675.6Z" fill="#ffff00" stroke="#ffff00" stroke-width="0.8"/><path d="M1139.3 1675.6h296.8" stroke="#ffff00" stroke-width="1.15"/><path d="M1236.8 1675.6L1236.8 1674.1L1238.5 1674.1L1238.5 1671.5L1240.2 1671.5L1240.2 1667.9L1241.9 1667.9L1241.9 1665L1243.6 1665L1243.6 1662.1L1245.3 1662.1L1245.3 1660.3L1247 1660.3L1247 1659.2L1248.7 1659.2L1248.7 1658.9L1250.4 1658.9L1250.4 1657.9L1252.1 1657.9L1252.1 1657.5L1253.8 1657.5L1253.8 1657.5L1255.5 1657.5L1255.5 1655.6L1257.2 1655.6L1257.2 1654L1258.9 1654L1258.9 1652.3L1260.6 1652.3L1260.6 1651.5L1262.3 1651.5L1262.3 1649.6L1264 1649.6L1264 1649.9L1265.7 1649.9L1265.7 1651.4L1267.4 1651.4L1267.4 1652.3L1269.1 1652.3L1269.1 1653.3L1270.8 1653.3L1270.8 1655.7L1272.5 1655.7L1272.5 1656.5L1274.2 1656.5L1274.2 1655.9L1275.9 1655.9L1275.9 1656.1L1277.6 1656.1L1277.6 1656.9L1279.3 1656.9L1279.3 1657.4L1281 1657.4L1281 1658.4L1282.7 1658.4L1282.7 1658.9L1284.4 1658.9L1284.4 1658.5L1286.1 1658.5L1286.1 1659.3L1287.8 1659.3L1287.8 1659.8L1289.5 1659.8L1289.5 1659.7L1291.2 1659.7L1291.2 1658.6L1292.9 1658.6L1292.9 1660.5L1294.6 1660.5L1294.6 1663.1L1296.3 1663.1L1296.3 1664.8L1298 1664.8L1298 1664.8L1299.7 1664.8L1299.7 1665.3L1301.4 1665.3L1301.4 1664.9L1303.1 1664.9L1303.1 1665.5L1304.8 1665.5L1304.8 1665.9L1306.5 1665.9L1306.5 1665.4L1308.2 1665.4L1308.2 1666.2L1309.9 1666.2L1309.9 1666.1L1311.6 1666.1L1311.6 1666.4L1313.3 1666.4L1313.3 1666.8L1315 1666.8L1315 1667L1316.7 1667L1316.7 1667.6L1318.4 1667.6L1318.4 1668.2L1320.1 1668.2L1320.1 1668.6L1321.8 1668.6L1321.8 1668.2L1323.5 1668.2L1323.5 1667.6L1325.2 1667.6L1325.2 1667L1326.9 1667L1326.9 1666.6L1328.6 1666.6L1328.6 1666.8L1330.3 1666.8L1330.3 1667.8L1332 1667.8L1332 1668.8L1333.7 1668.8L1333.7 1669.7L1335.4 1669.7L1335.4 1670.8L1337.1 1670.8L1337.1 1671.3L1338.8 1671.3L1338.8 1671.7L1340.5 1671.7L1340.5 1671.9L1342.2 1671.9L1342.2 1672.3L1343.9 1672.3L1343.9 1672.6L1345.6 1672.6L1345.6 1672.7L1347.3 1672.7L1347.3 1673.1L1349 1673.1L1349 1673.3L1350.7 1673.3L1350.7 1673.6L1352.4 1673.6L1352.4 1673.8L1354.1 1673.8L1354.1 1674.1L1355.8 1674.1L1355.8 1674.4L1357.5 1674.4L1357.5 1674.6L1359.2 1674.6L1359.2 1674.9L1360.9 1674.9L1360.9 1675.2L1362.6 1675.2L1362.6 1675.4L1364.3 1675.4L1364.3 1675.6L1366 1675.6L1364.6 1675.6Z" fill="#ffff00" stroke="#ffff00" stroke-width="0.8"/><path d="M1464.5 1675.6h296.8" stroke="#ffff00" stroke-width="1.15"/><path d="M162 1745.6h296.8" stroke="#009393" stroke-width="1.15"/><path d="M267.1 1745.6L272 1742.1L278 1739.1L282.7 1737.7L287.3 1737.7L291 1739.6L295.6 1740.6L302 1742.1L308.5 1743.6L325 1744.6L326 1745.6Z" fill="#009393" stroke="#009393" stroke-width="0.8"/><path d="M487.8 1745.6h296.8" stroke="#009393" stroke-width="1.15"/><path d="M813.3 1745.6h296.8" stroke="#009393" stroke-width="1.15"/><path d="M913.9 1745.6L919.3 1742.1L925.3 1740.1L931.3 1739L939.8 1739L945.3 1741.6L950.3 1743.6L974.4 1744.1L975.3 1745.6Z" fill="#009393" stroke="#009393" stroke-width="0.8"/><path d="M1139.3 1745.6h296.8" stroke="#009393" stroke-width="1.15"/><path d="M1235.9 1745.6L1235.9 1744.8L1237.6 1744.8L1237.6 1742.9L1239.3 1742.9L1239.3 1741.2L1241 1741.2L1241 1739.6L1242.7 1739.6L1242.7 1737.6L1244.4 1737.6L1244.4 1736.4L1246.1 1736.4L1246.1 1734.5L1247.8 1734.5L1247.8 1732.8L1249.5 1732.8L1249.5 1731L1251.2 1731L1251.2 1728.3L1252.9 1728.3L1252.9 1726.3L1254.6 1726.3L1254.6 1726.2L1256.3 1726.2L1256.3 1725.4L1258 1725.4L1258 1724.6L1259.7 1724.6L1259.7 1724.3L1261.4 1724.3L1261.4 1723.6L1263.1 1723.6L1263.1 1724.1L1264.8 1724.1L1264.8 1723.3L1266.5 1723.3L1266.5 1722.3L1268.2 1722.3L1268.2 1721.1L1269.9 1721.1L1269.9 1720.9L1271.6 1720.9L1271.6 1720.6L1273.3 1720.6L1273.3 1719.6L1275 1719.6L1275 1718.9L1276.7 1718.9L1276.7 1718.2L1278.4 1718.2L1278.4 1716.5L1280.1 1716.5L1280.1 1718.8L1281.8 1718.8L1281.8 1719.8L1283.5 1719.8L1283.5 1720.2L1285.2 1720.2L1285.2 1721.9L1286.9 1721.9L1286.9 1723.6L1288.6 1723.6L1288.6 1725.2L1290.3 1725.2L1290.3 1726L1292 1726L1292 1726.7L1293.7 1726.7L1293.7 1728.3L1295.4 1728.3L1295.4 1729.1L1297.1 1729.1L1297.1 1730.4L1298.8 1730.4L1298.8 1731.1L1300.5 1731.1L1300.5 1732.2L1302.2 1732.2L1302.2 1732.8L1303.9 1732.8L1303.9 1733.4L1305.6 1733.4L1305.6 1735L1307.3 1735L1307.3 1735L1309 1735L1309 1735.3L1310.7 1735.3L1310.7 1736L1312.4 1736L1312.4 1736.3L1314.1 1736.3L1314.1 1736.4L1315.8 1736.4L1315.8 1736.5L1317.5 1736.5L1317.5 1737.3L1319.2 1737.3L1319.2 1737.8L1320.9 1737.8L1320.9 1738.7L1322.6 1738.7L1322.6 1738.3L1324.3 1738.3L1324.3 1739.2L1326 1739.2L1326 1739.6L1327.7 1739.6L1327.7 1740.3L1329.4 1740.3L1329.4 1740.5L1331.1 1740.5L1331.1 1741.2L1332.8 1741.2L1332.8 1741.5L1334.5 1741.5L1334.5 1741.9L1336.2 1741.9L1336.2 1742.5L1337.9 1742.5L1337.9 1743L1339.6 1743L1339.6 1743.5L1341.3 1743.5L1341.3 1744L1343 1744L1343 1744.5L1344.7 1744.5L1344.7 1745L1346.4 1745L1346.4 1745.6L1348.1 1745.6L1347.4 1745.6Z" fill="#009393" stroke="#009393" stroke-width="0.8"/><path d="M1464.5 1745.6h296.8" stroke="#009393" stroke-width="1.15"/><path d="M1568.4 1745.6L1570.5 1744.1L1575.5 1743.6L1578.5 1742.8L1586.5 1742.8L1589.5 1744.1L1598.5 1744.4L1599.5 1745.6Z" fill="#009393" stroke="#009393" stroke-width="0.8"/><path d="M162 1815.6h296.8" stroke="#9900cc" stroke-width="1.15"/><path d="M260.2 1815.6L260.2 1814.9L261.9 1814.9L261.9 1813.6L263.6 1813.6L263.6 1812.1L265.3 1812.1L265.3 1809.4L267 1809.4L267 1807.7L268.7 1807.7L268.7 1805.2L270.4 1805.2L270.4 1801.9L272.1 1801.9L272.1 1799.4L273.8 1799.4L273.8 1796.9L275.5 1796.9L275.5 1794.1L277.2 1794.1L277.2 1791.9L278.9 1791.9L278.9 1791.3L280.6 1791.3L280.6 1789.6L282.3 1789.6L282.3 1788L284 1788L284 1787.7L285.7 1787.7L285.7 1787.5L287.4 1787.5L287.4 1786.7L289.1 1786.7L289.1 1786.2L290.8 1786.2L290.8 1785.7L292.5 1785.7L292.5 1785.2L294.2 1785.2L294.2 1786.6L295.9 1786.6L295.9 1788.7L297.6 1788.7L297.6 1787.5L299.3 1787.5L299.3 1786.9L301 1786.9L301 1785.1L302.7 1785.1L302.7 1784.7L304.4 1784.7L304.4 1783.7L306.1 1783.7L306.1 1783L307.8 1783L307.8 1785L309.5 1785L309.5 1785.4L311.2 1785.4L311.2 1785.9L312.9 1785.9L312.9 1787.1L314.6 1787.1L314.6 1787.7L316.3 1787.7L316.3 1788.1L318 1788.1L318 1790.2L319.7 1790.2L319.7 1790.8L321.4 1790.8L321.4 1789.2L323.1 1789.2L323.1 1786.8L324.8 1786.8L324.8 1787.3L326.5 1787.3L326.5 1786.9L328.2 1786.9L328.2 1786.5L329.9 1786.5L329.9 1786.8L331.6 1786.8L331.6 1787.2L333.3 1787.2L333.3 1788.3L335 1788.3L335 1791.1L336.7 1791.1L336.7 1793.6L338.4 1793.6L338.4 1794.3L340.1 1794.3L340.1 1795.4L341.8 1795.4L341.8 1797L343.5 1797L343.5 1797.6L345.2 1797.6L345.2 1798.5L346.9 1798.5L346.9 1799.4L348.6 1799.4L348.6 1800.4L350.3 1800.4L350.3 1801.5L352 1801.5L352 1802L353.7 1802L353.7 1803.2L355.4 1803.2L355.4 1803.2L357.1 1803.2L357.1 1804.3L358.8 1804.3L358.8 1805.7L360.5 1805.7L360.5 1805.9L362.2 1805.9L362.2 1806.8L363.9 1806.8L363.9 1808.1L365.6 1808.1L365.6 1807.8L367.3 1807.8L367.3 1808.8L369 1808.8L369 1809.1L370.7 1809.1L370.7 1810.5L372.4 1810.5L372.4 1810.7L374.1 1810.7L374.1 1811.2L375.8 1811.2L375.8 1811.8L377.5 1811.8L377.5 1812.4L379.2 1812.4L379.2 1812.8L380.9 1812.8L380.9 1813.5L382.6 1813.5L382.6 1813.9L384.3 1813.9L384.3 1814.3L386 1814.3L386 1814.6L387.7 1814.6L387.7 1815L389.4 1815L389.4 1815.3L391.1 1815.3L391.1 1815.6L392.8 1815.6L391.5 1815.6Z" fill="#9900cc" stroke="#9900cc" stroke-width="0.8"/><path d="M487.8 1815.6h296.8" stroke="#9900cc" stroke-width="1.15"/><path d="M813.3 1815.6h296.8" stroke="#9900cc" stroke-width="1.15"/><path d="M913.9 1815.6L917.3 1813.1L923.3 1809.6L934.6 1809.6L935.3 1811.3L952.7 1811.3L954.3 1813.9L970.9 1813.9L971.7 1815.6Z" fill="#9900cc" stroke="#9900cc" stroke-width="0.8"/><path d="M1139.3 1815.6h296.8" stroke="#9900cc" stroke-width="1.15"/><path d="M1236.8 1815.6L1236.8 1814.1L1238.5 1814.1L1238.5 1811.4L1240.2 1811.4L1240.2 1808.4L1241.9 1808.4L1241.9 1805.5L1243.6 1805.5L1243.6 1802.3L1245.3 1802.3L1245.3 1799.4L1247 1799.4L1247 1796.9L1248.7 1796.9L1248.7 1795.9L1250.4 1795.9L1250.4 1795L1252.1 1795L1252.1 1794.2L1253.8 1794.2L1253.8 1793.1L1255.5 1793.1L1255.5 1791.4L1257.2 1791.4L1257.2 1790.5L1258.9 1790.5L1258.9 1789.8L1260.6 1789.8L1260.6 1788.9L1262.3 1788.9L1262.3 1787.5L1264 1787.5L1264 1789.3L1265.7 1789.3L1265.7 1789.6L1267.4 1789.6L1267.4 1790.5L1269.1 1790.5L1269.1 1793.4L1270.8 1793.4L1270.8 1795.2L1272.5 1795.2L1272.5 1797.8L1274.2 1797.8L1274.2 1796.4L1275.9 1796.4L1275.9 1796.1L1277.6 1796.1L1277.6 1796.4L1279.3 1796.4L1279.3 1796L1281 1796L1281 1797.2L1282.7 1797.2L1282.7 1796.9L1284.4 1796.9L1284.4 1798.1L1286.1 1798.1L1286.1 1798.5L1287.8 1798.5L1287.8 1798.8L1289.5 1798.8L1289.5 1799.6L1291.2 1799.6L1291.2 1799.9L1292.9 1799.9L1292.9 1801.1L1294.6 1801.1L1294.6 1801.7L1296.3 1801.7L1296.3 1802.9L1298 1802.9L1298 1803.8L1299.7 1803.8L1299.7 1805.7L1301.4 1805.7L1301.4 1805.5L1303.1 1805.5L1303.1 1806.8L1304.8 1806.8L1304.8 1807.9L1306.5 1807.9L1306.5 1808L1308.2 1808L1308.2 1808.4L1309.9 1808.4L1309.9 1808.8L1311.6 1808.8L1311.6 1809.8L1313.3 1809.8L1313.3 1809.8L1315 1809.8L1315 1810.7L1316.7 1810.7L1316.7 1810.7L1318.4 1810.7L1318.4 1811.5L1320.1 1811.5L1320.1 1811.6L1321.8 1811.6L1321.8 1812.1L1323.5 1812.1L1323.5 1812.4L1325.2 1812.4L1325.2 1812.3L1326.9 1812.3L1326.9 1812.6L1328.6 1812.6L1328.6 1812.8L1330.3 1812.8L1330.3 1813.3L1332 1813.3L1332 1813.5L1333.7 1813.5L1333.7 1813.8L1335.4 1813.8L1335.4 1814.1L1337.1 1814.1L1337.1 1814.3L1338.8 1814.3L1338.8 1814.6L1340.5 1814.6L1340.5 1814.8L1342.2 1814.8L1342.2 1815.1L1343.9 1815.1L1343.9 1815.3L1345.6 1815.3L1345.6 1815.6L1347.3 1815.6L1346.5 1815.6Z" fill="#9900cc" stroke="#9900cc" stroke-width="0.8"/><path d="M1464.5 1815.6h296.8" stroke="#9900cc" stroke-width="1.15"/><path d="M1565.8 1815.6L1568.5 1813.6L1573.5 1811.2L1591.9 1811.2L1593.5 1814.1L1607.5 1814.1L1608.5 1815.6Z" fill="#9900cc" stroke="#9900cc" stroke-width="0.8"/><path d="M162 1884.6h296.8" stroke="#cc9999" stroke-width="1.15"/><path d="M487.8 1884.6h296.8" stroke="#cc9999" stroke-width="1.15"/><path d="M813.3 1884.6h296.8" stroke="#cc9999" stroke-width="1.15"/><path d="M915.6 1884.6L918.3 1882.1L922.5 1879.8L927.3 1879.4L945 1879.8L946.3 1882.9L966.6 1882.9L967.3 1884.6Z" fill="#cc9999" stroke="#cc9999" stroke-width="0.8"/><path d="M1139.3 1884.6h296.8" stroke="#cc9999" stroke-width="1.15"/><path d="M1236.8 1884.6L1236.8 1883.6L1238.5 1883.6L1238.5 1881.4L1240.2 1881.4L1240.2 1879.6L1241.9 1879.6L1241.9 1877.8L1243.6 1877.8L1243.6 1875.5L1245.3 1875.5L1245.3 1873.4L1247 1873.4L1247 1871.4L1248.7 1871.4L1248.7 1869.4L1250.4 1869.4L1250.4 1868.6L1252.1 1868.6L1252.1 1868L1253.8 1868L1253.8 1866.9L1255.5 1866.9L1255.5 1866.2L1257.2 1866.2L1257.2 1865.2L1258.9 1865.2L1258.9 1864.1L1260.6 1864.1L1260.6 1863.2L1262.3 1863.2L1262.3 1863L1264 1863L1264 1862.9L1265.7 1862.9L1265.7 1862.1L1267.4 1862.1L1267.4 1863.1L1269.1 1863.1L1269.1 1863.1L1270.8 1863.1L1270.8 1864.3L1272.5 1864.3L1272.5 1862.5L1274.2 1862.5L1274.2 1861.1L1275.9 1861.1L1275.9 1860.4L1277.6 1860.4L1277.6 1859L1279.3 1859L1279.3 1858.8L1281 1858.8L1281 1858.9L1282.7 1858.9L1282.7 1859L1284.4 1859L1284.4 1860.5L1286.1 1860.5L1286.1 1861.1L1287.8 1861.1L1287.8 1861.9L1289.5 1861.9L1289.5 1863.5L1291.2 1863.5L1291.2 1865.5L1292.9 1865.5L1292.9 1867.1L1294.6 1867.1L1294.6 1867.3L1296.3 1867.3L1296.3 1868.4L1298 1868.4L1298 1869.5L1299.7 1869.5L1299.7 1870.9L1301.4 1870.9L1301.4 1872.6L1303.1 1872.6L1303.1 1874.6L1304.8 1874.6L1304.8 1875.3L1306.5 1875.3L1306.5 1875.6L1308.2 1875.6L1308.2 1875L1309.9 1875L1309.9 1875L1311.6 1875L1311.6 1875.1L1313.3 1875.1L1313.3 1874.9L1315 1874.9L1315 1875.3L1316.7 1875.3L1316.7 1875.9L1318.4 1875.9L1318.4 1877L1320.1 1877L1320.1 1877.8L1321.8 1877.8L1321.8 1878.6L1323.5 1878.6L1323.5 1880L1325.2 1880L1325.2 1880.1L1326.9 1880.1L1326.9 1880.6L1328.6 1880.6L1328.6 1881L1330.3 1881L1330.3 1881.4L1332 1881.4L1332 1881.6L1333.7 1881.6L1333.7 1882.1L1335.4 1882.1L1335.4 1882.5L1337.1 1882.5L1337.1 1882.8L1338.8 1882.8L1338.8 1883.1L1340.5 1883.1L1340.5 1883.4L1342.2 1883.4L1342.2 1883.8L1343.9 1883.8L1343.9 1884.1L1345.6 1884.1L1345.6 1884.4L1347.3 1884.4L1347.3 1884.6L1349 1884.6L1347.4 1884.6Z" fill="#cc9999" stroke="#cc9999" stroke-width="0.8"/><path d="M1464.5 1884.6h296.8" stroke="#cc9999" stroke-width="1.15"/><path d="M162 1954.6h296.8" stroke="#336600" stroke-width="1.15"/><path d="M487.8 1954.6h296.8" stroke="#336600" stroke-width="1.15"/><path d="M813.3 1954.6h296.8" stroke="#336600" stroke-width="1.15"/><path d="M916.5 1954.6L919.1 1951.6L939.8 1951.6L940.3 1953.1L965.7 1953.1L966.3 1954.6Z" fill="#336600" stroke="#336600" stroke-width="0.8"/><path d="M1139.3 1954.6h296.8" stroke="#336600" stroke-width="1.15"/><path d="M1237.7 1954.6L1237.7 1953.9L1239.4 1953.9L1239.4 1952.4L1241.1 1952.4L1241.1 1951L1242.8 1951L1242.8 1949.6L1244.5 1949.6L1244.5 1948.4L1246.2 1948.4L1246.2 1946.6L1247.9 1946.6L1247.9 1944.9L1249.6 1944.9L1249.6 1943.7L1251.3 1943.7L1251.3 1942.5L1253 1942.5L1253 1941.6L1254.7 1941.6L1254.7 1940.4L1256.4 1940.4L1256.4 1939.8L1258.1 1939.8L1258.1 1937.8L1259.8 1937.8L1259.8 1937.2L1261.5 1937.2L1261.5 1937L1263.2 1937L1263.2 1936.7L1264.9 1936.7L1264.9 1936.5L1266.6 1936.5L1266.6 1935.6L1268.3 1935.6L1268.3 1935.2L1270 1935.2L1270 1935.7L1271.7 1935.7L1271.7 1934.2L1273.4 1934.2L1273.4 1933.7L1275.1 1933.7L1275.1 1933.7L1276.8 1933.7L1276.8 1934.8L1278.5 1934.8L1278.5 1935.8L1280.2 1935.8L1280.2 1937L1281.9 1937L1281.9 1937.2L1283.6 1937.2L1283.6 1937.5L1285.3 1937.5L1285.3 1938.2L1287 1938.2L1287 1937.4L1288.7 1937.4L1288.7 1938.2L1290.4 1938.2L1290.4 1937.3L1292.1 1937.3L1292.1 1938.8L1293.8 1938.8L1293.8 1940L1295.5 1940L1295.5 1941.4L1297.2 1941.4L1297.2 1942.6L1298.9 1942.6L1298.9 1943.5L1300.6 1943.5L1300.6 1944.5L1302.3 1944.5L1302.3 1944.8L1304 1944.8L1304 1945.2L1305.7 1945.2L1305.7 1946L1307.4 1946L1307.4 1946L1309.1 1946L1309.1 1946.3L1310.8 1946.3L1310.8 1946.7L1312.5 1946.7L1312.5 1946.5L1314.2 1946.5L1314.2 1947.1L1315.9 1947.1L1315.9 1947.4L1317.6 1947.4L1317.6 1947.8L1319.3 1947.8L1319.3 1948.3L1321 1948.3L1321 1948L1322.7 1948L1322.7 1948.3L1324.4 1948.3L1324.4 1949L1326.1 1949L1326.1 1949.7L1327.8 1949.7L1327.8 1950.5L1329.5 1950.5L1329.5 1950.4L1331.2 1950.4L1331.2 1950.7L1332.9 1950.7L1332.9 1951.3L1334.6 1951.3L1334.6 1951.7L1336.3 1951.7L1336.3 1952.3L1338 1952.3L1338 1952.8L1339.7 1952.8L1339.7 1953.2L1341.4 1953.2L1341.4 1953.4L1343.1 1953.4L1343.1 1953.6L1344.8 1953.6L1344.8 1953.7L1346.5 1953.7L1346.5 1953.9L1348.2 1953.9L1348.2 1954.1L1349.9 1954.1L1349.9 1954.2L1351.6 1954.2L1351.6 1954.4L1353.3 1954.4L1353.3 1954.6L1355 1954.6L1354.3 1954.6Z" fill="#336600" stroke="#336600" stroke-width="0.8"/><path d="M1464.5 1954.6h296.8" stroke="#336600" stroke-width="1.15"/><path d="M162 2024.6h296.8" stroke="#66ff33" stroke-width="1.15"/><path d="M487.8 2024.6h296.8" stroke="#66ff33" stroke-width="1.15"/><path d="M813.3 2024.6h296.8" stroke="#66ff33" stroke-width="1.15"/><path d="M913.9 2024.6L917.3 2023.1L922.5 2021.6L941.5 2021.6L943.3 2023.1L963.3 2023.1L964.3 2024.6Z" fill="#66ff33" stroke="#66ff33" stroke-width="0.8"/><path d="M1139.3 2024.6h296.8" stroke="#66ff33" stroke-width="1.15"/><path d="M1235 2024.6L1235 2023.6L1236.7 2023.6L1236.7 2021.3L1238.4 2021.3L1238.4 2019.2L1240.1 2019.2L1240.1 2017.5L1241.8 2017.5L1241.8 2015L1243.5 2015L1243.5 2013L1245.2 2013L1245.2 2011.7L1246.9 2011.7L1246.9 2009.3L1248.6 2009.3L1248.6 2007.7L1250.3 2007.7L1250.3 2005.2L1252 2005.2L1252 2002.9L1253.7 2002.9L1253.7 2002.1L1255.4 2002.1L1255.4 2002.6L1257.1 2002.6L1257.1 2001.3L1258.8 2001.3L1258.8 2001.8L1260.5 2001.8L1260.5 2001.4L1262.2 2001.4L1262.2 2002.7L1263.9 2002.7L1263.9 2001.8L1265.6 2001.8L1265.6 2001.5L1267.3 2001.5L1267.3 2001.6L1269 2001.6L1269 2002.3L1270.7 2002.3L1270.7 2001.9L1272.4 2001.9L1272.4 2001.9L1274.1 2001.9L1274.1 2001.2L1275.8 2001.2L1275.8 2001.9L1277.5 2001.9L1277.5 2003L1279.2 2003L1279.2 2004.3L1280.9 2004.3L1280.9 2004.1L1282.6 2004.1L1282.6 2005.3L1284.3 2005.3L1284.3 2006.4L1286 2006.4L1286 2008.1L1287.7 2008.1L1287.7 2009.1L1289.4 2009.1L1289.4 2010.8L1291.1 2010.8L1291.1 2012.8L1292.8 2012.8L1292.8 2013.2L1294.5 2013.2L1294.5 2013.3L1296.2 2013.3L1296.2 2014.5L1297.9 2014.5L1297.9 2014.8L1299.6 2014.8L1299.6 2015.1L1301.3 2015.1L1301.3 2015.7L1303 2015.7L1303 2016.4L1304.7 2016.4L1304.7 2017.4L1306.4 2017.4L1306.4 2017.8L1308.1 2017.8L1308.1 2017.8L1309.8 2017.8L1309.8 2018.2L1311.5 2018.2L1311.5 2018.1L1313.2 2018.1L1313.2 2019.2L1314.9 2019.2L1314.9 2019.1L1316.6 2019.1L1316.6 2019.6L1318.3 2019.6L1318.3 2020.4L1320 2020.4L1320 2020.6L1321.7 2020.6L1321.7 2020.7L1323.4 2020.7L1323.4 2021.1L1325.1 2021.1L1325.1 2021.3L1326.8 2021.3L1326.8 2021.5L1328.5 2021.5L1328.5 2021.9L1330.2 2021.9L1330.2 2022L1331.9 2022L1331.9 2022.3L1333.6 2022.3L1333.6 2022.6L1335.3 2022.6L1335.3 2022.9L1337 2022.9L1337 2023.1L1338.7 2023.1L1338.7 2023.4L1340.4 2023.4L1340.4 2023.7L1342.1 2023.7L1342.1 2023.9L1343.8 2023.9L1343.8 2024.2L1345.5 2024.2L1345.5 2024.4L1347.2 2024.4L1347.2 2024.6L1348.9 2024.6L1347.4 2024.6Z" fill="#66ff33" stroke="#66ff33" stroke-width="0.8"/><path d="M1464.5 2024.6h296.8" stroke="#66ff33" stroke-width="1.15"/><path d="M162 2094.6h296.8" stroke="#ff9933" stroke-width="1.15"/><path d="M265 2094.6L268 2092.1L272 2090.4L292 2090L299.5 2090.6L300.5 2093.1L324 2093.1L325 2094.6Z" fill="#ff9933" stroke="#ff9933" stroke-width="0.8"/><path d="M487.8 2094.6h296.8" stroke="#ff9933" stroke-width="1.15"/><path d="M813.3 2094.6h296.8" stroke="#ff9933" stroke-width="1.15"/><path d="M913 2094.6L917.3 2091.1L922.5 2087.6L933.3 2087.3L938 2088.1L939.3 2090.3L956.9 2090.3L958.3 2093.1L989.7 2093.1L990.3 2094.6Z" fill="#ff9933" stroke="#ff9933" stroke-width="0.8"/><path d="M1139.3 2094.6h296.8" stroke="#ff9933" stroke-width="1.15"/><path d="M1237.7 2094.6L1237.7 2093.1L1239.4 2093.1L1239.4 2090.2L1241.1 2090.2L1241.1 2087.1L1242.8 2087.1L1242.8 2083.8L1244.5 2083.8L1244.5 2081.1L1246.2 2081.1L1246.2 2077.8L1247.9 2077.8L1247.9 2076.7L1249.6 2076.7L1249.6 2076.8L1251.3 2076.8L1251.3 2076.4L1253 2076.4L1253 2075.5L1254.7 2075.5L1254.7 2075.5L1256.4 2075.5L1256.4 2074.4L1258.1 2074.4L1258.1 2074.8L1259.8 2074.8L1259.8 2073.6L1261.5 2073.6L1261.5 2073.5L1263.2 2073.5L1263.2 2073.1L1264.9 2073.1L1264.9 2072.3L1266.6 2072.3L1266.6 2073.9L1268.3 2073.9L1268.3 2073.3L1270 2073.3L1270 2074.3L1271.7 2074.3L1271.7 2074.5L1273.4 2074.5L1273.4 2074.6L1275.1 2074.6L1275.1 2072.3L1276.8 2072.3L1276.8 2070.7L1278.5 2070.7L1278.5 2072.5L1280.2 2072.5L1280.2 2074.7L1281.9 2074.7L1281.9 2076L1283.6 2076L1283.6 2077.6L1285.3 2077.6L1285.3 2077.6L1287 2077.6L1287 2077.5L1288.7 2077.5L1288.7 2076.9L1290.4 2076.9L1290.4 2077.3L1292.1 2077.3L1292.1 2078.3L1293.8 2078.3L1293.8 2078.6L1295.5 2078.6L1295.5 2080.1L1297.2 2080.1L1297.2 2080.7L1298.9 2080.7L1298.9 2081.2L1300.6 2081.2L1300.6 2082.8L1302.3 2082.8L1302.3 2083.1L1304 2083.1L1304 2083.5L1305.7 2083.5L1305.7 2084.9L1307.4 2084.9L1307.4 2085.2L1309.1 2085.2L1309.1 2085.6L1310.8 2085.6L1310.8 2086.3L1312.5 2086.3L1312.5 2086.1L1314.2 2086.1L1314.2 2087.1L1315.9 2087.1L1315.9 2086.9L1317.6 2086.9L1317.6 2087.1L1319.3 2087.1L1319.3 2088.3L1321 2088.3L1321 2088.4L1322.7 2088.4L1322.7 2089L1324.4 2089L1324.4 2088.8L1326.1 2088.8L1326.1 2089.4L1327.8 2089.4L1327.8 2089.6L1329.5 2089.6L1329.5 2089.9L1331.2 2089.9L1331.2 2090.1L1332.9 2090.1L1332.9 2090.6L1334.6 2090.6L1334.6 2090.9L1336.3 2090.9L1336.3 2091.3L1338 2091.3L1338 2091.5L1339.7 2091.5L1339.7 2092L1341.4 2092L1341.4 2092.2L1343.1 2092.2L1343.1 2092.5L1344.8 2092.5L1344.8 2092.7L1346.5 2092.7L1346.5 2092.9L1348.2 2092.9L1348.2 2093.1L1349.9 2093.1L1349.9 2093.3L1351.6 2093.3L1351.6 2093.5L1353.3 2093.5L1353.3 2093.7L1355 2093.7L1355 2094L1356.7 2094L1356.7 2094.2L1358.4 2094.2L1358.4 2094.4L1360.1 2094.4L1360.1 2094.6L1361.8 2094.6L1361.2 2094.6Z" fill="#ff9933" stroke="#ff9933" stroke-width="0.8"/><path d="M1464.5 2094.6h296.8" stroke="#ff9933" stroke-width="1.15"/><path d="M1565.9 2094.6L1569.5 2091.6L1574.5 2089.1L1577.5 2087.8L1589.5 2087.8L1592.5 2090.1L1599.5 2091.1L1614.5 2092.4L1629 2093.4L1630 2094.6Z" fill="#ff9933" stroke="#ff9933" stroke-width="0.8"/><path d="M162 2164.6h296.8" stroke="#00ccff" stroke-width="1.15"/><path d="M487.8 2164.6h296.8" stroke="#00ccff" stroke-width="1.15"/><path d="M813.3 2164.6h296.8" stroke="#00ccff" stroke-width="1.15"/><path d="M913.3 2164.6L917.3 2161.1L922.3 2159.1L934.3 2159.1L938.3 2161.1L953.3 2161.6L963.3 2163.1L969.3 2163.6L970.3 2164.6Z" fill="#00ccff" stroke="#00ccff" stroke-width="0.8"/><path d="M1139.3 2164.6h296.8" stroke="#00ccff" stroke-width="1.15"/><path d="M1235.9 2164.6L1235.9 2163.6L1237.6 2163.6L1237.6 2161.7L1239.3 2161.7L1239.3 2160.2L1241 2160.2L1241 2158L1242.7 2158L1242.7 2155.4L1244.4 2155.4L1244.4 2154L1246.1 2154L1246.1 2152.5L1247.8 2152.5L1247.8 2150.1L1249.5 2150.1L1249.5 2149.7L1251.2 2149.7L1251.2 2149.4L1252.9 2149.4L1252.9 2148.4L1254.6 2148.4L1254.6 2147.3L1256.3 2147.3L1256.3 2146.8L1258 2146.8L1258 2146.4L1259.7 2146.4L1259.7 2146.1L1261.4 2146.1L1261.4 2145.4L1263.1 2145.4L1263.1 2143.6L1264.8 2143.6L1264.8 2143.2L1266.5 2143.2L1266.5 2142.8L1268.2 2142.8L1268.2 2142.4L1269.9 2142.4L1269.9 2141.3L1271.6 2141.3L1271.6 2139.1L1273.3 2139.1L1273.3 2140.4L1275 2140.4L1275 2139.5L1276.7 2139.5L1276.7 2139.1L1278.4 2139.1L1278.4 2138.9L1280.1 2138.9L1280.1 2140.3L1281.8 2140.3L1281.8 2143.3L1283.5 2143.3L1283.5 2144.6L1285.2 2144.6L1285.2 2144L1286.9 2144L1286.9 2145.4L1288.6 2145.4L1288.6 2145.3L1290.3 2145.3L1290.3 2146.7L1292 2146.7L1292 2146.7L1293.7 2146.7L1293.7 2146.9L1295.4 2146.9L1295.4 2147.3L1297.1 2147.3L1297.1 2148.9L1298.8 2148.9L1298.8 2149.1L1300.5 2149.1L1300.5 2150.1L1302.2 2150.1L1302.2 2151.3L1303.9 2151.3L1303.9 2151.6L1305.6 2151.6L1305.6 2152.4L1307.3 2152.4L1307.3 2152.7L1309 2152.7L1309 2152.9L1310.7 2152.9L1310.7 2154.1L1312.4 2154.1L1312.4 2153.7L1314.1 2153.7L1314.1 2154.3L1315.8 2154.3L1315.8 2154.8L1317.5 2154.8L1317.5 2154.9L1319.2 2154.9L1319.2 2155L1320.9 2155L1320.9 2156.1L1322.6 2156.1L1322.6 2156.3L1324.3 2156.3L1324.3 2157.7L1326 2157.7L1326 2158.4L1327.7 2158.4L1327.7 2158.5L1329.4 2158.5L1329.4 2159.4L1331.1 2159.4L1331.1 2159.7L1332.8 2159.7L1332.8 2160.4L1334.5 2160.4L1334.5 2160.5L1336.2 2160.5L1336.2 2161L1337.9 2161L1337.9 2161.4L1339.6 2161.4L1339.6 2161.9L1341.3 2161.9L1341.3 2162.3L1343 2162.3L1343 2162.7L1344.7 2162.7L1344.7 2163.1L1346.4 2163.1L1346.4 2163.5L1348.1 2163.5L1348.1 2163.9L1349.8 2163.9L1349.8 2164.3L1351.5 2164.3L1351.5 2164.6L1353.2 2164.6L1351.7 2164.6Z" fill="#00ccff" stroke="#00ccff" stroke-width="0.8"/><path d="M1464.5 2164.6h296.8" stroke="#00ccff" stroke-width="1.15"/><path d="M1573.5 2164.6L1574.5 2163.3L1581.5 2163.3L1582.5 2164.6Z" fill="#00ccff" stroke="#00ccff" stroke-width="0.8"/><path d="M162 2233.6h296.8" stroke="#ff0000" stroke-width="1.15"/><path d="M487.8 2233.6h296.8" stroke="#ff0000" stroke-width="1.15"/><path d="M813.3 2233.6h296.8" stroke="#ff0000" stroke-width="1.15"/><path d="M1139.3 2233.6h296.8" stroke="#ff0000" stroke-width="1.15"/><path d="M1464.5 2233.6h296.8" stroke="#ff0000" stroke-width="1.15"/><path d="M162 2232V741" stroke="#000" stroke-width="1.7" fill="none"/><path d="M458.8 2232V741" stroke="#000" stroke-width="1.7" fill="none"/><rect x="161.2" y="739" width="298.5" height="4" fill="#000"/><rect x="161.2" y="2223" width="298.5" height="9" fill="#000"/><path d="M161.2 2233.7h298.5" stroke="#e06060" stroke-width="1"/><path d="M162.6 2233v10M189.5 2233v10M191.8 2233v10M194 2233v10M222.9 2233v10M294.8 2233v10M363.4 2233v10M429.5 2233v10M176.8 2233v7M209 2233v7M272.9 2233v7M342.6 2233v7M409.8 2233v7M164.9 2233v5M167.4 2233v5M170.6 2233v5M173.3 2233v5M179.9 2233v5M182.4 2233v5M186 2233v5M199.6 2233v5M202.4 2233v5M205.5 2233v5M212.4 2233v5M215.1 2233v5M218.3 2233v5M220.6 2233v5M243.7 2233v5M256.4 2233v5M266 2233v5M278.7 2233v5M283.3 2233v5M287.8 2233v5M291.4 2233v5M315.7 2233v5M327.6 2233v5M336.6 2233v5M348.2 2233v5M353.2 2233v5M356.6 2233v5M360.3 2233v5M383.4 2233v5M394.8 2233v5M402.8 2233v5M414.3 2233v5M419.4 2233v5M422.9 2233v5M426.2 2233v5M449.1 2233v5" stroke="#000" stroke-width="1.8" fill="none"/><text transform="translate(187.8 2301.5) scale(1 1.08)" font-size="26" font-weight="bold" text-anchor="middle">0</text><text transform="translate(200.9 2301.5) scale(1 1.08)" font-size="26" font-weight="bold">10<tspan dy="-19">2</tspan></text><text transform="translate(264.8 2301.5) scale(1 1.08)" font-size="26" font-weight="bold">10<tspan dy="-19">3</tspan></text><text transform="translate(325.8 2301.5) scale(1 1.08)" font-size="26" font-weight="bold">10<tspan dy="-19">4</tspan></text><text transform="translate(383.9 2301.5) scale(1 1.08)" font-size="26" font-weight="bold">10<tspan dy="-19">5</tspan></text><path d="M487.8 2232V741" stroke="#000" stroke-width="1.7" fill="none"/><path d="M784.6 2232V741" stroke="#000" stroke-width="1.7" fill="none"/><rect x="486.9" y="739" width="298.5" height="4" fill="#000"/><rect x="486.9" y="2223" width="298.5" height="9" fill="#000"/><path d="M486.9 2233.7h298.5" stroke="#e06060" stroke-width="1"/><path d="M488.4 2233v10M515.3 2233v10M517.6 2233v10M519.8 2233v10M548.7 2233v10M620.6 2233v10M689.2 2233v10M755.3 2233v10M502.6 2233v7M534.8 2233v7M598.7 2233v7M668.4 2233v7M735.6 2233v7M490.7 2233v5M493.2 2233v5M496.4 2233v5M499.1 2233v5M505.7 2233v5M508.2 2233v5M511.8 2233v5M525.4 2233v5M528.2 2233v5M531.3 2233v5M538.2 2233v5M540.9 2233v5M544.1 2233v5M546.4 2233v5M569.5 2233v5M582.2 2233v5M591.8 2233v5M604.5 2233v5M609.1 2233v5M613.6 2233v5M617.2 2233v5M641.5 2233v5M653.4 2233v5M662.4 2233v5M674 2233v5M679 2233v5M682.4 2233v5M686.1 2233v5M709.2 2233v5M720.6 2233v5M728.6 2233v5M740.1 2233v5M745.2 2233v5M748.7 2233v5M752 2233v5M774.9 2233v5" stroke="#000" stroke-width="1.8" fill="none"/><text transform="translate(513.6 2301.5) scale(1 1.08)" font-size="26" font-weight="bold" text-anchor="middle">0</text><text transform="translate(526.7 2301.5) scale(1 1.08)" font-size="26" font-weight="bold">10<tspan dy="-19">2</tspan></text><text transform="translate(590.6 2301.5) scale(1 1.08)" font-size="26" font-weight="bold">10<tspan dy="-19">3</tspan></text><text transform="translate(651.6 2301.5) scale(1 1.08)" font-size="26" font-weight="bold">10<tspan dy="-19">4</tspan></text><text transform="translate(709.7 2301.5) scale(1 1.08)" font-size="26" font-weight="bold">10<tspan dy="-19">5</tspan></text><path d="M813.3 2232V741" stroke="#000" stroke-width="1.7" fill="none"/><path d="M1110.1 2232V741" stroke="#000" stroke-width="1.7" fill="none"/><rect x="812.4" y="739" width="298.5" height="4" fill="#000"/><rect x="812.4" y="2223" width="298.5" height="9" fill="#000"/><path d="M812.4 2233.7h298.5" stroke="#e06060" stroke-width="1"/><path d="M813.9 2233v10M840.8 2233v10M843.1 2233v10M845.3 2233v10M874.2 2233v10M946.1 2233v10M1014.7 2233v10M1080.8 2233v10M828.1 2233v7M860.3 2233v7M924.2 2233v7M993.9 2233v7M1061.1 2233v7M816.2 2233v5M818.7 2233v5M821.9 2233v5M824.6 2233v5M831.2 2233v5M833.7 2233v5M837.3 2233v5M850.9 2233v5M853.7 2233v5M856.8 2233v5M863.7 2233v5M866.4 2233v5M869.6 2233v5M871.9 2233v5M895 2233v5M907.7 2233v5M917.3 2233v5M930 2233v5M934.6 2233v5M939.1 2233v5M942.7 2233v5M967 2233v5M978.9 2233v5M987.9 2233v5M999.5 2233v5M1004.5 2233v5M1007.9 2233v5M1011.6 2233v5M1034.7 2233v5M1046.1 2233v5M1054.1 2233v5M1065.6 2233v5M1070.7 2233v5M1074.2 2233v5M1077.5 2233v5M1100.4 2233v5" stroke="#000" stroke-width="1.8" fill="none"/><text transform="translate(839.1 2301.5) scale(1 1.08)" font-size="26" font-weight="bold" text-anchor="middle">0</text><text transform="translate(852.2 2301.5) scale(1 1.08)" font-size="26" font-weight="bold">10<tspan dy="-19">2</tspan></text><text transform="translate(916.1 2301.5) scale(1 1.08)" font-size="26" font-weight="bold">10<tspan dy="-19">3</tspan></text><text transform="translate(977.1 2301.5) scale(1 1.08)" font-size="26" font-weight="bold">10<tspan dy="-19">4</tspan></text><text transform="translate(1035.2 2301.5) scale(1 1.08)" font-size="26" font-weight="bold">10<tspan dy="-19">5</tspan></text><path d="M1139.3 2232V741" stroke="#000" stroke-width="1.7" fill="none"/><path d="M1436.1 2232V741" stroke="#000" stroke-width="1.7" fill="none"/><rect x="1138.5" y="739" width="298.5" height="4" fill="#000"/><rect x="1138.5" y="2223" width="298.5" height="9" fill="#000"/><path d="M1138.5 2233.7h298.5" stroke="#e06060" stroke-width="1"/><path d="M1139.9 2233v10M1166.8 2233v10M1169.1 2233v10M1171.3 2233v10M1200.2 2233v10M1272.1 2233v10M1340.7 2233v10M1406.8 2233v10M1154.1 2233v7M1186.3 2233v7M1250.2 2233v7M1319.9 2233v7M1387.1 2233v7M1142.2 2233v5M1144.7 2233v5M1147.9 2233v5M1150.6 2233v5M1157.2 2233v5M1159.7 2233v5M1163.3 2233v5M1176.9 2233v5M1179.7 2233v5M1182.8 2233v5M1189.7 2233v5M1192.4 2233v5M1195.6 2233v5M1197.9 2233v5M1221 2233v5M1233.7 2233v5M1243.3 2233v5M1256 2233v5M1260.6 2233v5M1265.1 2233v5M1268.7 2233v5M1293 2233v5M1304.9 2233v5M1313.9 2233v5M1325.5 2233v5M1330.5 2233v5M1333.9 2233v5M1337.6 2233v5M1360.7 2233v5M1372.1 2233v5M1380.1 2233v5M1391.6 2233v5M1396.7 2233v5M1400.2 2233v5M1403.5 2233v5M1426.4 2233v5" stroke="#000" stroke-width="1.8" fill="none"/><text transform="translate(1165.1 2301.5) scale(1 1.08)" font-size="26" font-weight="bold" text-anchor="middle">0</text><text transform="translate(1178.2 2301.5) scale(1 1.08)" font-size="26" font-weight="bold">10<tspan dy="-19">2</tspan></text><text transform="translate(1242.1 2301.5) scale(1 1.08)" font-size="26" font-weight="bold">10<tspan dy="-19">3</tspan></text><text transform="translate(1303.1 2301.5) scale(1 1.08)" font-size="26" font-weight="bold">10<tspan dy="-19">4</tspan></text><text transform="translate(1361.2 2301.5) scale(1 1.08)" font-size="26" font-weight="bold">10<tspan dy="-19">5</tspan></text><path d="M1464.5 2232V741" stroke="#000" stroke-width="1.7" fill="none"/><path d="M1761.3 2232V741" stroke="#000" stroke-width="1.7" fill="none"/><rect x="1463.7" y="739" width="298.5" height="4" fill="#000"/><rect x="1463.7" y="2223" width="298.5" height="9" fill="#000"/><path d="M1463.7 2233.7h298.5" stroke="#e06060" stroke-width="1"/><path d="M1465.1 2233v10M1492 2233v10M1494.3 2233v10M1496.5 2233v10M1525.4 2233v10M1597.3 2233v10M1665.9 2233v10M1732 2233v10M1479.3 2233v7M1511.5 2233v7M1575.4 2233v7M1645.1 2233v7M1712.3 2233v7M1467.4 2233v5M1469.9 2233v5M1473.1 2233v5M1475.8 2233v5M1482.4 2233v5M1484.9 2233v5M1488.5 2233v5M1502.1 2233v5M1504.9 2233v5M1508 2233v5M1514.9 2233v5M1517.6 2233v5M1520.8 2233v5M1523.1 2233v5M1546.2 2233v5M1558.9 2233v5M1568.5 2233v5M1581.2 2233v5M1585.8 2233v5M1590.3 2233v5M1593.9 2233v5M1618.2 2233v5M1630.1 2233v5M1639.1 2233v5M1650.7 2233v5M1655.7 2233v5M1659.1 2233v5M1662.8 2233v5M1685.9 2233v5M1697.3 2233v5M1705.3 2233v5M1716.8 2233v5M1721.9 2233v5M1725.4 2233v5M1728.7 2233v5M1751.6 2233v5" stroke="#000" stroke-width="1.8" fill="none"/><text transform="translate(1490.3 2301.5) scale(1 1.08)" font-size="26" font-weight="bold" text-anchor="middle">0</text><text transform="translate(1503.4 2301.5) scale(1 1.08)" font-size="26" font-weight="bold">10<tspan dy="-19">2</tspan></text><text transform="translate(1567.3 2301.5) scale(1 1.08)" font-size="26" font-weight="bold">10<tspan dy="-19">3</tspan></text><text transform="translate(1628.3 2301.5) scale(1 1.08)" font-size="26" font-weight="bold">10<tspan dy="-19">4</tspan></text><text transform="translate(1686.4 2301.5) scale(1 1.08)" font-size="26" font-weight="bold">10<tspan dy="-19">5</tspan></text><text transform="translate(136.3 814.2) scale(1 1.1)" font-size="28" font-weight="bold" text-anchor="end">50</text><text transform="translate(136.3 848.8) scale(1 1.1)" font-size="28" font-weight="bold" text-anchor="end">0</text><text transform="translate(136.3 884) scale(1 1.1)" font-size="28" font-weight="bold" text-anchor="end">50</text><text transform="translate(136.3 918.6) scale(1 1.1)" font-size="28" font-weight="bold" text-anchor="end">0</text><text transform="translate(136.3 953.8) scale(1 1.1)" font-size="28" font-weight="bold" text-anchor="end">50</text><text transform="translate(136.3 988.4) scale(1 1.1)" font-size="28" font-weight="bold" text-anchor="end">0</text><text transform="translate(136.3 1023.6) scale(1 1.1)" font-size="28" font-weight="bold" text-anchor="end">50</text><text transform="translate(136.3 1058.2) scale(1 1.1)" font-size="28" font-weight="bold" text-anchor="end">0</text><text transform="translate(136.3 1093.4) scale(1 1.1)" font-size="28" font-weight="bold" text-anchor="end">50</text><text transform="translate(136.3 1128) scale(1 1.1)" font-size="28" font-weight="bold" text-anchor="end">0</text><text transform="translate(136.3 1163.2) scale(1 1.1)" font-size="28" font-weight="bold" text-anchor="end">50</text><text transform="translate(136.3 1197.8) scale(1 1.1)" font-size="28" font-weight="bold" text-anchor="end">0</text><text transform="translate(136.3 1233) scale(1 1.1)" font-size="28" font-weight="bold" text-anchor="end">50</text><text transform="translate(136.3 1267.6) scale(1 1.1)" font-size="28" font-weight="bold" text-anchor="end">0</text><text transform="translate(136.3 1302.8) scale(1 1.1)" font-size="28" font-weight="bold" text-anchor="end">50</text><text transform="translate(136.3 1337.4) scale(1 1.1)" font-size="28" font-weight="bold" text-anchor="end">0</text><text transform="translate(136.3 1372.6) scale(1 1.1)" font-size="28" font-weight="bold" text-anchor="end">50</text><text transform="translate(136.3 1407.2) scale(1 1.1)" font-size="28" font-weight="bold" text-anchor="end">0</text><text transform="translate(136.3 1442.4) scale(1 1.1)" font-size="28" font-weight="bold" text-anchor="end">50</text><text transform="translate(136.3 1477) scale(1 1.1)" font-size="28" font-weight="bold" text-anchor="end">0</text><text transform="translate(136.3 1512.2) scale(1 1.1)" font-size="28" font-weight="bold" text-anchor="end">50</text><text transform="translate(136.3 1546.8) scale(1 1.1)" font-size="28" font-weight="bold" text-anchor="end">0</text><text transform="translate(136.3 1582) scale(1 1.1)" font-size="28" font-weight="bold" text-anchor="end">50</text><text transform="translate(136.3 1616.6) scale(1 1.1)" font-size="28" font-weight="bold" text-anchor="end">0</text><text transform="translate(136.3 1651.8) scale(1 1.1)" font-size="28" font-weight="bold" text-anchor="end">50</text><text transform="translate(136.3 1686.4) scale(1 1.1)" font-size="28" font-weight="bold" text-anchor="end">0</text><text transform="translate(136.3 1721.6) scale(1 1.1)" font-size="28" font-weight="bold" text-anchor="end">50</text><text transform="translate(136.3 1756.2) scale(1 1.1)" font-size="28" font-weight="bold" text-anchor="end">0</text><text transform="translate(136.3 1791.4) scale(1 1.1)" font-size="28" font-weight="bold" text-anchor="end">50</text><text transform="translate(136.3 1826) scale(1 1.1)" font-size="28" font-weight="bold" text-anchor="end">0</text><text transform="translate(136.3 1861.2) scale(1 1.1)" font-size="28" font-weight="bold" text-anchor="end">50</text><text transform="translate(136.3 1895.8) scale(1 1.1)" font-size="28" font-weight="bold" text-anchor="end">0</text><text transform="translate(136.3 1931) scale(1 1.1)" font-size="28" font-weight="bold" text-anchor="end">50</text><text transform="translate(136.3 1965.6) scale(1 1.1)" font-size="28" font-weight="bold" text-anchor="end">0</text><text transform="translate(136.3 2000.8) scale(1 1.1)" font-size="28" font-weight="bold" text-anchor="end">50</text><text transform="translate(136.3 2035.4) scale(1 1.1)" font-size="28" font-weight="bold" text-anchor="end">0</text><text transform="translate(136.3 2070.6) scale(1 1.1)" font-size="28" font-weight="bold" text-anchor="end">50</text><text transform="translate(136.3 2105.2) scale(1 1.1)" font-size="28" font-weight="bold" text-anchor="end">0</text><text transform="translate(136.3 2140.4) scale(1 1.1)" font-size="28" font-weight="bold" text-anchor="end">50</text><text transform="translate(136.3 2175) scale(1 1.1)" font-size="28" font-weight="bold" text-anchor="end">0</text><text transform="translate(136.3 2210.2) scale(1 1.1)" font-size="28" font-weight="bold" text-anchor="end">50</text><text transform="translate(136.3 2244.8) scale(1 1.1)" font-size="28" font-weight="bold" text-anchor="end">0</text><text transform="translate(1777.2 813.2) scale(0.985 1.035)" font-size="42">WT</text><text transform="translate(1777.2 883.1) scale(0.985 1.035)" font-size="42">W101A</text><text transform="translate(1777.2 953.1) scale(0.985 1.035)" font-size="42">W101R</text><text transform="translate(1777.2 1023) scale(0.985 1.035)" font-size="42">W101N</text><text transform="translate(1777.2 1092.9) scale(0.985 1.035)" font-size="42">W101D</text><text transform="translate(1777.2 1162.9) scale(0.985 1.035)" font-size="42">W101C</text><text transform="translate(1777.2 1232.8) scale(0.985 1.035)" font-size="42">W101Q</text><text transform="translate(1777.2 1302.7) scale(0.985 1.035)" font-size="42">W101E</text><text transform="translate(1777.2 1372.6) scale(0.985 1.035)" font-size="42">W101G</text><text transform="translate(1777.2 1442.6) scale(0.985 1.035)" font-size="42">W101H</text><text transform="translate(1777.2 1512.5) scale(0.985 1.035)" font-size="42">W101I</text><text transform="translate(1777.2 1582.4) scale(0.985 1.035)" font-size="42">W101L</text><text transform="translate(1777.2 1652.4) scale(0.985 1.035)" font-size="42">W101K</text><text transform="translate(1777.2 1722.3) scale(0.985 1.035)" font-size="42">W101M</text><text transform="translate(1777.2 1792.2) scale(0.985 1.035)" font-size="42">W101F</text><text transform="translate(1777.2 1862.2) scale(0.985 1.035)" font-size="42">W101P</text><text transform="translate(1777.2 1932.1) scale(0.985 1.035)" font-size="42">W101S</text><text transform="translate(1777.2 2002) scale(0.985 1.035)" font-size="42">W101T</text><text transform="translate(1777.2 2071.9) scale(0.985 1.035)" font-size="42">W101Y</text><text transform="translate(1777.2 2141.9) scale(0.985 1.035)" font-size="42">W101V</text><text transform="translate(1777.2 2211.8) scale(0.985 1.035)" font-size="42">Control</text><path d="M55.6 2082V755" stroke="#231815" stroke-width="4.2" fill="none"/><path d="M55.5 724.3L76 759.8H35.2Z" fill="#231815"/><text transform="translate(73.5 2205.5) rotate(-90)" font-size="42" text-anchor="middle">Cell Count</text><text x="168.8" y="2355.7" font-size="42">Intensity</text><path d="M344 2346.7H1730" stroke="#231815" stroke-width="3.8" fill="none"/><path d="M1760.6 2346.9L1726.1 2326.7V2367Z" fill="#231815"/></svg></body></html>
